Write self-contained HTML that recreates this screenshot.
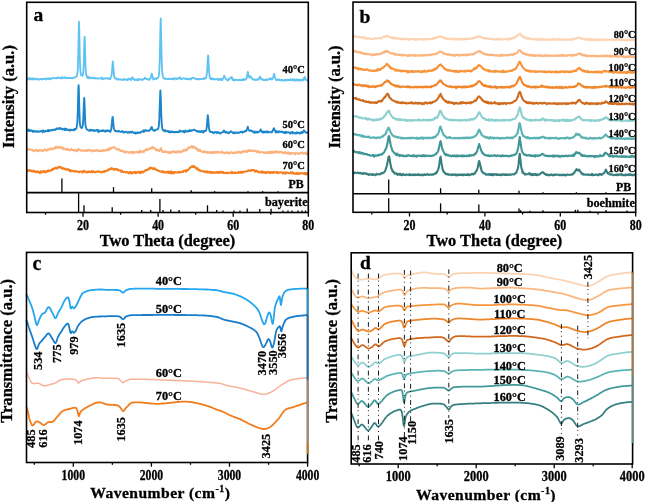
<!DOCTYPE html>
<html><head><meta charset="utf-8"><style>
html,body{margin:0;padding:0;background:#fff;}
svg{display:block;filter:blur(0.3px);}
text{font-family:"Liberation Serif",serif;font-weight:bold;fill:#000;stroke:#000;stroke-width:0.3px;}
</style></head><body>
<svg width="646" height="502" viewBox="0 0 646 502">
<rect width="646" height="502" fill="#fff"/>
<path d="M27.3 170.3 L27.8 170.6 L28.3 170 L28.8 170.9 L29.3 170.5 L29.8 170 L30.3 170.5 L30.8 171.1 L31.3 171.1 L31.8 170.5 L32.3 171.4 L32.8 171.1 L33.3 171.5 L33.8 171.5 L34.3 170.9 L34.8 171.7 L35.3 171.3 L35.8 172.3 L36.3 172.1 L36.8 171.8 L37.3 171.4 L37.8 172 L38.3 172.1 L38.8 171.5 L39.3 173 L39.8 172.2 L40.3 172.7 L40.8 171.4 L41.3 172.7 L41.8 171.3 L42.3 171.6 L42.8 172.1 L43.3 171.8 L43.8 170.7 L44.3 171.2 L44.8 172 L45.3 172.5 L45.8 171.9 L46.3 171.3 L46.8 171.7 L47.3 170.7 L47.8 171.4 L48.3 170.4 L48.8 170.9 L49.3 170.7 L49.8 171 L50.3 170.3 L50.8 170.8 L51.3 170 L51.8 170.2 L52.3 170 L52.8 168.6 L53.3 169.2 L53.8 169 L54.3 168.4 L54.8 168.6 L55.3 167.6 L55.8 168.3 L56.3 168.1 L56.8 167.8 L57.3 168.6 L57.8 167.5 L58.3 167.3 L58.8 166.9 L59.3 167.3 L59.8 166.8 L60.3 167.8 L60.8 167 L61.3 167.5 L61.8 168.5 L62.3 168.3 L62.8 168 L63.3 168.7 L63.8 168.3 L64.3 168.9 L64.8 168.8 L65.3 168.6 L65.8 169.4 L66.3 169.8 L66.8 169.4 L67.3 169.3 L67.8 169.7 L68.3 169 L68.8 170 L69.3 169.9 L69.8 171.4 L70.3 170.4 L70.8 170 L71.3 171.2 L71.8 170.8 L72.3 171 L72.8 171.1 L73.3 171.2 L73.8 171 L74.3 171.7 L74.8 171.5 L75.3 171.1 L75.8 171.3 L76.3 171 L76.8 171.6 L77.3 171.8 L77.8 171.8 L78.3 171.8 L78.8 171.5 L79.3 172.3 L79.8 171.5 L80.3 171.6 L80.8 171.4 L81.3 171.6 L81.8 171.5 L82.3 172.6 L82.8 171.8 L83.3 170.9 L83.8 171.5 L84.3 171.1 L84.8 172.1 L85.3 172.3 L85.8 171.5 L86.3 172 L86.8 171.7 L87.3 172 L87.8 172.6 L88.3 171.6 L88.8 171.2 L89.3 172.1 L89.8 172.1 L90.3 172.1 L90.8 172.3 L91.3 171.5 L91.8 171 L92.3 172.3 L92.8 171.7 L93.3 171.3 L93.8 171.4 L94.3 172.4 L94.8 172 L95.3 172 L95.8 172.3 L96.3 171.6 L96.8 171.4 L97.3 171.5 L97.8 171.4 L98.3 171.8 L98.8 171.5 L99.3 171.9 L99.8 171.7 L100.3 171.8 L100.8 172.1 L101.3 172.4 L101.8 172.4 L102.3 171.7 L102.8 171.7 L103.3 171.3 L103.8 171.9 L104.3 172 L104.8 171 L105.3 171.5 L105.8 170.8 L106.3 170.7 L106.8 170.7 L107.3 170.3 L107.8 170.7 L108.3 169.4 L108.8 169.6 L109.3 169.6 L109.8 169 L110.3 169.4 L110.8 168.4 L111.3 169 L111.8 168.1 L112.3 168.6 L112.8 168.9 L113.3 169.6 L113.8 169.1 L114.3 169.4 L114.8 168.8 L115.3 169.8 L115.8 168.9 L116.3 169.1 L116.8 168.9 L117.3 169.7 L117.8 170.3 L118.3 169.8 L118.8 170.1 L119.3 170.3 L119.8 170.6 L120.3 170.7 L120.8 170.5 L121.3 171.9 L121.8 170.6 L122.3 171.2 L122.8 171.9 L123.3 172.3 L123.8 171.9 L124.3 171.9 L124.8 172.1 L125.3 172.1 L125.8 172.6 L126.3 172.1 L126.8 171.9 L127.3 172.2 L127.8 172.5 L128.3 173 L128.8 173.2 L129.3 172.3 L129.8 171.9 L130.3 171.9 L130.8 173.5 L131.3 172.4 L131.8 172.8 L132.3 173.4 L132.8 172.3 L133.3 172.5 L133.8 172.3 L134.3 172.1 L134.8 173 L135.3 173.1 L135.8 171.7 L136.3 173 L136.8 172.4 L137.3 172.6 L137.8 172.6 L138.3 171.8 L138.8 172.2 L139.3 171.9 L139.8 173.1 L140.3 173.2 L140.8 172.1 L141.3 171.5 L141.8 172.4 L142.3 171.7 L142.8 172.4 L143.3 172.3 L143.8 172 L144.3 170.9 L144.8 170.4 L145.3 170.3 L145.8 170.4 L146.3 169.7 L146.8 170.4 L147.3 169.9 L147.8 169.4 L148.3 168.9 L148.8 169.2 L149.3 169.3 L149.8 167.6 L150.3 168.4 L150.8 168.1 L151.3 167.8 L151.8 168 L152.3 168.2 L152.8 169.1 L153.3 168.4 L153.8 168.3 L154.3 168.1 L154.8 169.3 L155.3 168.8 L155.8 169.3 L156.3 170 L156.8 169.9 L157.3 169.9 L157.8 170.3 L158.3 171 L158.8 170.8 L159.3 171.1 L159.8 171.4 L160.3 171.2 L160.8 171.6 L161.3 171.5 L161.8 172.2 L162.3 172 L162.8 171.1 L163.3 171.9 L163.8 172.5 L164.3 172 L164.8 171.9 L165.3 172.6 L165.8 171.7 L166.3 172.2 L166.8 172.4 L167.3 172.6 L167.8 171.7 L168.3 171.6 L168.8 172.9 L169.3 171.9 L169.8 172.2 L170.3 173.3 L170.8 172 L171.3 171.2 L171.8 173.4 L172.3 172.6 L172.8 172.3 L173.3 173.4 L173.8 172.1 L174.3 172.8 L174.8 172.1 L175.3 172 L175.8 172.4 L176.3 172.4 L176.8 172.6 L177.3 172.5 L177.8 171.8 L178.3 171.9 L178.8 172.8 L179.3 172.2 L179.8 171.9 L180.3 172.4 L180.8 172.4 L181.3 172.3 L181.8 171.4 L182.3 171.4 L182.8 171.8 L183.3 171.9 L183.8 170.7 L184.3 170.9 L184.8 170.9 L185.3 171.3 L185.8 170.1 L186.3 171.6 L186.8 170.2 L187.3 170.1 L187.8 170.5 L188.3 169.5 L188.8 169.2 L189.3 168.4 L189.8 168.3 L190.3 167.3 L190.8 167.4 L191.3 167.1 L191.8 166.4 L192.3 167.1 L192.8 166.8 L193.3 165.7 L193.8 167 L194.3 166.4 L194.8 167.4 L195.3 167.1 L195.8 167.6 L196.3 168.3 L196.8 169.3 L197.3 168.1 L197.8 169 L198.3 169.3 L198.8 170.3 L199.3 169.9 L199.8 170.5 L200.3 171.1 L200.8 171 L201.3 170.7 L201.8 170.9 L202.3 171.1 L202.8 171.4 L203.3 171.1 L203.8 171.5 L204.3 171.9 L204.8 171.5 L205.3 171.6 L205.8 172 L206.3 172.2 L206.8 171.3 L207.3 171.5 L207.8 172.6 L208.3 172.1 L208.8 171.6 L209.3 172.2 L209.8 172.9 L210.3 171.9 L210.8 171.8 L211.3 172.2 L211.8 173 L212.3 172.1 L212.8 172.6 L213.3 172.9 L213.8 172.7 L214.3 172.3 L214.8 172.8 L215.3 172.6 L215.8 172.9 L216.3 172.7 L216.8 172.7 L217.3 171.8 L217.8 172.9 L218.3 172.6 L218.8 171.8 L219.3 172.7 L219.8 172.9 L220.3 172.7 L220.8 171.6 L221.3 172.4 L221.8 172.3 L222.3 172.6 L222.8 171.7 L223.3 172.9 L223.8 173 L224.3 173 L224.8 172.7 L225.3 172.7 L225.8 173.2 L226.3 172.9 L226.8 172.5 L227.3 172.9 L227.8 173 L228.3 173.3 L228.8 172.9 L229.3 172.4 L229.8 172.5 L230.3 172.8 L230.8 172.8 L231.3 173.2 L231.8 171.9 L232.3 172.4 L232.8 172.2 L233.3 173.2 L233.8 173 L234.3 172.8 L234.8 173 L235.3 172.4 L235.8 172.9 L236.3 172.7 L236.8 172.7 L237.3 172.5 L237.8 173 L238.3 173 L238.8 171.9 L239.3 172.3 L239.8 172.5 L240.3 172.7 L240.8 171.7 L241.3 171.9 L241.8 172.1 L242.3 173 L242.8 171.7 L243.3 171.8 L243.8 171.9 L244.3 171.8 L244.8 171.8 L245.3 171.6 L245.8 171.4 L246.3 171.4 L246.8 171.3 L247.3 171.2 L247.8 171.1 L248.3 170.2 L248.8 170.7 L249.3 170.6 L249.8 170.7 L250.3 170.6 L250.8 170.9 L251.3 169.8 L251.8 170.1 L252.3 170.3 L252.8 169.9 L253.3 170.1 L253.8 170.2 L254.3 170.2 L254.8 171.6 L255.3 170.7 L255.8 171.5 L256.3 170.6 L256.8 171.2 L257.3 171 L257.8 171.5 L258.3 172.2 L258.8 172.5 L259.3 172.1 L259.8 172 L260.3 171.9 L260.8 172.2 L261.3 172.7 L261.8 171.4 L262.3 172.1 L262.8 171.8 L263.3 172.8 L263.8 171.8 L264.3 172.7 L264.8 171.9 L265.3 171.9 L265.8 173.1 L266.3 172.9 L266.8 172.1 L267.3 171.7 L267.8 172 L268.3 172.7 L268.8 172.5 L269.3 172.1 L269.8 172.7 L270.3 173.1 L270.8 172 L271.3 172.4 L271.8 172.1 L272.3 173 L272.8 172.5 L273.3 172.2 L273.8 171.7 L274.3 172.8 L274.8 172.4 L275.3 172.5 L275.8 172.4 L276.3 172.7 L276.8 171.7 L277.3 172.1 L277.8 172.6 L278.3 173.3 L278.8 172.6 L279.3 172.4 L279.8 172.2 L280.3 172.2 L280.8 172.4 L281.3 172.2 L281.8 172.6 L282.3 172.6 L282.8 173.5 L283.3 172.6 L283.8 173.1 L284.3 172.5 L284.8 173.1 L285.3 173.8 L285.8 172.5 L286.3 172.2 L286.8 173.2 L287.3 172.8 L287.8 172.7 L288.3 173 L288.8 173 L289.3 173.4 L289.8 173.1 L290.3 172.7 L290.8 172.5 L291.3 172.2 L291.8 172.5 L292.3 173.5 L292.8 172.4 L293.3 173.1 L293.8 173.6 L294.3 173.4 L294.8 173.8 L295.3 173.5 L295.8 173.9 L296.3 172.9 L296.8 172.8 L297.3 174.1 L297.8 173.4 L298.3 173.3 L298.8 173 L299.3 174 L299.8 173.6 L300.3 173.6 L300.8 173.1 L301.3 173.4 L301.8 173.2 L302.3 173.4 L302.8 173.6 L303.3 173.3 L303.8 173.1 L304.3 173.9 L304.8 173.1 L305.3 174.2 L305.8 174.3 L306.3 173 L306.8 174.4 L307.3 173.3" fill="none" stroke="#f47f21" stroke-width="2.0" stroke-linejoin="round" stroke-linecap="round"/>
<path d="M27.3 150.1 L27.8 149.5 L28.3 149.5 L28.8 148.7 L29.3 149.5 L29.8 149.5 L30.3 149.8 L30.8 149.6 L31.3 150 L31.8 149.9 L32.3 149.6 L32.8 150.6 L33.3 150.7 L33.8 151.2 L34.3 150.4 L34.8 150.3 L35.3 150.2 L35.8 149.8 L36.3 150.9 L36.8 150 L37.3 150 L37.8 150.4 L38.3 151.2 L38.8 150.6 L39.3 150.1 L39.8 150.2 L40.3 150.8 L40.8 150.5 L41.3 150.2 L41.8 150.5 L42.3 150.9 L42.8 151.4 L43.3 150 L43.8 150.2 L44.3 150.1 L44.8 149.4 L45.3 150 L45.8 149.9 L46.3 150.8 L46.8 150.2 L47.3 149.4 L47.8 150.3 L48.3 149.8 L48.8 149 L49.3 149.4 L49.8 149.3 L50.3 149 L50.8 149.3 L51.3 148.1 L51.8 148.8 L52.3 149.2 L52.8 149 L53.3 148.9 L53.8 148.7 L54.3 148.7 L54.8 147.4 L55.3 148.1 L55.8 146.8 L56.3 147.2 L56.8 146.5 L57.3 147.8 L57.8 147.8 L58.3 147.1 L58.8 148 L59.3 146.9 L59.8 147.3 L60.3 147.4 L60.8 147 L61.3 147.8 L61.8 148.6 L62.3 147.4 L62.8 148.4 L63.3 148.1 L63.8 149.2 L64.3 148.8 L64.8 149 L65.3 149.2 L65.8 149.1 L66.3 148.6 L66.8 150 L67.3 148.8 L67.8 149.7 L68.3 150 L68.8 149.4 L69.3 150 L69.8 150.5 L70.3 150.1 L70.8 149.7 L71.3 148.9 L71.8 149.8 L72.3 150 L72.8 150.1 L73.3 149.9 L73.8 150.6 L74.3 150.1 L74.8 150.4 L75.3 150.7 L75.8 150.1 L76.3 150.3 L76.8 151.4 L77.3 150.7 L77.8 149.4 L78.3 149.2 L78.6 149 L78.8 149.7 L79.3 150 L79.8 150.1 L80.3 150.1 L80.8 150.8 L81.3 150.6 L81.8 150.3 L82.3 150.4 L82.8 150.3 L83.3 150.8 L83.8 150.2 L84.3 150.7 L84.8 150.9 L85.3 150.7 L85.8 150.1 L86.3 151.1 L86.8 150.2 L87.3 150.7 L87.8 150.2 L88.3 149.7 L88.8 150.6 L89.3 150.6 L89.8 150.4 L90.3 150.6 L90.8 150.2 L91.3 150.2 L91.8 150.5 L92.3 151.4 L92.8 150.9 L93.3 150.3 L93.8 150.8 L94.3 150.4 L94.8 150.4 L95.3 151 L95.8 150.4 L96.3 149.9 L96.8 150.3 L97.3 150.7 L97.8 150.8 L98.3 151.3 L98.8 150.4 L99.3 151.1 L99.8 150.9 L100.3 150.7 L100.8 151.1 L101.3 150.9 L101.8 150.3 L102.3 151.2 L102.8 150.1 L103.3 150.7 L103.8 150.6 L104.3 150.7 L104.8 150.1 L105.3 150.3 L105.8 150.2 L106.3 150.6 L106.8 149.6 L107.3 149.8 L107.8 149.5 L108.3 148.8 L108.8 150.4 L109.3 148.9 L109.8 148 L110.3 149.1 L110.8 147.7 L111.3 148.2 L111.8 148.2 L112.3 147.4 L112.8 147.5 L113.3 147.4 L113.8 147.6 L114.3 147 L114.8 147.3 L115.3 148 L115.8 148.8 L116.3 148.9 L116.8 149.6 L117.3 149.4 L117.8 149.2 L118.3 149.6 L118.8 149 L119.3 149.8 L119.8 150 L120.3 150.8 L120.8 151.1 L121.3 150.8 L121.8 150.9 L122.3 150.6 L122.8 151.4 L123.3 151.6 L123.8 151.8 L124.3 151.3 L124.8 152.6 L125.3 152.3 L125.8 151.8 L126.3 151.7 L126.8 151.8 L127.3 152.1 L127.8 152 L128.3 152.3 L128.8 152.4 L129.3 152.7 L129.8 152.7 L130.3 152.1 L130.8 152.3 L131.3 152 L131.8 151.9 L132.3 153 L132.8 152 L133.3 153.1 L133.8 152 L134.3 152.3 L134.8 152.6 L135.3 152.1 L135.8 152.3 L136.3 152 L136.8 151.9 L137.3 152 L137.8 151.7 L138.3 152.7 L138.8 151.9 L139.3 152.7 L139.8 150.6 L140.3 151.8 L140.8 151.9 L141.3 151.4 L141.8 152 L142.3 151.6 L142.8 151.1 L143.3 151.2 L143.8 152.1 L144.3 150.8 L144.8 150.6 L145.3 150 L145.8 150 L146.3 149.1 L146.8 149.4 L147.3 150.3 L147.8 149.4 L148.3 149 L148.8 149 L149.3 149.1 L149.8 148.3 L150.3 148.8 L150.8 148.3 L151.3 147.8 L151.8 148.5 L152.3 146.7 L152.8 147.6 L153.3 148.1 L153.8 147.7 L154.3 148.2 L154.8 148.2 L155.3 148.5 L155.8 150.2 L156.3 149.6 L156.8 149.5 L157.3 150.4 L157.8 149.9 L158.3 150.6 L158.8 150.5 L159.3 151.2 L159.8 149.8 L160.3 150 L160.8 148.5 L161 148.3 L161.3 149.3 L161.8 150 L162.3 151.9 L162.8 151.7 L163.3 151.9 L163.8 151.8 L164.3 152.2 L164.8 151 L165.3 151.9 L165.8 151.7 L166.3 152.1 L166.8 152 L167.3 152.3 L167.8 151.7 L168.3 152.9 L168.8 153.1 L169.3 152 L169.8 152.1 L170.3 152.2 L170.8 152.6 L171.3 152.9 L171.8 151.5 L172.3 151.8 L172.8 151.6 L173.3 151.6 L173.8 151.3 L174.3 152.2 L174.8 151.5 L175.3 152.7 L175.8 152.4 L176.3 151.6 L176.8 151.5 L177.3 151.7 L177.8 152.6 L178.3 151.5 L178.8 151.2 L179.3 151.8 L179.8 152 L180.3 151.4 L180.8 152.4 L181.3 151.7 L181.8 151.7 L182.3 151 L182.8 151.2 L183.3 151 L183.8 149.9 L184.3 150.8 L184.8 149.7 L185.3 150.2 L185.8 149.3 L186.3 150.6 L186.8 149.5 L187.3 149.4 L187.8 149.1 L188.3 147.8 L188.8 147 L189.3 147.5 L189.8 147.8 L190.3 147.2 L190.8 147.3 L191.3 147.2 L191.8 146 L192.3 146.8 L192.8 147.7 L193.3 146.7 L193.8 146.3 L194.3 147.4 L194.8 147.6 L195.3 148.3 L195.8 148.1 L196.3 148.9 L196.8 148.2 L197.3 149.9 L197.8 150.5 L198.3 150.7 L198.8 149.7 L199.3 150.8 L199.8 149.5 L200.3 151.2 L200.8 151.2 L201.3 151 L201.8 151.7 L202.3 151.7 L202.8 152.2 L203.3 151.9 L203.8 152.1 L204.3 151.1 L204.8 151.5 L205.3 151.9 L205.8 152.3 L206.3 152.2 L206.8 152.9 L207.3 151.9 L207.8 152.2 L208.3 152.4 L208.8 152.2 L209.3 152.6 L209.8 152.1 L210.3 153 L210.8 152.3 L211.3 152.9 L211.8 152.4 L212.3 153.1 L212.8 151.8 L213.3 152.7 L213.8 152.3 L214.3 152.6 L214.8 153 L215.3 152 L215.8 151.9 L216.3 152.1 L216.8 152.6 L217.3 151.7 L217.8 152.6 L218.3 152 L218.8 152 L219.3 152.4 L219.8 152.7 L220.3 152.3 L220.8 152.4 L221.3 152.6 L221.8 152.5 L222.3 151.4 L222.8 152.4 L223.3 152.6 L223.8 153.1 L224.3 153.5 L224.8 152.9 L225.3 152.7 L225.8 152.2 L226.3 152.7 L226.8 153 L227.3 153.2 L227.8 152.2 L228.3 152.8 L228.8 153 L229.3 153.5 L229.8 152.8 L230.3 152.4 L230.8 152.3 L231.3 152.5 L231.8 152.4 L232.3 153 L232.8 153.1 L233.3 153 L233.8 153.2 L234.3 152.4 L234.8 152.8 L235.3 152.4 L235.8 152.6 L236.3 153.1 L236.8 152.5 L237.3 151.7 L237.8 152.4 L238.3 152.1 L238.8 151.7 L239.3 152 L239.8 152.8 L240.3 153 L240.8 152 L241.3 152.6 L241.8 152.6 L242.3 151.4 L242.8 151.9 L243.3 151.8 L243.8 151.7 L244.3 150.8 L244.8 151.3 L245.3 151.8 L245.8 151.8 L246.3 151.9 L246.8 150.8 L247.3 151.7 L247.8 151.1 L248.3 150.1 L248.8 151 L249.3 150.4 L249.8 150.7 L250.3 150.4 L250.8 151 L251.3 150.6 L251.8 150.4 L252.3 151 L252.8 150.7 L253.3 150.5 L253.8 151.3 L254.3 150.7 L254.8 150.7 L255.3 150.9 L255.8 150.6 L256.3 151.1 L256.8 152.3 L257.3 151.2 L257.8 151.7 L258.3 151.3 L258.8 151.7 L259.3 152.7 L259.8 152.6 L260.3 152 L260.8 152.3 L261.3 152 L261.8 152.1 L262.3 152.1 L262.8 152.2 L263.3 152.8 L263.8 152.9 L264.3 152.9 L264.8 152.6 L265.3 152.1 L265.8 152.7 L266.3 152.3 L266.8 153.1 L267.3 153 L267.8 153 L268.3 152.5 L268.8 151.8 L269.3 153 L269.8 153.1 L270.3 151.8 L270.8 152.5 L271.3 152.9 L271.8 151.8 L272.3 153 L272.8 152 L273.3 151.6 L273.8 152.7 L274.3 152.1 L274.8 151.7 L275.3 152.3 L275.8 151.1 L276.3 152.7 L276.8 151.6 L277.3 152.1 L277.8 151.8 L278.3 152.2 L278.8 152.5 L279.3 151.7 L279.8 152.5 L280.3 152.1 L280.8 152 L281.3 152.3 L281.8 152 L282.3 152.2 L282.8 153.1 L283.3 152.6 L283.8 153.3 L284.3 153 L284.8 152.4 L285.3 152.1 L285.8 152.7 L286.3 153.2 L286.8 153.1 L287.3 152.7 L287.8 153.6 L288.3 152.4 L288.8 152.6 L289.3 153.3 L289.8 154.2 L290.3 153.4 L290.8 152.8 L291.3 153.5 L291.8 153.6 L292.3 153.7 L292.8 153.1 L293.3 152.9 L293.8 153.4 L294.3 153.5 L294.8 154 L295.3 154.3 L295.8 153 L296.3 153.1 L296.8 153.3 L297.3 153.2 L297.8 153.6 L298.3 153.6 L298.8 153.5 L299.3 154 L299.8 153.3 L300.3 152.9 L300.8 152.7 L301.3 152.9 L301.8 152.9 L302.3 152.6 L302.8 153.7 L303.3 153.5 L303.8 153.3 L304.3 153.1 L304.8 152.8 L305.3 153.1 L305.8 154.3 L306.3 152.5 L306.8 153.6 L307.3 153.9" fill="none" stroke="#fbb27c" stroke-width="2.0" stroke-linejoin="round" stroke-linecap="round"/>
<path d="M27.3 130.1 L27.8 130.3 L28.3 129.6 L28.8 131.1 L29.3 129.8 L29.8 130.3 L30.3 130.9 L30.8 130.3 L31.3 130.4 L31.8 130.5 L32.3 131.2 L32.8 131.9 L33.3 131.1 L33.8 130.7 L34.3 131.4 L34.8 131.1 L35.3 131.4 L35.8 131.9 L36.3 131.2 L36.8 131.6 L37.3 131.3 L37.8 131.6 L38.3 131.9 L38.8 131.3 L39.3 131.6 L39.8 131.5 L40.3 131.3 L40.8 131.1 L41.3 130.9 L41.8 131.4 L42.3 131.3 L42.8 132.2 L43.3 130.3 L43.8 131.3 L44.3 131.3 L44.8 131.7 L45.3 131.3 L45.8 130.7 L46.3 130.9 L46.8 131.1 L47.3 130.7 L47.8 131.1 L48.3 129.9 L48.8 131.3 L49.3 131.1 L49.8 130.3 L50.3 130.6 L50.8 130.3 L51.3 129.9 L51.8 130.2 L52.3 130.5 L52.8 129.8 L53.3 129.7 L53.8 129.8 L54.3 129.8 L54.8 130.1 L55.3 129.2 L55.8 129.5 L56.3 129.3 L56.8 128.3 L57.3 128.8 L57.8 128.9 L58.3 128.8 L58.8 128.9 L59.3 127.9 L59.8 128.8 L60.3 128.5 L60.8 128.2 L61.3 129.1 L61.8 129.2 L62.3 128.7 L62.8 129.4 L63.3 129 L63.8 129.3 L64.3 128.9 L64.8 130.1 L65.3 128.5 L65.8 129.6 L66.3 130 L66.8 129 L67.3 129.8 L67.8 129.8 L68.3 130.2 L68.8 130.4 L69.3 129.8 L69.8 129.4 L70.3 130.5 L70.8 130.4 L71.3 129.8 L71.8 130.1 L72.3 130.1 L72.8 130.1 L73.3 129.9 L73.8 130.3 L74.3 128.9 L74.8 129.9 L75.3 129.4 L75.8 128.8 L76.3 128.8 L76.8 126.1 L77.3 123.6 L77.8 111.5 L78.3 91 L78.6 85.2 L78.8 88 L79.3 108.7 L79.8 122.1 L80.3 126.5 L80.8 127.4 L81.3 127.9 L81.8 128 L82.3 127.4 L82.8 125.3 L83.3 118.6 L83.8 105.1 L84.2 98 L84.3 98.3 L84.8 111 L85.3 123.8 L85.8 126.7 L86.3 128.3 L86.8 129.5 L87.3 129.5 L87.8 130 L88.3 130.3 L88.8 130.6 L89.3 130.5 L89.8 129.9 L90.3 130.8 L90.8 129.7 L91.3 130.3 L91.8 130.2 L92.3 130 L92.8 130.7 L93.3 130.4 L93.8 130.9 L94.3 130 L94.8 130.9 L95.3 130.8 L95.8 130.7 L96.3 130.1 L96.8 130.5 L97.3 130 L97.8 129.8 L98.3 132 L98.8 131.1 L99.3 131.4 L99.8 130.5 L100.3 131 L100.8 131 L101.3 131 L101.8 130.8 L102.3 130.7 L102.8 130 L103.3 131.1 L103.8 131 L104.3 131.3 L104.8 130.7 L105.3 131.6 L105.8 130.7 L106.3 130.4 L106.8 131.2 L107.3 130.7 L107.8 130.3 L108.3 130.9 L108.8 131.1 L109.3 130.8 L109.8 130.8 L110.3 132 L110.8 130.3 L111.3 129.1 L111.8 123.8 L112.3 118.7 L112.6 116.9 L112.8 117.5 L113.3 123.1 L113.8 128.2 L114.3 129.7 L114.8 130.3 L115.3 131.2 L115.8 131.4 L116.3 131.1 L116.8 130.9 L117.3 131.4 L117.8 131.5 L118.3 131.5 L118.8 130.7 L119.3 131.2 L119.8 131.6 L120.3 131.7 L120.8 131.9 L121.3 131.9 L121.8 131.2 L122.3 131.4 L122.8 131.3 L123.3 132.5 L123.8 131.9 L124.3 132.1 L124.8 132.4 L125.3 131.9 L125.8 131.6 L126.3 131.9 L126.8 132.1 L127.3 132.8 L127.8 132.6 L128.3 131.9 L128.8 132.6 L129.3 132.7 L129.8 132 L130.3 132.4 L130.8 131.8 L131.3 132.6 L131.8 132.2 L132.3 131.6 L132.4 132.1 L132.8 132.4 L133.3 132.4 L133.8 132.8 L134.3 133 L134.8 132.5 L135.3 132.7 L135.8 133.7 L136.3 132.9 L136.8 132.6 L137.3 133 L137.8 132.3 L138.3 133.1 L138.8 132.7 L139.3 132.9 L139.8 132.7 L140.3 132.3 L140.8 132.5 L141.3 132 L141.8 131.6 L142.3 131.3 L142.8 131.4 L143.3 130.4 L143.8 132 L144.3 130.5 L144.8 131 L145.3 130.4 L145.8 130 L146.3 130.7 L146.8 130.6 L147.3 130.7 L147.8 130.9 L148.3 130.4 L148.8 130.7 L149.3 130.7 L149.8 130.2 L150.3 129.7 L150.8 128.8 L151.3 127.4 L151.4 127.4 L151.8 127 L152.3 129.3 L152.8 130.1 L153.3 130.1 L153.8 130.4 L154.3 131 L154.8 130.2 L155.3 130.4 L155.8 129.7 L156.3 129.6 L156.8 129.6 L157.3 129.2 L157.8 129.2 L158.3 128.1 L158.8 126.3 L159.3 119.4 L159.8 105 L160.3 90.9 L160.4 90.5 L160.8 98.4 L161.3 115.1 L161.8 124.7 L162.3 128.6 L162.8 130 L163.3 130.3 L163.8 130.2 L164.3 131.3 L164.8 130.2 L165.3 130.2 L165.8 131.2 L166.3 131.2 L166.8 131.3 L167.3 131.4 L167.8 130.8 L168.3 131.1 L168.8 132.1 L169.3 132.1 L169.8 131.4 L170.3 132.5 L170.8 131.4 L171.3 131.6 L171.8 132 L172.3 131.5 L172.8 131.8 L173.3 132 L173.8 132 L174.3 132.5 L174.8 132.4 L175.3 131.8 L175.8 131.9 L176.3 132.2 L176.8 132 L177.3 131.7 L177.8 132.1 L178.3 132.2 L178.8 131.5 L179.3 131.8 L179.8 130.6 L179.9 131.2 L180.3 131.5 L180.8 131.2 L181.3 131.2 L181.8 131.5 L182.3 131.3 L182.8 131.6 L183.3 130.9 L183.8 131.3 L184.3 132.6 L184.8 131.4 L185.3 130.5 L185.8 131.5 L186.3 131.4 L186.8 131.7 L187.3 131.1 L187.8 130.8 L188.3 131.5 L188.8 131.2 L189.3 130.1 L189.8 131.1 L190.3 130.6 L190.8 131 L191.3 130.3 L191.8 130.7 L192.3 130.4 L192.8 130.4 L193.3 129.9 L193.8 129.6 L194.3 129.8 L194.8 130.1 L195.3 130.2 L195.8 130.9 L196.3 130.7 L196.8 131 L197.3 131.8 L197.8 131.2 L198.3 131.5 L198.8 131.1 L199.3 131.5 L199.8 132.1 L200.3 131.6 L200.8 132.1 L201.3 131.1 L201.8 131 L202.3 131.7 L202.8 131 L203.3 132.6 L203.8 132 L204.3 131 L204.8 131.3 L205.3 131 L205.8 131 L206.3 129.7 L206.8 126.9 L207.3 120.6 L207.8 115.2 L208.3 119.6 L208.8 126.8 L209.3 129.9 L209.8 131.5 L210.3 131.4 L210.8 132.1 L211.3 132 L211.8 131.9 L212.3 131.9 L212.8 132.4 L213.3 133.2 L213.8 132.5 L214.3 132.2 L214.8 132.6 L215.3 132.3 L215.8 131.8 L216.3 132.5 L216.8 133 L217.3 132.3 L217.8 131.9 L218.3 132.6 L218.8 133.2 L219.3 132.8 L219.8 132.9 L220.3 133.4 L220.8 133.1 L221.3 132.8 L221.8 132.4 L222.3 132.4 L222.8 132.1 L223.3 131.9 L223.8 130.5 L224 130.8 L224.3 131 L224.8 131.6 L225.3 132.6 L225.8 131.7 L226.3 132.3 L226.8 132.4 L227.3 133 L227.8 132.5 L228.3 133.2 L228.8 132.5 L229.3 132.8 L229.8 132 L230.3 132.1 L230.8 131.2 L231.3 131.9 L231.8 132.1 L232.3 132.2 L232.8 132.7 L233.3 133.3 L233.8 132.5 L234.3 132.3 L234.8 132.8 L235.3 133.3 L235.8 132.5 L236.3 132.6 L236.8 132.9 L237.3 132.6 L237.8 132.8 L238.3 133 L238.8 132.5 L239.3 132.4 L239.8 132.6 L240.3 132.2 L240.8 131.8 L241.3 131.7 L241.8 131.6 L242.3 132.7 L242.8 131.8 L243.3 132 L243.8 132 L244.3 131.2 L244.8 131.7 L245.3 131.2 L245.8 130.5 L246.3 131 L246.8 129.8 L247.3 128.2 L247.8 126.8 L248.3 129.2 L248.8 130 L249.3 130.7 L249.8 130.8 L250.3 130.5 L250.5 130.4 L250.8 130.2 L251.3 130.7 L251.8 131.4 L252.3 131.3 L252.8 131.6 L253.3 131.5 L253.8 132.5 L254.3 131.5 L254.8 132.9 L255.3 131.9 L255.8 131.8 L256.3 131.7 L256.8 132.5 L257.3 132.6 L257.8 131.8 L258.3 132.2 L258.8 131.9 L259.3 131.4 L259.8 130.8 L260.3 130.3 L260.4 129.9 L260.8 129.5 L261.3 131.3 L261.8 131.8 L262.3 132.3 L262.8 131.4 L263.3 131.7 L263.8 132.7 L264.3 131.6 L264.8 132.3 L265.3 131.8 L265.8 132 L266.3 131.6 L266.8 132.6 L267.3 131.3 L267.8 131.6 L268.3 131.7 L268.8 132.5 L269.3 132.2 L269.8 132.3 L270.3 132 L270.8 132.1 L271.3 132.1 L271.8 132.4 L272.3 131.6 L272.8 130.1 L273.3 129.7 L273.8 128.2 L274.3 128.8 L274.8 130.6 L275.3 131 L275.8 132.6 L276.3 131.7 L276.8 131.1 L277.3 132 L277.8 131.6 L278.3 132.5 L278.8 132.1 L279.3 131.3 L279.8 131.9 L280.3 131.7 L280.8 131.8 L281.3 131.9 L281.8 131.4 L282.3 132.3 L282.8 131.9 L283.3 132 L283.8 132.6 L284.3 133.1 L284.8 132.2 L285.3 133.2 L285.8 131.6 L286.3 132.7 L286.8 132.3 L287.3 132.5 L287.8 132.2 L288.3 132.4 L288.8 132.5 L289.3 132.5 L289.8 132.9 L290.3 133.7 L290.8 132.5 L291.3 132.7 L291.8 132.1 L292.3 131.9 L292.8 133.5 L293.3 132.4 L293.8 132.7 L294.3 133 L294.8 133.3 L295.3 133.1 L295.8 133.7 L296.3 132.9 L296.8 132.2 L297.3 133 L297.8 133 L298.3 132.6 L298.8 132.8 L299.3 132.7 L299.8 133.7 L300.3 132.7 L300.8 132.4 L301.3 133 L301.8 132.1 L302.3 133 L302.8 132.7 L303.3 131.5 L303.8 130.5 L304.1 130.4 L304.3 131.2 L304.8 131.8 L305.3 131.9 L305.8 132.3 L306.3 132.8 L306.8 132.9 L307.3 132.6" fill="none" stroke="#1b86cb" stroke-width="1.9" stroke-linejoin="round" stroke-linecap="round"/>
<path d="M27.3 79.5 L27.8 78.6 L28.3 78.6 L28.8 78.4 L29.3 79.2 L29.8 78 L30.3 79.6 L30.8 78.6 L31.3 79.1 L31.8 78.9 L32.3 79.6 L32.8 78.2 L33.3 78.9 L33.8 78.9 L34.3 79.5 L34.8 78.6 L35.3 79 L35.8 78.7 L36.3 79.1 L36.8 79.4 L37.3 78.7 L37.8 79.6 L38.3 79.5 L38.8 79.4 L39.3 79.6 L39.8 78.9 L40.3 79.2 L40.8 78.9 L41.3 79.2 L41.8 79.5 L42.3 79 L42.8 79 L43.3 78.9 L43.8 78.8 L44.3 78.8 L44.8 79 L45.3 78.5 L45.8 79 L46.3 79.5 L46.8 79.1 L47.3 78.7 L47.8 78.3 L48.3 78.3 L48.8 79.3 L49.3 78.6 L49.8 78.2 L50.3 78.5 L50.8 79.2 L51.3 78.4 L51.8 78.5 L52.3 78.4 L52.8 78 L53.3 77.7 L53.8 77.9 L54.3 78 L54.8 78.2 L55.3 78.3 L55.8 78.3 L56.3 77.9 L56.8 78.1 L57.3 77.4 L57.8 78.2 L58.3 77.9 L58.8 77.6 L59.3 77.9 L59.8 77.7 L60.3 78.2 L60.8 78.4 L61.3 78.6 L61.8 77.2 L62.3 77.2 L62.8 77.6 L63.3 77.9 L63.8 78.2 L64.3 78 L64.8 77.1 L65.3 77.8 L65.8 78.2 L66.3 78 L66.8 78.2 L67.3 77.9 L67.8 77.9 L68.3 78 L68.8 78.1 L69.3 78.1 L69.8 78 L70.3 77.7 L70.8 78.1 L71.3 78 L71.8 78.4 L72.3 78.4 L72.8 77.9 L73.3 77.6 L73.8 77.4 L74.3 77.8 L74.8 77.5 L75.3 77.1 L75.8 77 L76.3 76.3 L76.8 76.1 L77.3 74 L77.8 69.5 L78.3 52.6 L78.8 26.2 L79 21.7 L79.3 30.5 L79.8 57.1 L80.3 70 L80.8 74.2 L81.3 75.4 L81.8 75.2 L82.3 75.8 L82.8 75.3 L83.3 71.9 L83.8 62.5 L84.3 42.6 L84.6 36.7 L84.8 39.2 L85.3 59.7 L85.8 71.6 L86.3 75.2 L86.8 76.1 L87.3 77.5 L87.8 78.1 L88.3 76.8 L88.8 78.2 L89.3 78.4 L89.8 78 L90.3 77.4 L90.8 78.3 L91.3 77.9 L91.8 77.8 L92.3 77.6 L92.8 78.3 L93.3 78.4 L93.8 77.9 L94.3 78.4 L94.8 77.7 L95.3 78.5 L95.8 78.2 L96.3 78.1 L96.8 78.2 L97.3 78.6 L97.8 78.6 L98.3 78.5 L98.8 78.3 L99.3 78.3 L99.8 78.5 L100.3 78.4 L100.8 78.6 L101.3 78.2 L101.8 77.4 L102.3 78.8 L102.8 79.3 L103.3 78.6 L103.8 78.5 L104.3 78.5 L104.8 78.5 L105.3 78.6 L105.8 78.1 L106.3 78.4 L106.8 78.2 L107.3 78.7 L107.8 78.5 L108.3 78.8 L108.8 78.5 L109.3 78.9 L109.8 78.5 L110.3 79.1 L110.8 77 L111.3 76.4 L111.8 73.6 L112.3 67.4 L112.8 61.3 L113.3 66.4 L113.8 73.2 L114.3 77.3 L114.8 77.9 L115.3 78.7 L115.8 78.6 L116.3 78.3 L116.8 79.1 L117.3 79.3 L117.8 79.7 L118.3 79.1 L118.8 79 L119.3 79.5 L119.8 79.4 L120.3 79.4 L120.8 79.3 L121.3 79.8 L121.8 79.5 L122.3 80.1 L122.8 79.8 L123.3 79.6 L123.8 78.7 L124.3 79.6 L124.8 79.6 L125.3 79.7 L125.8 79.8 L126.3 79.3 L126.8 79.8 L127.3 79.2 L127.8 80.2 L128.3 78.9 L128.8 78.7 L129.3 78.8 L129.8 79.1 L130.3 79 L130.8 80.1 L131.3 79 L131.8 77.9 L132.3 77.9 L132.4 77.4 L132.8 77.5 L133.3 79.3 L133.8 79.6 L134.3 79.3 L134.8 80 L135.3 79.5 L135.8 80.1 L136.3 79.7 L136.8 80.1 L137.3 79.6 L137.8 79 L138.3 80.5 L138.8 79.3 L139.3 79.4 L139.8 79.2 L140.3 79.4 L140.8 79.6 L141.3 79.6 L141.8 79.7 L142.3 80.2 L142.8 79.4 L143.3 78.9 L143.8 78.9 L144.3 78.8 L144.8 77.8 L145.2 78.1 L145.3 77.9 L145.8 78.6 L146.3 79.2 L146.8 78.8 L147.3 79 L147.8 79.6 L148.3 79.5 L148.8 79.1 L149.3 79.9 L149.8 78.6 L150.3 78.7 L150.8 77.9 L151.3 74.6 L151.8 73.7 L152.3 75.8 L152.8 77.4 L153.3 79.5 L153.8 79.1 L154.3 79.1 L154.8 78.7 L155.3 78.9 L155.8 78.2 L156.3 79 L156.8 78.3 L157.3 78.2 L157.8 78.2 L158.3 77.1 L158.8 75.7 L159.3 71.5 L159.8 57.9 L160.3 32.3 L160.7 18.3 L160.8 19.6 L161.3 43.8 L161.8 64.7 L162.3 73.3 L162.8 75.7 L163.3 77.8 L163.8 77.8 L164.3 78.8 L164.8 78.2 L165.3 78.5 L165.8 78.9 L166.3 79.3 L166.8 79 L167.3 79.1 L167.8 79 L168.3 79.1 L168.8 78.6 L169.3 79.1 L169.8 78.9 L170.3 79 L170.8 79.2 L171.3 78.6 L171.8 78.7 L172.2 78.7 L172.3 78.9 L172.8 79.1 L173.3 78.5 L173.8 79.1 L174.3 79.6 L174.8 78.2 L175.3 78.4 L175.8 78.4 L176.3 78.6 L176.8 79.3 L177.3 78.6 L177.8 78.3 L178.3 78.7 L178.8 78 L179.3 78.3 L179.8 77.5 L179.9 77.4 L180.3 77.4 L180.8 79.4 L181.3 78.8 L181.8 78.8 L182.3 78.6 L182.8 78.4 L183.3 78.3 L183.8 78.6 L184.3 78.4 L184.8 78.9 L185.3 78.4 L185.8 79 L186.3 79.2 L186.8 78.5 L187.3 79.3 L187.8 78.8 L188.3 79.3 L188.8 79.1 L189.3 79.4 L189.8 78.5 L190.3 78.9 L190.8 79.5 L191.3 78.7 L191.8 78.1 L192.3 78.1 L192.8 77.8 L193.3 77.7 L193.8 78 L194.1 78.1 L194.3 78 L194.8 78.7 L195.3 78.8 L195.8 79 L196.3 78.9 L196.8 78.9 L197.3 79.2 L197.8 78.6 L198.3 79.4 L198.8 79.4 L199.3 79 L199.8 79.4 L200.3 78.8 L200.8 78.8 L201.3 79.1 L201.8 78.9 L202.3 78.8 L202.8 78.7 L203.3 78.7 L203.8 79.2 L204.3 78 L204.8 78.8 L205.3 78.4 L205.8 78.4 L206.3 77.5 L206.8 73.7 L207.3 68.5 L207.8 58.5 L208.1 55.5 L208.3 56.7 L208.8 66.8 L209.3 73.8 L209.8 77.8 L210.3 78.3 L210.8 79.3 L211.3 78.4 L211.8 78.2 L212.3 79.3 L212.8 79.4 L213.3 79.1 L213.8 78.6 L214.3 79 L214.8 79.5 L215.3 79.2 L215.8 79.3 L216.3 79.3 L216.8 79 L217.3 79.2 L217.8 78.8 L218.3 80.1 L218.8 79.2 L219.3 79.6 L219.8 79 L220.3 79.8 L220.8 78.7 L221.3 79.8 L221.8 79.4 L222.3 80.2 L222.8 78.6 L223.3 78.3 L223.8 76.9 L224.2 75.9 L224.3 75.8 L224.8 77.5 L225.3 77.9 L225.8 78.9 L226.3 79.6 L226.8 79.9 L227.3 79.4 L227.8 80.4 L228.3 80.3 L228.8 79.5 L229.3 78.5 L229.8 78.6 L230.3 78.4 L230.8 78.2 L231.3 77.1 L231.8 77 L232.3 78.7 L232.8 80 L233.3 79.5 L233.8 79.4 L234.3 80.6 L234.8 79.8 L235.3 79.6 L235.8 80 L236.3 79.8 L236.8 79.6 L237.3 80.3 L237.8 80.2 L238.3 80.1 L238.8 79.7 L239.3 80.2 L239.8 79.7 L240.3 79.9 L240.8 80.2 L241.3 80 L241.8 80.4 L242.3 79.9 L242.8 79 L243.3 79.2 L243.8 80.1 L244.3 79.4 L244.8 79.6 L245.3 79.1 L245.8 79.6 L246.3 78.6 L246.8 78 L247.3 74.2 L247.8 71.9 L248.3 74.4 L248.8 76.4 L249.3 77.6 L249.8 76.2 L250.3 76.1 L250.8 77 L251.3 77.6 L251.8 78.4 L252.3 79 L252.8 78.9 L253.3 79.8 L253.8 79.7 L254.3 79.4 L254.8 79.4 L255.3 79.6 L255.8 80.2 L256.3 79.8 L256.8 79.3 L257.3 79.8 L257.8 79.4 L258.3 79.2 L258.8 79.7 L259.3 77.9 L259.8 76.9 L260 77 L260.3 76.7 L260.8 78.5 L261.3 78.8 L261.8 79.6 L262.3 79.1 L262.8 79.2 L263.3 79.9 L263.8 80.2 L264.3 79.9 L264.8 80.1 L265.3 80.3 L265.8 80.1 L266.3 79.3 L266.8 79.6 L267.3 79.9 L267.8 79.5 L268.3 79.8 L268.8 78.8 L269.3 78.8 L269.8 78.8 L270.3 78.2 L270.8 78.9 L271.3 79.5 L271.8 78.8 L272.3 79.3 L272.8 78.4 L273.3 77 L273.8 74.5 L274.1 73.9 L274.3 74 L274.8 76.7 L275.3 78.3 L275.8 79.5 L276.3 80.2 L276.8 79.7 L277.3 79.8 L277.8 79.3 L278.3 80.1 L278.8 79.5 L279.3 79.5 L279.8 80.1 L280.3 79.9 L280.8 80.3 L281.3 80.5 L281.8 79.7 L282.3 80 L282.8 80.6 L283.3 80.3 L283.8 80.2 L284.3 80.5 L284.8 79.7 L285.3 80.2 L285.8 80.5 L286.3 80.6 L286.8 79.7 L287.3 79.9 L287.8 80.2 L288.3 79.9 L288.8 79.9 L289.3 80.3 L289.8 79.9 L290.3 79.3 L290.8 80.2 L291.3 79.9 L291.8 79.8 L292.3 79.4 L292.8 80.5 L293.3 79.2 L293.8 79.4 L294.3 80 L294.8 80.6 L295.3 80.6 L295.8 79.6 L296.3 80 L296.8 79.5 L297.3 80.5 L297.8 79.5 L298.3 80 L298.8 80.5 L299.3 80 L299.8 80.6 L300.3 79.7 L300.8 80.2 L301.3 80.4 L301.8 79.9 L302.3 80.5 L302.8 80 L303.3 78.8 L303.8 80.1 L304.3 77.6 L304.5 77.2 L304.8 77 L305.3 78.8 L305.8 79.4 L306.3 80.1 L306.8 80.1 L307.3 80.7" fill="none" stroke="#5ec2f3" stroke-width="1.8" stroke-linejoin="round" stroke-linecap="round"/>
<line x1="61.9" y1="178.5" x2="61.9" y2="192.6" stroke="#000" stroke-width="1.3"/><line x1="113.5" y1="187.2" x2="113.5" y2="192.6" stroke="#000" stroke-width="1.3"/><line x1="151.7" y1="188.3" x2="151.7" y2="192.6" stroke="#000" stroke-width="1.3"/><line x1="191.2" y1="190.3" x2="191.2" y2="192.6" stroke="#000" stroke-width="1.3"/><line x1="214.6" y1="191.2" x2="214.6" y2="192.6" stroke="#000" stroke-width="1.3"/><line x1="248" y1="191.2" x2="248" y2="192.6" stroke="#000" stroke-width="1.3"/><line x1="262.6" y1="191.2" x2="262.6" y2="192.6" stroke="#000" stroke-width="1.3"/><line x1="278.1" y1="191.2" x2="278.1" y2="192.6" stroke="#000" stroke-width="1.3"/>
<line x1="78.6" y1="193.4" x2="78.6" y2="212.5" stroke="#000" stroke-width="1.3"/><line x1="84" y1="205.3" x2="84" y2="212.5" stroke="#000" stroke-width="1.3"/><line x1="112.2" y1="207.3" x2="112.2" y2="212.5" stroke="#000" stroke-width="1.3"/><line x1="141.7" y1="209.9" x2="141.7" y2="212.5" stroke="#000" stroke-width="1.3"/><line x1="150.7" y1="209.9" x2="150.7" y2="212.5" stroke="#000" stroke-width="1.3"/><line x1="159.9" y1="199.1" x2="159.9" y2="212.5" stroke="#000" stroke-width="1.3"/><line x1="163" y1="209.9" x2="163" y2="212.5" stroke="#000" stroke-width="1.3"/><line x1="170.8" y1="209.5" x2="170.8" y2="212.5" stroke="#000" stroke-width="1.3"/><line x1="179.1" y1="209.9" x2="179.1" y2="212.5" stroke="#000" stroke-width="1.3"/><line x1="207.5" y1="205.3" x2="207.5" y2="212.5" stroke="#000" stroke-width="1.3"/><line x1="216.7" y1="209.9" x2="216.7" y2="212.5" stroke="#000" stroke-width="1.3"/><line x1="247.2" y1="208.4" x2="247.2" y2="212.5" stroke="#000" stroke-width="1.3"/><line x1="259.8" y1="209" x2="259.8" y2="212.5" stroke="#000" stroke-width="1.3"/><line x1="271.1" y1="208.8" x2="271.1" y2="212.5" stroke="#000" stroke-width="1.3"/><line x1="223" y1="210.5" x2="223" y2="212.5" stroke="#000" stroke-width="1.3"/><line x1="234" y1="210.5" x2="234" y2="212.5" stroke="#000" stroke-width="1.3"/><line x1="240" y1="210.6" x2="240" y2="212.5" stroke="#000" stroke-width="1.3"/><line x1="283" y1="210.5" x2="283" y2="212.5" stroke="#000" stroke-width="1.3"/><line x1="288" y1="210.6" x2="288" y2="212.5" stroke="#000" stroke-width="1.3"/><line x1="292" y1="210.5" x2="292" y2="212.5" stroke="#000" stroke-width="1.3"/><line x1="298" y1="210.6" x2="298" y2="212.5" stroke="#000" stroke-width="1.3"/><line x1="302" y1="210.5" x2="302" y2="212.5" stroke="#000" stroke-width="1.3"/><line x1="305.5" y1="210.5" x2="305.5" y2="212.5" stroke="#000" stroke-width="1.3"/>
<rect x="26.7" y="2.3" width="281.6" height="210.2" fill="none" stroke="#000" stroke-width="1.6"/>
<line x1="26.7" y1="192.6" x2="308.3" y2="192.6" stroke="#000" stroke-width="1.6"/>
<line x1="45.5" y1="212.5" x2="45.5" y2="214.8" stroke="#000" stroke-width="1.3"/>
<line x1="83" y1="212.5" x2="83" y2="216.7" stroke="#000" stroke-width="1.3"/>
<line x1="120.6" y1="212.5" x2="120.6" y2="214.8" stroke="#000" stroke-width="1.3"/>
<line x1="158.1" y1="212.5" x2="158.1" y2="216.7" stroke="#000" stroke-width="1.3"/>
<line x1="195.7" y1="212.5" x2="195.7" y2="214.8" stroke="#000" stroke-width="1.3"/>
<line x1="233.2" y1="212.5" x2="233.2" y2="216.7" stroke="#000" stroke-width="1.3"/>
<line x1="270.8" y1="212.5" x2="270.8" y2="214.8" stroke="#000" stroke-width="1.3"/>
<line x1="308.3" y1="212.5" x2="308.3" y2="216.7" stroke="#000" stroke-width="1.3"/>
<text transform="translate(83,229.6) scale(0.88,1.0)" font-size="13.6" text-anchor="middle">20</text>
<text transform="translate(158.1,229.6) scale(0.88,1.0)" font-size="13.6" text-anchor="middle">40</text>
<text transform="translate(233.2,229.6) scale(0.88,1.0)" font-size="13.6" text-anchor="middle">60</text>
<text transform="translate(308.3,229.6) scale(0.88,1.0)" font-size="13.6" text-anchor="middle">80</text>
<text x="167.5" y="245.9" font-size="16.4" text-anchor="middle">Two Theta (degree)</text>
<text transform="translate(13.9,96.7) rotate(-90)" font-size="16.5" text-anchor="middle">Intensity (a.u.)</text>
<text x="33.4" y="21.1" font-size="19.5" text-anchor="start">a</text>
<text x="304.8" y="73.2" font-size="10.5" text-anchor="end">40°C</text>
<text x="304.8" y="127.9" font-size="10.5" text-anchor="end">50°C</text>
<text x="304.8" y="147.8" font-size="10.5" text-anchor="end">60°C</text>
<text x="304.8" y="169.4" font-size="10.5" text-anchor="end">70°C</text>
<text x="303.6" y="188.3" font-size="11.8" text-anchor="end">PB</text>
<text x="307.6" y="206.2" font-size="12.2" text-anchor="end">bayerite</text>
<path d="M353.6 36.8 L354.1 36.7 L354.6 36.1 L355.1 36.6 L355.6 36.8 L356.1 36.5 L356.6 36.9 L357.1 36.9 L357.6 36.9 L358.1 36.9 L358.6 37.2 L359.1 37.4 L359.6 36.9 L360.1 37.5 L360.6 37.3 L361.1 37.4 L361.6 37.1 L362.1 37.5 L362.6 37.9 L363.1 37.3 L363.6 37.1 L364.1 37.3 L364.6 37.9 L365.1 38.6 L365.6 38.3 L366.1 38.5 L366.6 38.2 L367.1 38.6 L367.6 38.2 L368.1 38.5 L368.6 38.3 L369.1 38.3 L369.6 38.6 L370.1 38.5 L370.6 39 L371.1 38.8 L371.6 38.9 L372.1 38.7 L372.6 39.2 L373.1 38.6 L373.6 38.9 L374.1 38.6 L374.6 38.4 L375.1 38.5 L375.6 38.4 L376.1 38.5 L376.6 38.4 L377.1 38.5 L377.6 38.5 L378.1 38.2 L378.6 38.2 L379.1 38.2 L379.6 37.9 L380.1 38.1 L380.6 38.1 L381.1 37.8 L381.6 38.2 L382.1 37.7 L382.6 37.3 L383.1 37 L383.6 36.9 L384.1 36.6 L384.6 36.9 L385.1 36.2 L385.6 36.2 L386.1 36 L386.6 36.3 L387.1 35.6 L387.6 36.1 L388.1 36.3 L388.6 36.6 L389.1 36.8 L389.6 36.8 L390.1 37.3 L390.6 37.3 L391.1 38 L391.6 37.1 L392.1 37.8 L392.6 37.5 L393.1 37.7 L393.6 38.6 L394.1 38.6 L394.6 37.7 L395.1 38.2 L395.6 38.3 L396.1 37.8 L396.6 38.5 L397.1 38.7 L397.6 38.7 L398.1 38.1 L398.6 39 L399.1 38.8 L399.6 38.8 L400.1 38.6 L400.6 39.1 L401.1 39.2 L401.6 38.8 L402.1 39 L402.6 39.2 L403.1 38.5 L403.6 39.1 L404.1 38.5 L404.6 38.8 L405.1 39.2 L405.6 39.1 L406.1 39 L406.6 39 L407.1 39.4 L407.6 39.4 L408.1 38.9 L408.6 39.3 L409.1 39.1 L409.6 39.9 L410.1 39 L410.6 39.1 L411.1 39.1 L411.6 39.1 L412.1 39.3 L412.6 39.3 L413.1 38.8 L413.6 39.1 L414.1 38.9 L414.6 39.6 L415.1 40 L415.6 39.7 L416.1 39.4 L416.6 39.6 L417.1 39.3 L417.6 39.7 L418.1 39.5 L418.6 39.2 L419.1 39 L419.6 39.1 L420.1 39.3 L420.6 38.9 L421.1 39.2 L421.6 39.6 L422.1 39.2 L422.6 39.8 L423.1 39.6 L423.6 39.1 L424.1 38.8 L424.6 39.2 L425.1 39 L425.6 39.3 L426.1 39.6 L426.6 38.8 L427.1 39 L427.6 39.2 L428.1 39.4 L428.6 39.2 L429.1 39.1 L429.6 39.3 L430.1 39.1 L430.6 38.8 L431.1 38.8 L431.6 38.6 L432.1 38.9 L432.6 38.9 L433.1 37.7 L433.6 38.8 L434.1 38.4 L434.6 38.4 L435.1 38.4 L435.6 37.4 L436.1 37.6 L436.6 37.6 L437.1 37.3 L437.6 37.4 L438.1 37 L438.6 36.5 L439.1 37 L439.6 36.9 L440.1 36.6 L440.6 36.4 L441.1 36.6 L441.6 37 L442.1 37.3 L442.6 37.6 L443.1 37.4 L443.6 37.3 L444.1 37.6 L444.6 38.1 L445.1 38.3 L445.6 38.9 L446.1 38.4 L446.6 38.5 L447.1 38.5 L447.6 38.5 L448.1 38.9 L448.6 38.8 L449.1 38.7 L449.6 38.5 L450.1 38.8 L450.6 38.8 L451.1 39.3 L451.6 39.3 L452.1 38.7 L452.6 39.4 L453.1 38.9 L453.6 39.1 L454.1 39.4 L454.6 38.8 L455.1 39.2 L455.6 38.8 L456.1 38.6 L456.6 39.4 L457.1 39.2 L457.6 39 L458.1 38.7 L458.6 39.1 L459.1 39.6 L459.6 39.3 L460.1 39.1 L460.6 39 L461.1 39.2 L461.6 38.7 L462.1 39.5 L462.6 39.3 L463.1 39.5 L463.6 39 L464.1 39.4 L464.6 39.3 L465.1 38.7 L465.6 39.1 L466.1 39.1 L466.6 38.9 L467.1 38.9 L467.6 39.1 L468.1 38.9 L468.6 38.6 L469.1 39 L469.6 38.9 L470.1 38.8 L470.6 38.7 L471.1 38.8 L471.6 38.5 L472.1 38.2 L472.6 38.2 L473.1 38.6 L473.6 37.6 L474.1 38.2 L474.6 37.6 L475.1 37.4 L475.6 37.4 L476.1 37.4 L476.6 37.5 L477.1 36.6 L477.6 37.4 L478.1 37.1 L478.6 36.6 L479.1 36.4 L479.6 36.3 L480.1 36.9 L480.6 36.9 L481.1 37.4 L481.6 37 L482.1 37.6 L482.6 37.6 L483.1 37.5 L483.6 38.4 L484.1 38.1 L484.6 38.3 L485.1 38 L485.6 38.2 L486.1 38.5 L486.6 38.4 L487.1 38.8 L487.6 38.8 L488.1 38.5 L488.6 38.9 L489.1 38.9 L489.6 38.9 L490.1 38.6 L490.6 38.7 L491.1 39.1 L491.6 39.3 L492.1 38.8 L492.6 39.4 L493.1 39.2 L493.6 38.8 L494.1 39.2 L494.6 39.4 L495.1 39.3 L495.6 39.8 L496.1 39.3 L496.6 39.5 L497.1 39.2 L497.6 39.5 L498.1 38.6 L498.6 39 L499.1 39.1 L499.6 39.4 L500.1 39.3 L500.6 39.5 L501.1 39.3 L501.6 39.3 L502.1 39.2 L502.6 39.3 L503.1 39.4 L503.6 39.4 L504.1 39.4 L504.6 39.1 L505.1 38.9 L505.6 39 L506.1 39.2 L506.6 39.5 L507.1 39.1 L507.6 39.1 L508.1 38.5 L508.6 39.6 L509.1 38.5 L509.6 39.3 L510.1 38.6 L510.6 38.9 L511.1 38.8 L511.6 38.5 L512.1 38.3 L512.6 37.9 L513.1 38.1 L513.6 38.2 L514.1 37.8 L514.6 37.3 L515.1 37.6 L515.6 36.6 L516.1 36.7 L516.6 36 L517.1 35.7 L517.6 35.7 L518.1 34.8 L518.6 34.1 L519.1 33.9 L519.6 33.9 L520.1 33.7 L520.6 34.7 L521.1 35.1 L521.6 35.3 L522.1 36 L522.6 36.7 L523.1 36 L523.6 37.2 L524.1 37.3 L524.6 37.3 L525.1 37.8 L525.6 38 L526.1 37.9 L526.6 38.6 L527.1 38.4 L527.6 38.8 L528.1 38.5 L528.6 38.2 L529.1 38.8 L529.6 38.7 L530.1 38.5 L530.6 38.5 L531.1 39.2 L531.6 39.4 L532.1 39.5 L532.6 39.3 L533.1 39.2 L533.6 39.2 L534.1 39.2 L534.6 39.5 L535.1 39.1 L535.6 38.9 L536.1 39.3 L536.6 39.4 L537.1 39.3 L537.6 39.4 L538.1 40 L538.6 39.6 L539.1 39 L539.6 39.6 L540.1 38.8 L540.6 39.6 L541.1 39.6 L541.6 39.5 L542.1 39.2 L542.6 39.2 L543.1 39.6 L543.6 39.3 L544.1 39.7 L544.6 39.3 L545.1 39.4 L545.6 39.7 L546.1 39.5 L546.6 39.5 L547.1 39.6 L547.6 39.6 L548.1 39.5 L548.6 39.6 L549.1 39.5 L549.6 39.6 L550.1 39.6 L550.6 39.7 L551.1 39.7 L551.6 39.2 L552.1 39.1 L552.6 39.5 L553.1 39.5 L553.6 39.7 L554.1 39.2 L554.6 39.6 L555.1 39.7 L555.6 39.1 L556.1 39.7 L556.6 39.9 L557.1 39.6 L557.6 39.3 L558.1 39.4 L558.6 39.5 L559.1 39.4 L559.6 38.6 L560.1 39.9 L560.6 39.4 L561.1 39.5 L561.6 39.8 L562.1 39.6 L562.6 39.4 L563.1 39.5 L563.6 39.7 L564.1 39.7 L564.6 39.5 L565.1 39.7 L565.6 39.7 L566.1 39.4 L566.6 39.2 L567.1 39.6 L567.6 39.6 L568.1 39.3 L568.6 39.3 L569.1 39.6 L569.6 39.5 L570.1 39.8 L570.6 39.5 L571.1 40 L571.6 39.5 L572.1 39 L572.6 39.2 L573.1 39.2 L573.6 38.7 L574.1 39.2 L574.6 39 L575.1 38.9 L575.6 38.6 L576.1 38.3 L576.6 38.4 L577.1 38 L577.6 38.1 L578.1 37.6 L578.6 37.3 L579.1 37.6 L579.6 37.8 L580.1 38 L580.6 38.1 L581.1 38.7 L581.6 38.3 L582.1 39 L582.6 38.5 L583.1 38.7 L583.6 38.9 L584.1 39.1 L584.6 39.6 L585.1 39.1 L585.6 39 L586.1 39.6 L586.6 39.4 L587.1 39 L587.6 39.6 L588.1 39.8 L588.6 39.4 L589.1 40 L589.6 40 L590.1 39.4 L590.6 39.9 L591.1 39.1 L591.6 39.7 L592.1 39.5 L592.6 40 L593.1 39.4 L593.6 40 L594.1 39.5 L594.6 39.6 L595.1 39.5 L595.6 39.8 L596.1 39.3 L596.6 39.9 L597.1 39.5 L597.6 40.4 L598.1 39.7 L598.6 39.5 L599.1 39.9 L599.6 39.5 L600.1 39.9 L600.6 39.6 L601.1 39.8 L601.6 39.7 L602.1 39.8 L602.6 39.5 L603.1 39.5 L603.6 40 L604.1 40 L604.6 39.8 L605.1 39.4 L605.6 39.9 L606.1 39.5 L606.6 39.5 L607.1 39.9 L607.6 39.6 L608.1 39.7 L608.6 39.6 L609.1 39.5 L609.6 39.5 L610.1 39.7 L610.6 39.8 L611.1 39.7 L611.6 39.5 L612.1 39.8 L612.6 39.8 L613.1 39.9 L613.6 40 L614.1 40 L614.6 39.7 L615.1 39.7 L615.6 39.8 L616.1 39.7 L616.6 39.5 L617.1 39.8 L617.6 39.5 L618.1 39.6 L618.6 39.6 L619.1 39.7 L619.6 39.6 L620.1 39.7 L620.6 39.9 L621.1 40.2 L621.6 39.6 L622.1 40.3 L622.6 40.1 L623.1 40.1 L623.6 39.9 L624.1 40.1 L624.6 40.2 L625.1 40.2 L625.6 39.9 L626.1 40.2 L626.6 40.4 L627.1 40.3 L627.6 40.2 L628.1 39.9 L628.6 40 L629.1 40.1 L629.6 39.9 L630.1 40.1 L630.6 40.1 L631.1 40 L631.6 40 L632.1 40.1 L632.6 40.1 L633.1 40 L633.6 40 L634.1 40.1 L634.6 39.8 L635.1 39.6" fill="none" stroke="#fdd3b1" stroke-width="2.1" stroke-linejoin="round" stroke-linecap="round"/>
<path d="M353.6 51.7 L354.1 51.2 L354.6 51.3 L355.1 50.7 L355.6 51.6 L356.1 51.7 L356.6 51.7 L357.1 52.1 L357.6 52.2 L358.1 51.9 L358.6 52 L359.1 52.3 L359.6 52.7 L360.1 52.8 L360.6 52.3 L361.1 52.5 L361.6 53.1 L362.1 53.5 L362.6 53.1 L363.1 53 L363.6 53.7 L364.1 53.3 L364.6 53.7 L365.1 54.1 L365.6 53.9 L366.1 53.8 L366.6 54.1 L367.1 53.8 L367.6 54.1 L368.1 54 L368.6 54.2 L369.1 54.2 L369.6 54.4 L370.1 54.4 L370.6 54.7 L371.1 54.8 L371.6 54.9 L372.1 55.3 L372.6 54.4 L373.1 55.2 L373.6 54.7 L374.1 54.3 L374.6 54.6 L375.1 54.6 L375.6 54.9 L376.1 54.2 L376.6 54.5 L377.1 54.4 L377.6 53.8 L378.1 53.8 L378.6 54.3 L379.1 54.2 L379.6 54.2 L380.1 53.9 L380.6 53.7 L381.1 53.4 L381.6 53.6 L382.1 52.8 L382.6 52.8 L383.1 52.7 L383.6 51.9 L384.1 52.5 L384.6 51.6 L385.1 51.6 L385.6 52 L386.1 50.9 L386.6 50.9 L387.1 51.7 L387.6 51.1 L388.1 51.6 L388.6 52.1 L389.1 52.3 L389.6 52.6 L390.1 52.8 L390.6 53.3 L391.1 53.4 L391.6 53.5 L392.1 53.3 L392.6 53.4 L393.1 53.2 L393.6 54.1 L394.1 53.5 L394.6 54.4 L395.1 54.8 L395.6 54 L396.1 54.2 L396.6 54.4 L397.1 54.8 L397.6 54.4 L398.1 54.7 L398.6 54.6 L399.1 54.7 L399.6 55.2 L400.1 54.6 L400.6 54.9 L401.1 55 L401.6 55.3 L402.1 54.6 L402.6 55.4 L403.1 55.2 L403.6 55.4 L404.1 55.2 L404.6 54.7 L405.1 55 L405.6 55.4 L406.1 55.2 L406.6 55.2 L407.1 55.8 L407.6 55.9 L408.1 55.3 L408.6 55.9 L409.1 54.7 L409.6 54.7 L410.1 55.6 L410.6 55.2 L411.1 55.5 L411.6 55.5 L412.1 55.3 L412.6 55.5 L413.1 55.4 L413.6 54.9 L414.1 55.4 L414.6 55.4 L415.1 55.9 L415.6 55 L416.1 55.4 L416.6 55.2 L417.1 55.3 L417.6 55.9 L418.1 55.5 L418.6 55.2 L419.1 55.4 L419.6 55.6 L420.1 55.1 L420.6 55.3 L421.1 55.8 L421.6 55.6 L422.1 55.3 L422.6 55.2 L423.1 55.3 L423.6 54.8 L424.1 55.6 L424.6 55.4 L425.1 55.3 L425.6 54.8 L426.1 55 L426.6 55.3 L427.1 55.2 L427.6 55 L428.1 55.3 L428.6 55.4 L429.1 54.8 L429.6 54.8 L430.1 54.7 L430.6 54.5 L431.1 55.1 L431.6 54.9 L432.1 54.8 L432.6 54.2 L433.1 54.2 L433.6 54.4 L434.1 54.2 L434.6 54.2 L435.1 53.8 L435.6 54 L436.1 54.2 L436.6 53.9 L437.1 53.6 L437.6 52.9 L438.1 52.9 L438.6 52.2 L439.1 52.3 L439.6 51.7 L440.1 51.4 L440.6 51.5 L441.1 52.1 L441.6 52.3 L442.1 52.5 L442.6 52.4 L443.1 53.1 L443.6 52.9 L444.1 54 L444.6 53.7 L445.1 54 L445.6 54 L446.1 53.7 L446.6 53.9 L447.1 54.4 L447.6 55 L448.1 54.3 L448.6 54.5 L449.1 54.8 L449.6 54.3 L450.1 54.4 L450.6 54.8 L451.1 55 L451.6 54.9 L452.1 55.5 L452.6 55 L453.1 55.2 L453.6 55.6 L454.1 55.7 L454.6 54.7 L455.1 55.1 L455.6 55.6 L456.1 54.8 L456.6 55 L457.1 54.9 L457.6 54.8 L458.1 54.9 L458.6 55.3 L459.1 55.6 L459.6 55.7 L460.1 55.3 L460.6 54.7 L461.1 55.2 L461.6 55.1 L462.1 55.3 L462.6 55.2 L463.1 54.6 L463.6 55.3 L464.1 54.5 L464.6 54.9 L465.1 55.2 L465.6 55.2 L466.1 55.5 L466.6 54.3 L467.1 55.1 L467.6 55.1 L468.1 54.8 L468.6 55 L469.1 54.4 L469.6 54.9 L470.1 54.8 L470.6 54.3 L471.1 54.3 L471.6 54.3 L472.1 54.1 L472.6 54.5 L473.1 54.1 L473.6 54.2 L474.1 54 L474.6 53.5 L475.1 53.2 L475.6 52.7 L476.1 52.5 L476.6 52.2 L477.1 52.3 L477.6 51.6 L478.1 51.6 L478.6 51.4 L479.1 50.9 L479.6 51.2 L480.1 51.9 L480.6 52.2 L481.1 51.8 L481.6 52.3 L482.1 52.5 L482.6 52.8 L483.1 53.6 L483.6 53.6 L484.1 54 L484.6 54.3 L485.1 53.8 L485.6 54.1 L486.1 54.3 L486.6 54.7 L487.1 54.4 L487.6 54.8 L488.1 55 L488.6 55.1 L489.1 54.9 L489.6 54.6 L490.1 54.4 L490.6 55.3 L491.1 55.1 L491.6 54.8 L492.1 54.9 L492.6 55 L493.1 54.6 L493.6 55.3 L494.1 55 L494.6 55.1 L495.1 55.5 L495.6 55.2 L496.1 55.4 L496.6 55.4 L497.1 55.3 L497.6 55.3 L498.1 55.9 L498.6 55.3 L499.1 55.8 L499.6 55.1 L500.1 55.6 L500.6 55.4 L501.1 55.1 L501.6 54.6 L502.1 55.8 L502.6 55 L503.1 55.1 L503.6 55.4 L504.1 55.3 L504.6 55.4 L505.1 55.2 L505.6 54.8 L506.1 55.5 L506.6 55 L507.1 55.3 L507.6 55.4 L508.1 55.5 L508.6 55.1 L509.1 55 L509.6 55 L510.1 54.4 L510.6 54.7 L511.1 54.5 L511.6 54.4 L512.1 54.7 L512.6 54.5 L513.1 54.9 L513.6 54.7 L514.1 53.6 L514.6 54 L515.1 53.4 L515.6 53.6 L516.1 53.2 L516.6 53.1 L517.1 52.6 L517.6 52.3 L518.1 51.5 L518.6 50.3 L519.1 50.3 L519.6 50.1 L520.1 50.4 L520.6 50.6 L521.1 51.9 L521.6 51.8 L522.1 52.7 L522.6 52.6 L523.1 53.6 L523.6 53 L524.1 53.8 L524.6 53.5 L525.1 54.2 L525.6 54.7 L526.1 53.9 L526.6 54.3 L527.1 54.7 L527.6 54.7 L528.1 54.4 L528.6 55.3 L529.1 55 L529.6 55.5 L530.1 55.2 L530.6 54.8 L531.1 55.1 L531.6 55.7 L532.1 54.9 L532.6 55.2 L533.1 55.5 L533.6 55.7 L534.1 55.6 L534.6 55 L535.1 56.1 L535.6 55.4 L536.1 55.5 L536.6 55.5 L537.1 55.4 L537.6 55.2 L538.1 55.4 L538.6 55.9 L539.1 55.1 L539.6 54.8 L540.1 55.7 L540.6 55.7 L541.1 55.8 L541.6 56.1 L542.1 55.4 L542.6 55.6 L543.1 55.7 L543.6 56 L544.1 55.9 L544.6 55.4 L545.1 55.2 L545.6 55.5 L546.1 55.1 L546.6 55.9 L547.1 55.5 L547.6 55.5 L548.1 55.4 L548.6 56.1 L549.1 55.7 L549.6 55.5 L550.1 55.8 L550.6 55.6 L551.1 55.8 L551.6 56 L552.1 55.6 L552.6 55.8 L553.1 55.8 L553.6 56 L554.1 55.8 L554.6 55.7 L555.1 55.4 L555.6 55.7 L556.1 55.3 L556.6 55.8 L557.1 55.7 L557.6 55.8 L558.1 55.5 L558.6 55.4 L559.1 55.4 L559.6 56 L560.1 55.6 L560.6 55.6 L561.1 55.1 L561.6 55.6 L562.1 54.6 L562.6 56.1 L563.1 55.6 L563.6 55.7 L564.1 55.2 L564.6 55.3 L565.1 55.8 L565.6 55.6 L566.1 55.8 L566.6 56 L567.1 55.9 L567.6 55.1 L568.1 55.3 L568.6 55.3 L569.1 55.3 L569.6 55 L570.1 55 L570.6 55.3 L571.1 55.4 L571.6 55.7 L572.1 55.4 L572.6 55.9 L573.1 54.8 L573.6 54.9 L574.1 55.3 L574.6 55.1 L575.1 54.7 L575.6 55.1 L576.1 55.1 L576.6 55 L577.1 54.2 L577.6 54.1 L578.1 53.9 L578.6 53.6 L579.1 53.8 L579.6 53.5 L580.1 54 L580.6 53.5 L581.1 54.6 L581.6 55.1 L582.1 54.8 L582.6 55.3 L583.1 54.6 L583.6 55.2 L584.1 54.9 L584.6 55.6 L585.1 55.7 L585.6 55.2 L586.1 55.4 L586.6 55.5 L587.1 56.5 L587.6 55.8 L588.1 55.9 L588.6 56 L589.1 56 L589.6 55.8 L590.1 55.5 L590.6 55.7 L591.1 56.4 L591.6 56.1 L592.1 55.9 L592.6 55.6 L593.1 56 L593.6 56 L594.1 55.8 L594.6 56.3 L595.1 55.9 L595.6 56 L596.1 56.3 L596.6 56.1 L597.1 56.4 L597.6 56 L598.1 55.9 L598.6 56.2 L599.1 56.1 L599.6 56.4 L600.1 56.2 L600.6 56 L601.1 56.2 L601.6 56.2 L602.1 55.7 L602.6 56 L603.1 55.9 L603.6 56.3 L604.1 55.8 L604.6 56.2 L605.1 55.5 L605.6 55.8 L606.1 56.2 L606.6 55.8 L607.1 56.3 L607.6 55.4 L608.1 56 L608.6 56.1 L609.1 56.1 L609.6 55.7 L610.1 56.4 L610.6 55.5 L611.1 56.5 L611.6 56.3 L612.1 56.6 L612.6 56.2 L613.1 56 L613.6 56.2 L614.1 56.2 L614.6 56.5 L615.1 56.3 L615.6 56.5 L616.1 56.5 L616.6 56.8 L617.1 55.8 L617.6 56.3 L618.1 56.6 L618.6 56.6 L619.1 56.3 L619.6 56.4 L620.1 56.4 L620.6 56.5 L621.1 56.3 L621.6 56.3 L622.1 56.2 L622.6 56.4 L623.1 56.9 L623.6 56.2 L624.1 56.8 L624.6 57.1 L625.1 56.6 L625.6 57.3 L626.1 56.5 L626.6 57.1 L627.1 56.6 L627.6 56.2 L628.1 56.7 L628.6 57.2 L629.1 56.4 L629.6 56.8 L630.1 56.3 L630.6 56.4 L631.1 56.8 L631.6 56.6 L632.1 56.8 L632.6 57 L633.1 56.3 L633.6 56.5 L634.1 56.7 L634.6 57.4 L635.1 56.6" fill="none" stroke="#fcb57f" stroke-width="2.1" stroke-linejoin="round" stroke-linecap="round"/>
<path d="M353.6 67.8 L354.1 67.5 L354.6 67.9 L355.1 67.3 L355.6 68.3 L356.1 67.6 L356.6 68.2 L357.1 68.3 L357.6 68.1 L358.1 69.5 L358.6 68.4 L359.1 68.9 L359.6 69.2 L360.1 68.5 L360.6 69.5 L361.1 69 L361.6 69.5 L362.1 69 L362.6 69 L363.1 69.9 L363.6 69.7 L364.1 69.7 L364.6 70 L365.1 70 L365.6 69.5 L366.1 69.3 L366.6 69.5 L367.1 69.6 L367.6 69.5 L368.1 70.2 L368.6 70.3 L369.1 70.5 L369.6 70.7 L370.1 70.6 L370.6 70.7 L371.1 70.9 L371.6 70.6 L372.1 70.7 L372.6 70.9 L373.1 70.6 L373.6 70.6 L374.1 70.7 L374.6 71.2 L375.1 70.7 L375.6 70.4 L376.1 70.2 L376.6 70.3 L377.1 71 L377.6 69 L378.1 70.2 L378.6 69.9 L379.1 70 L379.6 69.1 L380.1 70 L380.6 69.4 L381.1 68.8 L381.6 68.6 L382.1 68 L382.6 67.9 L383.1 67.4 L383.6 67.4 L384.1 66.7 L384.6 66.1 L385.1 65.9 L385.6 65.4 L386.1 64.8 L386.6 63.8 L387.1 64.8 L387.6 64.4 L388.1 64.9 L388.6 65.7 L389.1 66.4 L389.6 67.2 L390.1 66.6 L390.6 68.1 L391.1 68.6 L391.6 68.2 L392.1 68.6 L392.6 68.7 L393.1 69 L393.6 68.9 L394.1 69 L394.6 69.7 L395.1 70 L395.6 70.7 L396.1 69.9 L396.6 69.6 L397.1 70.5 L397.6 70.4 L398.1 70.7 L398.6 70.6 L399.1 70.3 L399.6 70.6 L400.1 71.2 L400.6 71 L401.1 70.7 L401.6 71.4 L402.1 70.6 L402.6 70.9 L403.1 71.2 L403.6 70.7 L404.1 70.8 L404.6 71.3 L405.1 71.3 L405.6 71.2 L406.1 71.1 L406.6 71 L407.1 71.1 L407.6 72.5 L408.1 71.2 L408.6 72 L409.1 71.2 L409.6 71.9 L410.1 71.9 L410.6 71.6 L411.1 71.3 L411.6 71 L412.1 71.8 L412.6 71.1 L413.1 71.1 L413.6 72 L414.1 72 L414.6 71.5 L415.1 71.4 L415.6 71.3 L416.1 71.7 L416.6 71.4 L417.1 71 L417.6 71.3 L418.1 71.6 L418.6 71 L419.1 71.2 L419.6 71.6 L420.1 72.1 L420.6 71.6 L421.1 71.5 L421.6 72.2 L422.1 71.1 L422.6 71.2 L423.1 71.7 L423.6 71.8 L424.1 71.6 L424.6 70.5 L425.1 71.6 L425.6 71.6 L426.1 71.3 L426.6 71.5 L427.1 71.7 L427.6 71.2 L428.1 70.8 L428.6 70.4 L429.1 71.1 L429.6 70.7 L430.1 70.7 L430.6 70.4 L431.1 70.8 L431.6 70.9 L432.1 70.6 L432.6 70 L433.1 70.5 L433.6 70.1 L434.1 68.9 L434.6 69.8 L435.1 68.6 L435.6 68.6 L436.1 69 L436.6 68.5 L437.1 67.6 L437.6 67 L438.1 66.8 L438.6 65.5 L439.1 65.6 L439.6 64.8 L440.1 64.7 L440.6 64.5 L441.1 64.6 L441.6 65.7 L442.1 66.1 L442.6 66.3 L443.1 67 L443.6 67.5 L444.1 68.4 L444.6 69 L445.1 69.1 L445.6 68.9 L446.1 69.5 L446.6 70 L447.1 70.4 L447.6 69.9 L448.1 70.5 L448.6 70.4 L449.1 69.9 L449.6 70.3 L450.1 70.6 L450.6 70.7 L451.1 70.8 L451.6 70.8 L452.1 71.2 L452.6 70.8 L453.1 70.6 L453.6 71.4 L454.1 71 L454.6 71.5 L455.1 71 L455.6 71.8 L456.1 70.9 L456.6 70.9 L457.1 71.6 L457.6 72 L458.1 71.1 L458.6 71.9 L459.1 71.9 L459.6 71.7 L460.1 71.3 L460.6 70.6 L461.1 70.8 L461.6 71.1 L462.1 71.5 L462.6 71.3 L463.1 71.1 L463.6 71.4 L464.1 70.7 L464.6 71.4 L465.1 70.9 L465.6 71.7 L466.1 71.2 L466.6 70.9 L467.1 70.9 L467.6 70.5 L468.1 71 L468.6 70.6 L469.1 70.8 L469.6 71.2 L470.1 70.8 L470.6 70.7 L471.1 71.4 L471.6 70.6 L472.1 70.6 L472.6 69.9 L473.1 69.4 L473.6 69.7 L474.1 68.9 L474.6 68 L475.1 69 L475.6 68.5 L476.1 67.6 L476.6 68 L477.1 67 L477.6 66.3 L478.1 65.6 L478.6 65.9 L479.1 65 L479.6 65.2 L480.1 65.6 L480.6 66 L481.1 66.2 L481.6 67.1 L482.1 67.5 L482.6 68.5 L483.1 68.2 L483.6 69.2 L484.1 69.1 L484.6 69.2 L485.1 69.7 L485.6 70 L486.1 70.2 L486.6 70.5 L487.1 70.5 L487.6 70 L488.1 70.4 L488.6 71.3 L489.1 70.8 L489.6 70.1 L490.1 71.1 L490.6 71.7 L491.1 71.5 L491.6 71.2 L492.1 71.3 L492.6 71.5 L493.1 71.2 L493.6 71.2 L494.1 71.9 L494.6 71.2 L495.1 71.8 L495.6 70.9 L496.1 71.2 L496.6 71.1 L497.1 71.6 L497.6 71.3 L498.1 71.3 L498.6 71.2 L499.1 71.6 L499.6 71.9 L500.1 71.3 L500.6 71.7 L501.1 71.5 L501.6 71.3 L502.1 71.6 L502.6 72 L503.1 70.6 L503.6 71.7 L504.1 72.1 L504.6 71.4 L505.1 71.7 L505.6 71.7 L506.1 71.5 L506.6 71.4 L507.1 71.8 L507.6 71.6 L508.1 71.3 L508.6 71.4 L509.1 70.8 L509.6 70.9 L510.1 71 L510.6 70.8 L511.1 70.5 L511.6 71 L512.1 70.5 L512.6 70.5 L513.1 69.6 L513.6 69.6 L514.1 69.3 L514.6 69.1 L515.1 69.4 L515.6 69.2 L516.1 67.8 L516.6 67.3 L517.1 66.3 L517.6 65.3 L518.1 64.8 L518.6 63.3 L519.1 62 L519.6 61.8 L520.1 62 L520.6 63.1 L521.1 64.2 L521.6 65.4 L522.1 66.2 L522.6 67.2 L523.1 67.5 L523.6 68.1 L524.1 68.8 L524.6 69.2 L525.1 69.6 L525.6 69.9 L526.1 70.7 L526.6 70.1 L527.1 70.6 L527.6 70.6 L528.1 71.2 L528.6 70.6 L529.1 70.5 L529.6 71.5 L530.1 71.4 L530.6 71.3 L531.1 71 L531.6 71.8 L532.1 71.5 L532.6 71.2 L533.1 71.3 L533.6 71.3 L534.1 72 L534.6 71.5 L535.1 71.2 L535.6 71.4 L536.1 72 L536.6 71.9 L537.1 71.4 L537.6 71.3 L538.1 71.5 L538.6 71.8 L539.1 71.6 L539.6 71.5 L540.1 71.7 L540.6 71.5 L541.1 71.4 L541.6 71.3 L542.1 71.4 L542.6 71.5 L543.1 71.9 L543.6 71.8 L544.1 71.5 L544.6 72.2 L545.1 71.4 L545.6 72.1 L546.1 71.4 L546.6 71.7 L547.1 72.1 L547.6 72.1 L548.1 71.5 L548.6 71.8 L549.1 71.4 L549.6 71.7 L550.1 72 L550.6 71.6 L551.1 72.3 L551.6 72 L552.1 72.1 L552.6 71.6 L553.1 71.8 L553.6 71.9 L554.1 72.1 L554.6 72.1 L555.1 71.7 L555.6 71.5 L556.1 71.4 L556.6 72.6 L557.1 72.2 L557.6 72.3 L558.1 71.8 L558.6 72.5 L559.1 72 L559.6 71.9 L560.1 71.6 L560.6 71.3 L561.1 72.1 L561.6 71.9 L562.1 71.8 L562.6 71.4 L563.1 71.1 L563.6 71.4 L564.1 72.1 L564.6 72.5 L565.1 71.6 L565.6 71.7 L566.1 71.3 L566.6 71.4 L567.1 71.9 L567.6 71.5 L568.1 71.8 L568.6 72.2 L569.1 71.7 L569.6 71.3 L570.1 72.3 L570.6 71.9 L571.1 71.7 L571.6 71.7 L572.1 71.4 L572.6 71.7 L573.1 70.9 L573.6 71.2 L574.1 70.7 L574.6 71 L575.1 71 L575.6 70.6 L576.1 71 L576.6 70 L577.1 69.4 L577.6 69.3 L578.1 68.8 L578.6 68.3 L579.1 67.9 L579.6 68.2 L580.1 69 L580.6 68.6 L581.1 69.9 L581.6 69.9 L582.1 70.4 L582.6 70.4 L583.1 71.3 L583.6 70.3 L584.1 70.8 L584.6 71.2 L585.1 71.7 L585.6 71.1 L586.1 71.8 L586.6 72 L587.1 71.4 L587.6 70.9 L588.1 72.1 L588.6 71.8 L589.1 71.8 L589.6 72.3 L590.1 72.2 L590.6 71.7 L591.1 72 L591.6 71.7 L592.1 72.1 L592.6 72 L593.1 72.2 L593.6 71.8 L594.1 72.1 L594.6 72.1 L595.1 72.2 L595.6 72 L596.1 71.3 L596.6 72.2 L597.1 71.6 L597.6 72.3 L598.1 71.9 L598.6 71.9 L599.1 71.7 L599.6 72.5 L600.1 71.6 L600.6 72.3 L601.1 72.4 L601.6 72.8 L602.1 72.2 L602.6 71.6 L603.1 71.2 L603.6 71.2 L604.1 70.8 L604.6 71.7 L605.1 71.3 L605.6 70.7 L606.1 71.4 L606.6 71.2 L607.1 71.7 L607.6 71.5 L608.1 71.1 L608.6 71.7 L609.1 72 L609.6 71.8 L610.1 71.9 L610.6 71.5 L611.1 71.7 L611.6 72 L612.1 72.3 L612.6 71.9 L613.1 72 L613.6 72.9 L614.1 71.8 L614.6 72.1 L615.1 71.9 L615.6 72.2 L616.1 72.5 L616.6 72.5 L617.1 72.4 L617.6 72.7 L618.1 72.3 L618.6 72.5 L619.1 72 L619.6 72.7 L620.1 72.1 L620.6 72.8 L621.1 72 L621.6 72.5 L622.1 72.5 L622.6 72.5 L623.1 72.3 L623.6 72.9 L624.1 72.5 L624.6 72 L625.1 72.2 L625.6 72.8 L626.1 72.1 L626.6 73 L627.1 72.3 L627.6 71.8 L628.1 72.7 L628.6 72.1 L629.1 71.1 L629.6 72.4 L630.1 72 L630.6 72.5 L631.1 72.7 L631.6 72.7 L632.1 72.4 L632.6 71.9 L633.1 72.9 L633.6 72.5 L634.1 72.5 L634.6 71.9 L635.1 72.2" fill="none" stroke="#f8953a" stroke-width="2.1" stroke-linejoin="round" stroke-linecap="round"/>
<path d="M353.6 84 L354.1 84.6 L354.6 84.4 L355.1 84.6 L355.6 85 L356.1 84.8 L356.6 85.1 L357.1 85 L357.6 85.3 L358.1 84.5 L358.6 84.6 L359.1 84.5 L359.6 85.2 L360.1 85 L360.6 85.5 L361.1 85.3 L361.6 85.3 L362.1 86.1 L362.6 85.6 L363.1 85.5 L363.6 85.2 L364.1 86.1 L364.6 86.1 L365.1 85.4 L365.6 85.8 L366.1 86.1 L366.6 85.5 L367.1 86 L367.6 86.7 L368.1 85.7 L368.6 86.5 L369.1 87.1 L369.6 86.3 L370.1 86.4 L370.6 86.7 L371.1 86.8 L371.6 86.9 L372.1 86.2 L372.6 86.5 L373.1 86.7 L373.6 86.5 L374.1 87 L374.6 86.4 L375.1 86.4 L375.6 87.1 L376.1 86.4 L376.6 86 L377.1 86.2 L377.6 86.1 L378.1 86.3 L378.6 86.1 L379.1 85.7 L379.6 85.5 L380.1 85.3 L380.6 85.8 L381.1 85.8 L381.6 84.9 L382.1 84.8 L382.6 84.5 L383.1 83.8 L383.6 83.5 L384.1 83.1 L384.6 82.1 L385.1 82 L385.6 81.9 L386.1 81.6 L386.6 80.7 L387.1 80.3 L387.6 80.7 L388.1 81.6 L388.6 81 L389.1 81.6 L389.6 82.2 L390.1 83.1 L390.6 83 L391.1 83.9 L391.6 83.9 L392.1 84.6 L392.6 84.6 L393.1 84.8 L393.6 85.5 L394.1 85 L394.6 85.3 L395.1 86 L395.6 86.1 L396.1 86.1 L396.6 85.4 L397.1 86.5 L397.6 86.4 L398.1 86.3 L398.6 85.8 L399.1 86.8 L399.6 87.2 L400.1 86.8 L400.6 87.2 L401.1 86.5 L401.6 86.8 L402.1 86.6 L402.6 86.5 L403.1 86.8 L403.6 86.6 L404.1 86.7 L404.6 86.7 L405.1 86.8 L405.6 86.9 L406.1 87.1 L406.6 86.6 L407.1 87.2 L407.6 86.4 L408.1 87.1 L408.6 87.1 L409.1 86.3 L409.6 87 L410.1 87.5 L410.6 87.3 L411.1 87 L411.6 87 L412.1 87.3 L412.6 87.2 L413.1 87.5 L413.6 87.2 L414.1 87.5 L414.6 87.3 L415.1 86.9 L415.6 86.8 L416.1 87 L416.6 87.3 L417.1 86.9 L417.6 87.5 L418.1 86.7 L418.6 87.1 L419.1 86.9 L419.6 87.3 L420.1 87.2 L420.6 87.1 L421.1 86.7 L421.6 86.9 L422.1 86.9 L422.6 87.5 L423.1 86.9 L423.6 87.3 L424.1 87.4 L424.6 86.8 L425.1 86.9 L425.6 86.3 L426.1 86.9 L426.6 87.3 L427.1 86.7 L427.6 87.1 L428.1 87.2 L428.6 87 L429.1 86.7 L429.6 86.9 L430.1 86.5 L430.6 86.5 L431.1 87.4 L431.6 86.3 L432.1 86.1 L432.6 86.3 L433.1 86.2 L433.6 86.2 L434.1 85.5 L434.6 85.2 L435.1 85 L435.6 85.3 L436.1 85.1 L436.6 84.1 L437.1 83.8 L437.6 83.4 L438.1 82.5 L438.6 82.1 L439.1 81.9 L439.6 80.5 L440.1 80.6 L440.6 80.9 L441.1 80.7 L441.6 82.1 L442.1 82.4 L442.6 82.8 L443.1 83.9 L443.6 84.1 L444.1 84.4 L444.6 84.6 L445.1 84.8 L445.6 85.2 L446.1 85.5 L446.6 86.1 L447.1 85.9 L447.6 86.2 L448.1 86.1 L448.6 86.5 L449.1 86.5 L449.6 87 L450.1 86.7 L450.6 86.1 L451.1 86.7 L451.6 86.7 L452.1 87.2 L452.6 86.9 L453.1 87.2 L453.6 87.2 L454.1 86.8 L454.6 86.9 L455.1 87.1 L455.6 86.7 L456.1 88.3 L456.6 87.3 L457.1 86.6 L457.6 86.6 L458.1 87.2 L458.6 87 L459.1 86.6 L459.6 86.5 L460.1 87.1 L460.6 87 L461.1 87.3 L461.6 87.1 L462.1 87.5 L462.6 86.4 L463.1 87.3 L463.6 86.8 L464.1 86.7 L464.6 87.4 L465.1 86.3 L465.6 86.9 L466.1 86.8 L466.6 87.3 L467.1 86.4 L467.6 87 L468.1 87 L468.6 86.7 L469.1 86.7 L469.6 86.6 L470.1 86 L470.6 86.3 L471.1 85.7 L471.6 86.6 L472.1 86.4 L472.6 85.5 L473.1 86.2 L473.6 85.5 L474.1 84.9 L474.6 84.9 L475.1 85 L475.6 84.4 L476.1 83.7 L476.6 83.9 L477.1 83 L477.6 82.4 L478.1 81.6 L478.6 81.7 L479.1 81.4 L479.6 81 L480.1 81.7 L480.6 82.3 L481.1 83 L481.6 83.1 L482.1 84.6 L482.6 84.4 L483.1 85 L483.6 84.9 L484.1 86 L484.6 85.7 L485.1 85.1 L485.6 86.3 L486.1 86.1 L486.6 85.8 L487.1 86.3 L487.6 86.1 L488.1 86.8 L488.6 86.8 L489.1 86.2 L489.6 87 L490.1 87.2 L490.6 86 L491.1 87.4 L491.6 87.2 L492.1 87.3 L492.6 87.5 L493.1 87 L493.6 86.8 L494.1 87.2 L494.6 87 L495.1 87.3 L495.6 86.3 L496.1 87 L496.6 88.1 L497.1 87.3 L497.6 87.5 L498.1 87.3 L498.6 87.1 L499.1 87.5 L499.6 87.5 L500.1 87.1 L500.6 87.1 L501.1 87.4 L501.6 86.9 L502.1 86.9 L502.6 87.6 L503.1 87.6 L503.6 87.1 L504.1 87.7 L504.6 87.4 L505.1 87.3 L505.6 86.9 L506.1 87.4 L506.6 86.9 L507.1 87 L507.6 86.8 L508.1 87.4 L508.6 86.9 L509.1 86.8 L509.6 87 L510.1 87.6 L510.6 87 L511.1 86 L511.6 86.4 L512.1 86.3 L512.6 85.9 L513.1 85.6 L513.6 86.3 L514.1 85.7 L514.6 85.4 L515.1 84.9 L515.6 84.6 L516.1 83.9 L516.6 83.2 L517.1 82.2 L517.6 81 L518.1 80 L518.6 79 L519.1 77.6 L519.6 77 L520.1 77.1 L520.6 78.8 L521.1 79.3 L521.6 81 L522.1 82.4 L522.6 83.1 L523.1 83.3 L523.6 84.6 L524.1 84.6 L524.6 85.1 L525.1 85.3 L525.6 85 L526.1 86 L526.6 86.2 L527.1 86.5 L527.6 86 L528.1 86.8 L528.6 86.4 L529.1 86.3 L529.6 86.4 L530.1 86.9 L530.6 86.7 L531.1 87.5 L531.6 87.3 L532.1 87.4 L532.6 87 L533.1 86.7 L533.6 86.5 L534.1 87 L534.6 87.6 L535.1 87.6 L535.6 86.5 L536.1 87.2 L536.6 87.4 L537.1 86.7 L537.6 87.1 L538.1 86.8 L538.6 87.1 L539.1 87 L539.6 86.8 L540.1 86.8 L540.6 86.5 L541.1 86.7 L541.6 85.4 L542.1 86.6 L542.6 86.7 L543.1 86 L543.6 86.5 L544.1 86.9 L544.6 86.6 L545.1 86.7 L545.6 87 L546.1 87.3 L546.6 86.6 L547.1 87.2 L547.6 87.4 L548.1 86.7 L548.6 87.3 L549.1 87.8 L549.6 87.3 L550.1 87.3 L550.6 87.8 L551.1 87.1 L551.6 87.3 L552.1 87.8 L552.6 88 L553.1 87 L553.6 87.3 L554.1 87.6 L554.6 87.8 L555.1 87.6 L555.6 87.2 L556.1 87.7 L556.6 86.6 L557.1 87.5 L557.6 87.7 L558.1 87.8 L558.6 87.6 L559.1 86.9 L559.6 87.8 L560.1 87.2 L560.6 87.3 L561.1 87.8 L561.6 86.7 L562.1 88.2 L562.6 87.7 L563.1 87.7 L563.6 87.4 L564.1 87.7 L564.6 87.6 L565.1 87.5 L565.6 86.9 L566.1 87.5 L566.6 87.5 L567.1 87.7 L567.6 87.5 L568.1 87.4 L568.6 87.4 L569.1 86.8 L569.6 86.6 L570.1 87.2 L570.6 87 L571.1 87.4 L571.6 86.7 L572.1 86.9 L572.6 87.3 L573.1 87 L573.6 86.6 L574.1 87 L574.6 86.8 L575.1 86.1 L575.6 86.1 L576.1 86.1 L576.6 85.7 L577.1 85.3 L577.6 84.7 L578.1 83.4 L578.6 84 L579.1 83.6 L579.6 83.8 L580.1 83.8 L580.6 84.8 L581.1 85.4 L581.6 85.7 L582.1 86 L582.6 85.5 L583.1 86.7 L583.6 86.8 L584.1 87 L584.6 87.3 L585.1 87 L585.6 87.5 L586.1 86.7 L586.6 87.4 L587.1 87.1 L587.6 87.7 L588.1 87.1 L588.6 87.1 L589.1 87.1 L589.6 87.5 L590.1 87 L590.6 87.6 L591.1 87.6 L591.6 87.3 L592.1 87.4 L592.6 87.1 L593.1 88 L593.6 87.6 L594.1 86.9 L594.6 87.7 L595.1 86.9 L595.6 87.4 L596.1 87.5 L596.6 87.2 L597.1 87.1 L597.6 87.4 L598.1 87.4 L598.6 87.3 L599.1 87.3 L599.6 86.7 L600.1 87.1 L600.6 86.7 L601.1 87 L601.6 86.6 L602.1 86.6 L602.6 86.5 L603.1 86.5 L603.6 86.5 L604.1 86.4 L604.6 86.5 L605.1 85.8 L605.6 86.6 L606.1 85.9 L606.6 85.9 L607.1 86.4 L607.6 86.3 L608.1 86.4 L608.6 86.7 L609.1 86.3 L609.6 87.2 L610.1 86.5 L610.6 86.8 L611.1 87.4 L611.6 87.5 L612.1 87.3 L612.6 86.7 L613.1 87.1 L613.6 87 L614.1 87 L614.6 87.1 L615.1 87.4 L615.6 87.6 L616.1 87.4 L616.6 87 L617.1 87.3 L617.6 87.4 L618.1 87.7 L618.6 87.1 L619.1 87.2 L619.6 87.1 L620.1 87 L620.6 87.5 L621.1 87.2 L621.6 87.7 L622.1 87.7 L622.6 87.4 L623.1 87.5 L623.6 87.3 L624.1 87.5 L624.6 87.5 L625.1 87.8 L625.6 87.3 L626.1 87.8 L626.6 87.7 L627.1 87.6 L627.6 87 L628.1 87.1 L628.6 87.4 L629.1 87.5 L629.6 87 L630.1 88 L630.6 87.5 L631.1 87.4 L631.6 87.6 L632.1 87.2 L632.6 86.7 L633.1 87.4 L633.6 87.2 L634.1 87.5 L634.6 87.5 L635.1 86.9" fill="none" stroke="#f1862b" stroke-width="2.1" stroke-linejoin="round" stroke-linecap="round"/>
<path d="M353.6 98.5 L354.1 98.1 L354.6 98.3 L355.1 98.4 L355.6 97.8 L356.1 98.7 L356.6 98.3 L357.1 99.1 L357.6 99 L358.1 99.7 L358.6 99.4 L359.1 99.6 L359.6 99.4 L360.1 100.1 L360.6 100 L361.1 100.4 L361.6 100.6 L362.1 100.8 L362.6 100.5 L363.1 100.1 L363.6 100.5 L364.1 101.3 L364.6 101.5 L365.1 101.7 L365.6 101.2 L366.1 101.2 L366.6 102 L367.1 102.1 L367.6 101.9 L368.1 102 L368.6 101.6 L369.1 102.2 L369.6 102.8 L370.1 102.1 L370.6 102.4 L371.1 102.6 L371.6 102.7 L372.1 102.2 L372.6 102.6 L373.1 102.6 L373.6 102.6 L374.1 102.6 L374.6 102.6 L375.1 102.2 L375.6 103.1 L376.1 102.3 L376.6 102.9 L377.1 102.8 L377.6 102.2 L378.1 101.6 L378.6 101.1 L379.1 101.2 L379.6 101.5 L380.1 101.4 L380.6 100.9 L381.1 100.7 L381.6 101.5 L382.1 100.4 L382.6 99.5 L383.1 99.6 L383.6 98.6 L384.1 97.5 L384.6 97.7 L385.1 96.6 L385.6 96.1 L386.1 96 L386.6 94.6 L387.1 93.6 L387.6 94.6 L388.1 94 L388.6 95.1 L389.1 96.8 L389.6 97.6 L390.1 97.7 L390.6 98.2 L391.1 99.1 L391.6 99.6 L392.1 100 L392.6 100.2 L393.1 100.2 L393.6 100.7 L394.1 101.1 L394.6 101.3 L395.1 101.4 L395.6 101.7 L396.1 101.3 L396.6 102.4 L397.1 102.7 L397.6 102.1 L398.1 101.9 L398.6 102.6 L399.1 102.7 L399.6 102.6 L400.1 103 L400.6 102.6 L401.1 102.4 L401.6 103.4 L402.1 102.7 L402.6 102.8 L403.1 102.2 L403.6 102.9 L404.1 102.8 L404.6 103.1 L405.1 103.3 L405.6 103.2 L406.1 102.7 L406.6 103.5 L407.1 103.3 L407.6 103.4 L408.1 103.2 L408.6 103.2 L409.1 102.7 L409.6 102.7 L410.1 103 L410.6 103 L411.1 103.3 L411.6 102.1 L412.1 103 L412.6 103 L413.1 103.6 L413.6 103.1 L414.1 103.1 L414.6 103.3 L415.1 103.4 L415.6 102.6 L416.1 102.8 L416.6 103.5 L417.1 103.4 L417.6 103.3 L418.1 103.8 L418.6 102.7 L419.1 103.3 L419.6 103.1 L420.1 103.3 L420.6 103 L421.1 103.3 L421.6 104.2 L422.1 103.5 L422.6 103.3 L423.1 103.8 L423.6 103.5 L424.1 104 L424.6 102.9 L425.1 102.8 L425.6 102.5 L426.1 102.8 L426.6 102.5 L427.1 103.6 L427.6 103.1 L428.1 103.2 L428.6 103.1 L429.1 102.9 L429.6 102.8 L430.1 102.3 L430.6 103.3 L431.1 102.5 L431.6 103.2 L432.1 102.7 L432.6 101.9 L433.1 102.1 L433.6 101.9 L434.1 101.6 L434.6 101.4 L435.1 101.3 L435.6 100.8 L436.1 100.3 L436.6 100.2 L437.1 99.6 L437.6 98.8 L438.1 98.4 L438.6 97.2 L439.1 96.5 L439.6 95.4 L440.1 95 L440.6 93.8 L441.1 95.9 L441.6 96 L442.1 97.6 L442.6 97.8 L443.1 98.8 L443.6 99.6 L444.1 99.9 L444.6 100.3 L445.1 100.8 L445.6 101.7 L446.1 100.9 L446.6 101.7 L447.1 102.4 L447.6 102 L448.1 102.8 L448.6 101.6 L449.1 102 L449.6 102.4 L450.1 102.4 L450.6 102.5 L451.1 103 L451.6 102.4 L452.1 103 L452.6 103 L453.1 102.9 L453.6 103.8 L454.1 102.9 L454.6 103.8 L455.1 102.9 L455.6 103.3 L456.1 103.2 L456.6 102.9 L457.1 103.4 L457.6 103.6 L458.1 103.4 L458.6 103.2 L459.1 103.7 L459.6 103.5 L460.1 103.3 L460.6 102.1 L461.1 103.1 L461.6 103.5 L462.1 102.7 L462.6 102.1 L463.1 102.8 L463.6 103 L464.1 102.5 L464.6 102.9 L465.1 103.2 L465.6 102.7 L466.1 102.8 L466.6 103.5 L467.1 102.9 L467.6 102.5 L468.1 103 L468.6 103 L469.1 102.8 L469.6 102.7 L470.1 102.4 L470.6 103.5 L471.1 102.1 L471.6 102.4 L472.1 102.4 L472.6 102.5 L473.1 101.8 L473.6 101.8 L474.1 101.3 L474.6 101.3 L475.1 100.2 L475.6 100.9 L476.1 100.1 L476.6 99.7 L477.1 98.8 L477.6 97.4 L478.1 97.1 L478.6 96.6 L479.1 96.7 L479.6 96.5 L480.1 97.5 L480.6 97.9 L481.1 98.3 L481.6 99.1 L482.1 100 L482.6 100.6 L483.1 100.4 L483.6 101.1 L484.1 101.4 L484.6 101.9 L485.1 102.3 L485.6 101.6 L486.1 101.9 L486.6 101.7 L487.1 103.1 L487.6 102.6 L488.1 102.1 L488.6 103.5 L489.1 102.8 L489.6 102.9 L490.1 103 L490.6 103.3 L491.1 102.3 L491.6 103 L492.1 103.4 L492.6 103.3 L493.1 103.1 L493.6 103 L494.1 102.7 L494.6 102.1 L495.1 102.6 L495.6 103.4 L496.1 103.3 L496.6 103.1 L497.1 103.3 L497.6 104 L498.1 103.3 L498.6 103.2 L499.1 104.4 L499.6 103.4 L500.1 103.1 L500.6 103.9 L501.1 103.1 L501.6 103.4 L502.1 103.5 L502.6 103.9 L503.1 103.1 L503.6 103.6 L504.1 102.8 L504.6 103.3 L505.1 103.4 L505.6 103.4 L506.1 104.1 L506.6 103.2 L507.1 103.2 L507.6 103.1 L508.1 103.1 L508.6 103.3 L509.1 103.2 L509.6 103.4 L510.1 102.8 L510.6 103.1 L511.1 103 L511.6 102.7 L512.1 102.7 L512.6 102.5 L513.1 102.1 L513.6 101.9 L514.1 101.2 L514.6 101 L515.1 100.9 L515.6 100.7 L516.1 100.1 L516.6 99.1 L517.1 98 L517.6 97.3 L518.1 95.8 L518.6 94 L519.1 93.1 L519.6 91.9 L520.1 92.2 L520.6 93.2 L521.1 95.3 L521.6 96.7 L522.1 97.4 L522.6 99.1 L523.1 99.7 L523.6 100.6 L524.1 100.6 L524.6 101.2 L525.1 101.6 L525.6 102.2 L526.1 101.7 L526.6 102.3 L527.1 103.1 L527.6 102.5 L528.1 102.3 L528.6 103.2 L529.1 103.2 L529.6 102.4 L530.1 103 L530.6 102.5 L531.1 103.1 L531.6 103.5 L532.1 103.4 L532.6 102.8 L533.1 102.9 L533.6 103.8 L534.1 103.4 L534.6 103.2 L535.1 103.4 L535.6 102.9 L536.1 102.7 L536.6 102.8 L537.1 103.4 L537.6 103 L538.1 103.5 L538.6 103.6 L539.1 103.4 L539.6 103 L540.1 103 L540.6 102.9 L541.1 103.2 L541.6 103.5 L542.1 103.1 L542.6 103.7 L543.1 103.2 L543.6 103 L544.1 102.7 L544.6 102.9 L545.1 102.8 L545.6 103.5 L546.1 103.3 L546.6 104.1 L547.1 103.7 L547.6 103.7 L548.1 103.1 L548.6 103.2 L549.1 103.7 L549.6 103.5 L550.1 103.2 L550.6 103.3 L551.1 103.6 L551.6 103.8 L552.1 103.7 L552.6 103.4 L553.1 103.4 L553.6 103.8 L554.1 103.6 L554.6 103 L555.1 103.3 L555.6 103.8 L556.1 104.1 L556.6 103.9 L557.1 103.3 L557.6 103.2 L558.1 104.3 L558.6 103.7 L559.1 103.4 L559.6 103.6 L560.1 103.7 L560.6 103.5 L561.1 103.6 L561.6 104.1 L562.1 103.4 L562.6 103.4 L563.1 103.7 L563.6 103.6 L564.1 103.5 L564.6 103.6 L565.1 103.3 L565.6 103.6 L566.1 103.4 L566.6 104.1 L567.1 103.3 L567.6 103.5 L568.1 103.9 L568.6 103.3 L569.1 103.6 L569.6 103.2 L570.1 103.2 L570.6 103.2 L571.1 103.2 L571.6 103.4 L572.1 102.5 L572.6 103.4 L573.1 103.3 L573.6 103 L574.1 102.8 L574.6 103 L575.1 102.8 L575.6 103.6 L576.1 103 L576.6 102.3 L577.1 101.8 L577.6 101.7 L578.1 100.5 L578.6 100.1 L579.1 100.3 L579.6 99.8 L580.1 100.9 L580.6 101.2 L581.1 102 L581.6 102.4 L582.1 102.5 L582.6 103.1 L583.1 102.9 L583.6 103.5 L584.1 103.3 L584.6 103.9 L585.1 104 L585.6 103.4 L586.1 102.5 L586.6 103.2 L587.1 103.4 L587.6 103 L588.1 103.3 L588.6 104 L589.1 103.3 L589.6 103.5 L590.1 104.1 L590.6 103.2 L591.1 103.2 L591.6 103.7 L592.1 103.2 L592.6 103.7 L593.1 103.9 L593.6 103.8 L594.1 103.5 L594.6 103.4 L595.1 103.7 L595.6 103.6 L596.1 103.7 L596.6 104.2 L597.1 103 L597.6 103.9 L598.1 103.3 L598.6 103.8 L599.1 103.5 L599.6 103.4 L600.1 103.4 L600.6 103.8 L601.1 103.5 L601.6 103.7 L602.1 102.7 L602.6 102.9 L603.1 102.7 L603.6 102.7 L604.1 103 L604.6 102.8 L605.1 102.1 L605.6 101.4 L606.1 102 L606.6 101.8 L607.1 102.2 L607.6 102.8 L608.1 103 L608.6 103.7 L609.1 102.8 L609.6 102.7 L610.1 102.6 L610.6 103.9 L611.1 103 L611.6 103.5 L612.1 104 L612.6 103.2 L613.1 103.8 L613.6 103.2 L614.1 104 L614.6 103.1 L615.1 103.5 L615.6 103.5 L616.1 103.6 L616.6 104.1 L617.1 104.2 L617.6 104.2 L618.1 104.3 L618.6 103.2 L619.1 103.8 L619.6 104.4 L620.1 104.4 L620.6 104.2 L621.1 103.8 L621.6 104.2 L622.1 103.8 L622.6 103.6 L623.1 104.2 L623.6 103.9 L624.1 103.9 L624.6 104.1 L625.1 104.2 L625.6 103.7 L626.1 103.5 L626.6 103.8 L627.1 103.7 L627.6 103.9 L628.1 104.1 L628.6 103.9 L629.1 103.8 L629.6 103.5 L630.1 104.1 L630.6 103.9 L631.1 104.2 L631.6 104.4 L632.1 104.2 L632.6 103.9 L633.1 104.2 L633.6 104.6 L634.1 103.5 L634.6 104.2 L635.1 104.2" fill="none" stroke="#d06b1e" stroke-width="2.1" stroke-linejoin="round" stroke-linecap="round"/>
<path d="M353.6 116.2 L354.1 116.5 L354.6 116.4 L355.1 116.4 L355.6 116.7 L356.1 116.2 L356.6 116.5 L357.1 116.6 L357.6 117 L358.1 117 L358.6 117.2 L359.1 117.5 L359.6 117.7 L360.1 117.7 L360.6 117.5 L361.1 118 L361.6 117.8 L362.1 118.5 L362.6 118.3 L363.1 118.2 L363.6 118.3 L364.1 118.1 L364.6 118.6 L365.1 118.2 L365.6 118.8 L366.1 118.2 L366.6 118.5 L367.1 119.5 L367.6 119.6 L368.1 119.6 L368.6 118.7 L369.1 118.9 L369.6 119 L370.1 119 L370.6 119.8 L371.1 119.6 L371.6 119.9 L372.1 119.8 L372.6 119.7 L373.1 120.6 L373.6 120.1 L374.1 119.5 L374.6 120.2 L375.1 119.6 L375.6 119.7 L376.1 120.2 L376.6 119.4 L377.1 119.5 L377.6 119.4 L378.1 120 L378.6 120 L379.1 119.3 L379.6 119.8 L380.1 118.6 L380.6 118.8 L381.1 119.1 L381.6 118.4 L382.1 118.4 L382.6 118.1 L383.1 117.9 L383.6 117.4 L384.1 116.3 L384.6 116.2 L385.1 115.4 L385.6 115.1 L386.1 113.5 L386.6 112.8 L387.1 112.5 L387.6 111.3 L388.1 111.2 L388.6 110.8 L389.1 110.8 L389.6 113 L390.1 113.8 L390.6 114.5 L391.1 115 L391.6 116 L392.1 116.8 L392.6 117.2 L393.1 117.6 L393.6 118.1 L394.1 118.2 L394.6 118.1 L395.1 118.7 L395.6 119 L396.1 119.6 L396.6 119.2 L397.1 118.9 L397.6 119.8 L398.1 119.7 L398.6 119.4 L399.1 119.2 L399.6 120.2 L400.1 119.2 L400.6 119.6 L401.1 119.9 L401.6 119.5 L402.1 119.9 L402.6 120.1 L403.1 119.9 L403.6 119.6 L404.1 119.8 L404.6 120 L405.1 120.5 L405.6 119.8 L406.1 120.6 L406.6 119.8 L407.1 120.6 L407.6 120.9 L408.1 120.6 L408.6 120.1 L409.1 120.7 L409.6 120.6 L410.1 120.4 L410.6 120.1 L411.1 120.1 L411.6 120.2 L412.1 121 L412.6 120.4 L413.1 120.4 L413.6 120.1 L414.1 120.3 L414.6 120.1 L415.1 120 L415.6 120.3 L416.1 120.1 L416.6 120.3 L417.1 120.2 L417.6 120 L418.1 120.4 L418.6 120.4 L419.1 119.3 L419.6 120.2 L420.1 120.2 L420.6 120.2 L421.1 120.7 L421.6 120.3 L422.1 120.1 L422.6 120 L423.1 120.4 L423.6 119.7 L424.1 120.1 L424.6 120 L425.1 120.1 L425.6 120.1 L426.1 119.8 L426.6 119.8 L427.1 120.1 L427.6 119.8 L428.1 120.6 L428.6 120.2 L429.1 119.7 L429.6 120.2 L430.1 119.9 L430.6 120 L431.1 120.3 L431.6 120.1 L432.1 119.4 L432.6 119.7 L433.1 119.3 L433.6 119.7 L434.1 119.2 L434.6 118.4 L435.1 117.6 L435.6 118.2 L436.1 117.8 L436.6 117.4 L437.1 117.9 L437.6 116.6 L438.1 116.1 L438.6 114.5 L439.1 113.9 L439.6 112.3 L440.1 110.8 L440.6 110.7 L441.1 111.8 L441.6 112.6 L442.1 114.7 L442.6 115.3 L443.1 115.6 L443.6 116 L444.1 117.7 L444.6 118.1 L445.1 118.5 L445.6 118.3 L446.1 118.5 L446.6 119.2 L447.1 119.1 L447.6 119.4 L448.1 119.7 L448.6 120 L449.1 119.5 L449.6 119.7 L450.1 119.9 L450.6 119.7 L451.1 120.3 L451.6 119.7 L452.1 120.2 L452.6 119.9 L453.1 120.5 L453.6 120.2 L454.1 119.9 L454.6 120.1 L455.1 119.8 L455.6 120.4 L456.1 120.2 L456.6 120.1 L457.1 120.4 L457.6 120.4 L458.1 120.1 L458.6 119.9 L459.1 120.6 L459.6 120.4 L460.1 120.3 L460.6 120.5 L461.1 120.2 L461.6 120.8 L462.1 120.2 L462.6 120.1 L463.1 120.3 L463.6 120.1 L464.1 120.2 L464.6 120.2 L465.1 119.9 L465.6 120.3 L466.1 120.2 L466.6 120.8 L467.1 120 L467.6 119.8 L468.1 119.7 L468.6 120.1 L469.1 120 L469.6 119.6 L470.1 120.1 L470.6 119.2 L471.1 119.4 L471.6 119.4 L472.1 119.4 L472.6 119 L473.1 119.6 L473.6 119.3 L474.1 118.8 L474.6 118.5 L475.1 118.1 L475.6 117.7 L476.1 117.5 L476.6 116.9 L477.1 116.1 L477.6 114.9 L478.1 113.6 L478.6 112.6 L479.1 112.5 L479.6 112.3 L480.1 113.5 L480.6 115 L481.1 115.7 L481.6 116.4 L482.1 117 L482.6 117.8 L483.1 118.2 L483.6 118 L484.1 118.3 L484.6 118.6 L485.1 119.1 L485.6 120 L486.1 119.5 L486.6 119.6 L487.1 120 L487.6 120 L488.1 119.6 L488.6 119.2 L489.1 120.8 L489.6 119.9 L490.1 119.8 L490.6 120.5 L491.1 119.8 L491.6 120 L492.1 119.7 L492.6 120.5 L493.1 119.9 L493.6 120.2 L494.1 120.5 L494.6 120.2 L495.1 121 L495.6 120.2 L496.1 119.7 L496.6 120.5 L497.1 120.5 L497.6 120.6 L498.1 120 L498.6 120.1 L499.1 120.2 L499.6 120.6 L500.1 120.2 L500.6 120.7 L501.1 120.5 L501.6 120.5 L502.1 120 L502.6 119.6 L503.1 120.3 L503.6 120.7 L504.1 120.5 L504.6 119.9 L505.1 120.5 L505.6 120.2 L506.1 120.4 L506.6 119.8 L507.1 119.8 L507.6 120.1 L508.1 120.5 L508.6 120 L509.1 120.1 L509.6 120.5 L510.1 119.8 L510.6 119.8 L511.1 119.6 L511.6 120.2 L512.1 119.5 L512.6 119.1 L513.1 119.2 L513.6 119.3 L514.1 119 L514.6 118.9 L515.1 118.7 L515.6 118 L516.1 117.2 L516.6 116 L517.1 115.8 L517.6 114.8 L518.1 113.2 L518.6 111.4 L519.1 108.9 L519.6 107.6 L520.1 107.8 L520.6 109.9 L521.1 111.7 L521.6 114.3 L522.1 115.6 L522.6 116.6 L523.1 117.7 L523.6 117.3 L524.1 118.3 L524.6 118.5 L525.1 118.7 L525.6 119.4 L526.1 119.2 L526.6 119.2 L527.1 119.9 L527.6 119.6 L528.1 119.8 L528.6 120.2 L529.1 119.9 L529.6 119.9 L530.1 120.2 L530.6 120.7 L531.1 119.6 L531.6 120.7 L532.1 120.5 L532.6 120.4 L533.1 120.4 L533.6 119.8 L534.1 120.4 L534.6 120.6 L535.1 120.3 L535.6 119.7 L536.1 120.1 L536.6 119.8 L537.1 119.8 L537.6 119.8 L538.1 120.4 L538.6 120.6 L539.1 120 L539.6 120.3 L540.1 119.7 L540.6 119.6 L541.1 120 L541.6 120.1 L542.1 119.6 L542.6 118.2 L543.1 119.1 L543.6 119.5 L544.1 119.7 L544.6 119.5 L545.1 120.8 L545.6 119.4 L546.1 120.1 L546.6 119.8 L547.1 120.1 L547.6 120.2 L548.1 120 L548.6 120.3 L549.1 119.8 L549.6 120 L550.1 120.4 L550.6 119.9 L551.1 120.5 L551.6 120.2 L552.1 120 L552.6 120.4 L553.1 120.1 L553.6 121 L554.1 120.4 L554.6 121 L555.1 120.1 L555.6 120.8 L556.1 120.4 L556.6 120.7 L557.1 120.3 L557.6 120.8 L558.1 121.1 L558.6 120.2 L559.1 120.1 L559.6 121.1 L560.1 120.1 L560.6 120.4 L561.1 120.2 L561.6 119.9 L562.1 120.3 L562.6 120.4 L563.1 119.7 L563.6 120.8 L564.1 120.5 L564.6 119.5 L565.1 120.4 L565.6 121.1 L566.1 120.1 L566.6 120.4 L567.1 121 L567.6 119.6 L568.1 120.8 L568.6 121 L569.1 120.9 L569.6 119.9 L570.1 120.6 L570.6 120.2 L571.1 120.8 L571.6 120.6 L572.1 120 L572.6 120.1 L573.1 119.7 L573.6 119.7 L574.1 119.6 L574.6 119.5 L575.1 119.1 L575.6 118.5 L576.1 118.3 L576.6 117.6 L577.1 117.4 L577.6 117 L578.1 117.3 L578.6 116.8 L579.1 116.7 L579.6 116.6 L580.1 117.8 L580.6 118.3 L581.1 118.9 L581.6 119.4 L582.1 119.8 L582.6 119.5 L583.1 120.3 L583.6 120.4 L584.1 120.5 L584.6 120 L585.1 120.3 L585.6 120.3 L586.1 120.1 L586.6 120.1 L587.1 120.4 L587.6 120.1 L588.1 120 L588.6 120.3 L589.1 120.4 L589.6 120.7 L590.1 121 L590.6 120 L591.1 120.6 L591.6 120.7 L592.1 120.1 L592.6 120.3 L593.1 120.5 L593.6 120.4 L594.1 120.7 L594.6 121 L595.1 121.1 L595.6 120.4 L596.1 120.3 L596.6 120.7 L597.1 120.3 L597.6 120.3 L598.1 120.6 L598.6 120 L599.1 120.7 L599.6 120.1 L600.1 120.2 L600.6 119.8 L601.1 120 L601.6 119.5 L602.1 119 L602.6 119.2 L603.1 119.3 L603.6 118.4 L604.1 118.7 L604.6 118.6 L605.1 117.5 L605.6 117.4 L606.1 117.2 L606.6 118 L607.1 118.1 L607.6 117.9 L608.1 118.8 L608.6 119.7 L609.1 119.5 L609.6 119.4 L610.1 119.9 L610.6 119.5 L611.1 120.6 L611.6 119.8 L612.1 120.4 L612.6 120.4 L613.1 120.2 L613.6 119.9 L614.1 120.4 L614.6 120.4 L615.1 120.4 L615.6 119.9 L616.1 120.5 L616.6 120.5 L617.1 120.5 L617.6 120.5 L618.1 120.3 L618.6 120.1 L619.1 120.7 L619.6 120.2 L620.1 120.3 L620.6 120.6 L621.1 121.2 L621.6 120.8 L622.1 121 L622.6 120.5 L623.1 120.5 L623.6 120.8 L624.1 120.7 L624.6 120.7 L625.1 120.8 L625.6 120.5 L626.1 120.6 L626.6 120.6 L627.1 121.2 L627.6 120.6 L628.1 120.7 L628.6 120.9 L629.1 120.9 L629.6 120.9 L630.1 120.1 L630.6 120.6 L631.1 120.6 L631.6 120.6 L632.1 120.8 L632.6 120.9 L633.1 120.8 L633.6 120.5 L634.1 120.6 L634.6 120.1 L635.1 120.4" fill="none" stroke="#8dd0d0" stroke-width="2.1" stroke-linejoin="round" stroke-linecap="round"/>
<path d="M353.6 134.3 L354.1 133.9 L354.6 134.3 L355.1 134.6 L355.6 134.2 L356.1 134.5 L356.6 134.6 L357.1 135.1 L357.6 134.8 L358.1 135.2 L358.6 135 L359.1 135.5 L359.6 135.1 L360.1 135.2 L360.6 135.5 L361.1 136.3 L361.6 135.7 L362.1 135.4 L362.6 135.6 L363.1 136.9 L363.6 136.1 L364.1 136.3 L364.6 136.5 L365.1 137 L365.6 136.8 L366.1 136.9 L366.6 136.9 L367.1 136.7 L367.6 137 L368.1 137 L368.6 136.7 L369.1 136.5 L369.6 137.8 L370.1 137.8 L370.6 137.8 L371.1 137.9 L371.6 137.8 L372.1 137.5 L372.6 137.4 L373.1 137.6 L373.6 137.6 L374.1 137.5 L374.6 137.3 L375.1 137.9 L375.6 137.9 L376.1 138.2 L376.6 138.2 L377.1 137.4 L377.6 137.7 L378.1 137.5 L378.6 137.5 L379.1 138 L379.6 137.8 L380.1 137.3 L380.6 137.4 L381.1 137.1 L381.6 136.7 L382.1 136.5 L382.6 136.1 L383.1 136.6 L383.6 135.5 L384.1 135.2 L384.6 134.8 L385.1 134.1 L385.6 134.2 L386.1 133 L386.6 131 L387.1 130.2 L387.6 129.6 L388.1 127.9 L388.6 127.6 L389.1 128.6 L389.6 129.8 L390.1 130.8 L390.6 132.2 L391.1 133.2 L391.6 133.7 L392.1 134.7 L392.6 135.2 L393.1 135.7 L393.6 136.2 L394.1 136.2 L394.6 136.1 L395.1 137 L395.6 137 L396.1 136.7 L396.6 136.8 L397.1 137.4 L397.6 137.6 L398.1 136.9 L398.6 137.4 L399.1 137.4 L399.6 137.6 L400.1 137.9 L400.6 138.3 L401.1 137.5 L401.6 138.3 L402.1 138.2 L402.6 138.6 L403.1 137.9 L403.6 138 L404.1 138.3 L404.6 138.1 L405.1 138.5 L405.6 138.1 L406.1 138.3 L406.6 138.2 L407.1 137.8 L407.6 138.3 L408.1 137.9 L408.6 138.1 L409.1 138 L409.6 138.2 L410.1 137.6 L410.6 138.5 L411.1 138.3 L411.6 138.1 L412.1 137.8 L412.6 137.7 L413.1 138 L413.6 137.8 L414.1 138.1 L414.6 138.2 L415.1 138.3 L415.6 138.1 L416.1 137.7 L416.6 138.6 L417.1 138.7 L417.6 137.8 L418.1 138 L418.6 138.8 L419.1 138.6 L419.6 138.1 L420.1 138.3 L420.6 137.6 L421.1 138.1 L421.6 138.5 L422.1 137.4 L422.6 138.3 L423.1 137.7 L423.6 138.7 L424.1 137.7 L424.6 137.7 L425.1 137.8 L425.6 137.8 L426.1 138.1 L426.6 138.4 L427.1 137.6 L427.6 137.8 L428.1 138.1 L428.6 137.6 L429.1 138.1 L429.6 138 L430.1 138 L430.6 137.8 L431.1 138 L431.6 138.1 L432.1 137.6 L432.6 137.9 L433.1 137.5 L433.6 136.8 L434.1 137.6 L434.6 137.1 L435.1 137.2 L435.6 136.3 L436.1 136.1 L436.6 135.5 L437.1 134.7 L437.6 134.5 L438.1 134 L438.6 132.4 L439.1 130.7 L439.6 128.9 L440.1 126.9 L440.6 126.6 L441.1 128.2 L441.6 129.7 L442.1 131.3 L442.6 132.6 L443.1 133.5 L443.6 135.1 L444.1 135.6 L444.6 135.9 L445.1 135.9 L445.6 136.4 L446.1 137.2 L446.6 137.4 L447.1 138.1 L447.6 137.6 L448.1 137.5 L448.6 137.6 L449.1 137.1 L449.6 138 L450.1 137.2 L450.6 137.8 L451.1 137.8 L451.6 138.1 L452.1 138.2 L452.6 138.2 L453.1 138.2 L453.6 138 L454.1 138.3 L454.6 138.2 L455.1 137.8 L455.6 138.3 L456.1 138 L456.6 138.2 L457.1 138.3 L457.6 138 L458.1 137.8 L458.6 138.4 L459.1 138 L459.6 138.1 L460.1 138.4 L460.6 137.9 L461.1 138.1 L461.6 138.2 L462.1 137.7 L462.6 137.8 L463.1 138 L463.6 138.4 L464.1 137.5 L464.6 138.2 L465.1 138.3 L465.6 137.8 L466.1 137.9 L466.6 137.4 L467.1 138.2 L467.6 137.7 L468.1 138 L468.6 137.5 L469.1 138.2 L469.6 137.6 L470.1 137.7 L470.6 138 L471.1 137.7 L471.6 137.3 L472.1 137.5 L472.6 137.5 L473.1 137.2 L473.6 137 L474.1 136.7 L474.6 136.5 L475.1 136.2 L475.6 135.6 L476.1 135.5 L476.6 134.9 L477.1 133.8 L477.6 132.8 L478.1 131.7 L478.6 130.4 L479.1 129.7 L479.6 130.4 L480.1 131.5 L480.6 132.8 L481.1 133.3 L481.6 134.8 L482.1 135.1 L482.6 135.7 L483.1 136 L483.6 136.2 L484.1 136.6 L484.6 136.7 L485.1 136.9 L485.6 136.8 L486.1 137.8 L486.6 138 L487.1 137.7 L487.6 137.2 L488.1 137.8 L488.6 138.3 L489.1 137.5 L489.6 138.4 L490.1 138.1 L490.6 137.2 L491.1 138.2 L491.6 138.1 L492.1 137.9 L492.6 137.5 L493.1 137.9 L493.6 138.6 L494.1 137.9 L494.6 137.6 L495.1 138.2 L495.6 138.1 L496.1 137.9 L496.6 138.3 L497.1 137.9 L497.6 138 L498.1 137.8 L498.6 138.5 L499.1 138.1 L499.6 137.8 L500.1 138.6 L500.6 138.3 L501.1 138.1 L501.6 138.4 L502.1 137.8 L502.6 138 L503.1 138 L503.6 138.4 L504.1 138 L504.6 138.3 L505.1 138.2 L505.6 138.1 L506.1 137.9 L506.6 138.2 L507.1 137.4 L507.6 137.8 L508.1 137.5 L508.6 138.2 L509.1 138.2 L509.6 137.6 L510.1 138 L510.6 137.6 L511.1 138.1 L511.6 137.6 L512.1 138.3 L512.6 137.9 L513.1 137.8 L513.6 137.1 L514.1 136.5 L514.6 136.6 L515.1 136.4 L515.6 136 L516.1 135.3 L516.6 134.5 L517.1 133.5 L517.6 133.2 L518.1 130.5 L518.6 128.1 L519.1 124.5 L519.6 123.2 L520.1 124.3 L520.6 127 L521.1 129.6 L521.6 131.6 L522.1 133.7 L522.6 134.3 L523.1 135.8 L523.6 136.3 L524.1 136.3 L524.6 136.3 L525.1 137.3 L525.6 137.2 L526.1 137.3 L526.6 137.7 L527.1 138.2 L527.6 137 L528.1 137.4 L528.6 137.6 L529.1 138.4 L529.6 137.8 L530.1 138.4 L530.6 138.5 L531.1 137.9 L531.6 138 L532.1 138.1 L532.6 138.2 L533.1 138.1 L533.6 138.2 L534.1 137.5 L534.6 137.9 L535.1 137.7 L535.6 138.4 L536.1 137.9 L536.6 137.8 L537.1 138 L537.6 138.3 L538.1 138.5 L538.6 137.6 L539.1 137.8 L539.6 138.1 L540.1 137.5 L540.6 138 L541.1 137.2 L541.6 137.5 L542.1 137.1 L542.6 136.7 L543.1 136.7 L543.6 136.8 L544.1 137.4 L544.6 138.2 L545.1 137.3 L545.6 138 L546.1 137.9 L546.6 138.2 L547.1 138 L547.6 138.1 L548.1 138 L548.6 138.5 L549.1 137.9 L549.6 137.9 L550.1 138.7 L550.6 138.1 L551.1 138.3 L551.6 137.9 L552.1 138 L552.6 138.3 L553.1 137.9 L553.6 138.1 L554.1 137.9 L554.6 138.1 L555.1 137.9 L555.6 138.3 L556.1 137.6 L556.6 138.3 L557.1 138.3 L557.6 138.2 L558.1 138.9 L558.6 138.3 L559.1 138.7 L559.6 138.6 L560.1 138.2 L560.6 138 L561.1 138.1 L561.6 138.2 L562.1 138 L562.6 138.2 L563.1 138.3 L563.6 138 L564.1 138.3 L564.6 138 L565.1 138.7 L565.6 137.9 L566.1 138.3 L566.6 138.1 L567.1 137.3 L567.6 137.8 L568.1 138 L568.6 137.9 L569.1 138.6 L569.6 137.9 L570.1 138.2 L570.6 138 L571.1 137.9 L571.6 137.8 L572.1 137.9 L572.6 137.7 L573.1 137 L573.6 137.1 L574.1 136.6 L574.6 136.3 L575.1 135.5 L575.6 135 L576.1 133.6 L576.6 133.6 L577.1 134.7 L577.6 134.6 L578.1 134.9 L578.6 134.4 L579.1 133.9 L579.6 135 L580.1 135.5 L580.6 136.1 L581.1 137.1 L581.6 136.8 L582.1 137.7 L582.6 137.7 L583.1 137.3 L583.6 137.9 L584.1 137.6 L584.6 137.8 L585.1 138.1 L585.6 138.5 L586.1 137.6 L586.6 138.5 L587.1 138.4 L587.6 138.5 L588.1 138.5 L588.6 138.8 L589.1 138.7 L589.6 138.4 L590.1 137.7 L590.6 138.2 L591.1 138.4 L591.6 138.4 L592.1 138.1 L592.6 138.7 L593.1 138.3 L593.6 138 L594.1 138.5 L594.6 137.9 L595.1 138.4 L595.6 138.4 L596.1 138.3 L596.6 138.5 L597.1 138.1 L597.6 138.1 L598.1 138 L598.6 138.2 L599.1 137.6 L599.6 138 L600.1 138.5 L600.6 138.5 L601.1 137.9 L601.6 138.1 L602.1 137.6 L602.6 137.4 L603.1 137.3 L603.6 136.9 L604.1 136 L604.6 135.8 L605.1 135.1 L605.6 134.6 L606.1 134.7 L606.6 135.5 L607.1 135.9 L607.6 136.6 L608.1 136.8 L608.6 137.1 L609.1 137.3 L609.6 137.3 L610.1 137.6 L610.6 138.2 L611.1 138.3 L611.6 137.9 L612.1 138.6 L612.6 138.3 L613.1 138.3 L613.6 138 L614.1 138 L614.6 138.2 L615.1 138.6 L615.6 138.2 L616.1 138.6 L616.6 138.4 L617.1 138.7 L617.6 138.9 L618.1 138.5 L618.6 138.1 L619.1 138.5 L619.6 138.4 L620.1 138.7 L620.6 138.6 L621.1 138.2 L621.6 138.5 L622.1 138.7 L622.6 138.8 L623.1 138.6 L623.6 138.5 L624.1 138.5 L624.6 139.1 L625.1 138.3 L625.6 138.8 L626.1 138.5 L626.6 138.8 L627.1 138.6 L627.6 138.9 L628.1 138.2 L628.6 138.5 L629.1 139 L629.6 138.7 L630.1 138.3 L630.6 138.8 L631.1 138.6 L631.6 139.1 L632.1 138.4 L632.6 138.9 L633.1 138.7 L633.6 138.5 L634.1 138.3 L634.6 139 L635.1 139.1" fill="none" stroke="#5bb3b3" stroke-width="2.1" stroke-linejoin="round" stroke-linecap="round"/>
<path d="M353.6 151.4 L354.1 150.8 L354.6 151.7 L355.1 152 L355.6 152.1 L356.1 152.5 L356.6 152 L357.1 152 L357.6 152.3 L358.1 152.2 L358.6 153.2 L359.1 153 L359.6 152.1 L360.1 152.8 L360.6 153.2 L361.1 152.5 L361.6 153.7 L362.1 153.2 L362.6 153.1 L363.1 153.5 L363.6 153.4 L364.1 154.2 L364.6 154.1 L365.1 153.9 L365.6 153.9 L366.1 154.3 L366.6 154 L367.1 154.6 L367.6 154.4 L368.1 154.9 L368.6 155.2 L369.1 154.9 L369.6 155.1 L370.1 155.3 L370.6 155.6 L371.1 155.7 L371.6 155.7 L372.1 155.8 L372.6 155.2 L373.1 154.9 L373.6 155.2 L374.1 156.7 L374.6 155.6 L375.1 155.3 L375.6 155.7 L376.1 155.5 L376.6 155.6 L377.1 155.6 L377.6 155 L378.1 155 L378.6 155.5 L379.1 154.7 L379.6 155 L380.1 154.6 L380.6 154.8 L381.1 154.7 L381.6 154.1 L382.1 154.4 L382.6 153.5 L383.1 153.1 L383.6 152.8 L384.1 152.4 L384.6 151.4 L385.1 149.8 L385.6 149.5 L386.1 148.5 L386.6 146.9 L387.1 144.6 L387.6 142.9 L388.1 139.4 L388.6 136.3 L389.1 136.1 L389.6 138.8 L390.1 141.7 L390.6 144.4 L391.1 146.5 L391.6 148 L392.1 150 L392.6 151 L393.1 151.5 L393.6 152.1 L394.1 153.1 L394.6 153.3 L395.1 153.3 L395.6 154.3 L396.1 154.2 L396.6 155.2 L397.1 153.6 L397.6 155.2 L398.1 154.8 L398.6 154.8 L399.1 155.3 L399.6 156.2 L400.1 154.9 L400.6 155.7 L401.1 155.8 L401.6 155.7 L402.1 155.3 L402.6 155.5 L403.1 156.3 L403.6 155.6 L404.1 155.8 L404.6 155.9 L405.1 156 L405.6 156.3 L406.1 156.3 L406.6 155.7 L407.1 155.4 L407.6 155.9 L408.1 155.3 L408.6 155.4 L409.1 155.6 L409.6 155.4 L410.1 155.6 L410.6 156 L411.1 156 L411.6 156 L412.1 155.6 L412.6 156.3 L413.1 156.1 L413.6 155.1 L414.1 155.8 L414.6 156.2 L415.1 155.7 L415.6 156.2 L416.1 155.9 L416.6 156.7 L417.1 155.8 L417.6 155.6 L418.1 155.9 L418.6 155.6 L419.1 155.8 L419.6 155.7 L420.1 155.5 L420.6 156.2 L421.1 155.9 L421.6 155.9 L422.1 155.3 L422.6 156.3 L423.1 155.2 L423.6 155.8 L424.1 155.9 L424.6 155.3 L425.1 156.4 L425.6 155.6 L426.1 155.6 L426.6 155.9 L427.1 156.1 L427.6 156 L428.1 155.5 L428.6 155.8 L429.1 155.7 L429.6 156 L430.1 156.1 L430.6 155.7 L431.1 155.7 L431.6 155.9 L432.1 155.5 L432.6 155.5 L433.1 155.7 L433.6 155.2 L434.1 155.1 L434.6 154.6 L435.1 154.4 L435.6 154.3 L436.1 154.2 L436.6 152.9 L437.1 152.7 L437.6 152.1 L438.1 151.1 L438.6 149.4 L439.1 147.1 L439.6 145.1 L440.1 142.3 L440.6 141.1 L441.1 143 L441.6 146 L442.1 148.1 L442.6 149.8 L443.1 150.9 L443.6 151.9 L444.1 152.5 L444.6 154 L445.1 153.8 L445.6 155.1 L446.1 154.1 L446.6 154.8 L447.1 155.5 L447.6 154.8 L448.1 154.9 L448.6 155.5 L449.1 155.7 L449.6 155.6 L450.1 155.4 L450.6 155.6 L451.1 156.4 L451.6 156.1 L452.1 155.8 L452.6 155.5 L453.1 155.7 L453.6 156.3 L454.1 156.2 L454.6 155.3 L455.1 155.6 L455.6 156 L456.1 156.5 L456.6 155.4 L457.1 155.9 L457.6 156.3 L458.1 156.3 L458.6 155.4 L459.1 155.7 L459.6 156 L460.1 155.7 L460.6 156.1 L461.1 155.9 L461.6 156.3 L462.1 155.3 L462.6 155.8 L463.1 156.3 L463.6 155.5 L464.1 156.1 L464.6 155.6 L465.1 155.7 L465.6 156.3 L466.1 156.1 L466.6 156.1 L467.1 155.4 L467.6 155.9 L468.1 155.8 L468.6 156.1 L469.1 156.1 L469.6 154.9 L470.1 155.5 L470.6 155.6 L471.1 155.7 L471.6 155.2 L472.1 155.1 L472.6 155.2 L473.1 155.2 L473.6 155.5 L474.1 154.4 L474.6 154.4 L475.1 153.7 L475.6 154.1 L476.1 152.6 L476.6 152.2 L477.1 151.5 L477.6 149.3 L478.1 147.5 L478.6 146.2 L479.1 144.1 L479.6 145.8 L480.1 146.9 L480.6 148.7 L481.1 150.2 L481.6 151.7 L482.1 151.9 L482.6 153.3 L483.1 153.9 L483.6 153.6 L484.1 154.4 L484.6 154.6 L485.1 155.4 L485.6 155.2 L486.1 155.3 L486.6 155.2 L487.1 155.8 L487.6 155.8 L488.1 155.1 L488.6 155.9 L489.1 156 L489.6 155.8 L490.1 156.1 L490.6 156 L491.1 155.3 L491.6 155.6 L492.1 155.9 L492.6 155.8 L493.1 155.6 L493.6 155.5 L494.1 155.5 L494.6 155.2 L495.1 155.9 L495.6 155.8 L496.1 155.5 L496.6 156.1 L497.1 155.6 L497.6 155.4 L498.1 155.5 L498.6 155.6 L499.1 156 L499.6 155.7 L500.1 156 L500.6 155.9 L501.1 156.4 L501.6 155.9 L502.1 155.7 L502.6 155 L503.1 155.9 L503.6 156.2 L504.1 155.9 L504.6 155.9 L505.1 156 L505.6 155.9 L506.1 156.1 L506.6 155.6 L507.1 155.8 L507.6 155.7 L508.1 156.2 L508.6 156.4 L509.1 156.4 L509.6 155.7 L510.1 155.8 L510.6 155.9 L511.1 155.6 L511.6 155.3 L512.1 155.6 L512.6 155.4 L513.1 155 L513.6 155.3 L514.1 154.9 L514.6 154.3 L515.1 154.4 L515.6 154.4 L516.1 153.8 L516.6 152.9 L517.1 151.7 L517.6 150.3 L518.1 148 L518.6 145.1 L519.1 140.9 L519.6 137.8 L519.7 137 L520.1 140 L520.6 142.9 L521.1 146.8 L521.6 149.4 L522.1 151.4 L522.6 152.6 L523.1 153 L523.6 154.1 L524.1 154.5 L524.6 154.6 L525.1 155.1 L525.6 154.6 L526.1 155 L526.6 155.6 L527.1 155.3 L527.6 155.5 L528.1 155.1 L528.6 155.4 L529.1 155 L529.6 155 L530.1 155.2 L530.6 156 L531.1 155.6 L531.6 156 L532.1 155.3 L532.6 155.7 L533.1 156.1 L533.6 155.9 L534.1 155.9 L534.6 155.1 L535.1 156.8 L535.6 156 L536.1 155.3 L536.6 155.7 L537.1 155.5 L537.6 155.9 L538.1 155.4 L538.6 155.8 L539.1 155.7 L539.6 155.3 L540.1 155.5 L540.6 155.1 L541.1 154.6 L541.6 154.3 L542.1 153.9 L542.6 153.7 L543.1 154.1 L543.6 154.4 L544.1 155.3 L544.6 155.2 L545.1 155.7 L545.6 156 L546.1 155.7 L546.6 156 L547.1 155.8 L547.6 155.7 L548.1 156.3 L548.6 156.1 L549.1 156 L549.6 155.7 L550.1 156.1 L550.6 156.2 L551.1 155.9 L551.6 156 L552.1 156.1 L552.6 155.5 L553.1 156.6 L553.6 156.3 L554.1 155.4 L554.6 156.5 L555.1 156.3 L555.6 155.8 L556.1 155.7 L556.6 156 L557.1 155.8 L557.6 156.2 L558.1 156.5 L558.6 155.6 L559.1 156 L559.6 156.6 L560.1 156.7 L560.6 156.2 L561.1 155.9 L561.6 156.3 L562.1 155.8 L562.6 155.8 L563.1 156.5 L563.6 156.1 L564.1 156.2 L564.6 155.7 L565.1 155.9 L565.6 155.9 L566.1 155.7 L566.6 156.2 L567.1 156.1 L567.6 155.7 L568.1 156.3 L568.6 155.8 L569.1 155.5 L569.6 155.7 L570.1 155.9 L570.6 155.8 L571.1 155.7 L571.6 156 L572.1 155.7 L572.6 154.9 L573.1 154.9 L573.6 156.1 L574.1 155.3 L574.6 153.8 L575.1 154.5 L575.6 152.8 L576.1 152.1 L576.6 152.1 L577.1 152.7 L577.6 153.3 L578.1 153.3 L578.6 153.1 L579.1 152.6 L579.6 153.2 L580.1 153.7 L580.6 154 L581.1 155.5 L581.6 154.9 L582.1 154.8 L582.6 155.9 L583.1 155.4 L583.6 155.9 L584.1 156 L584.6 155.4 L585.1 156 L585.6 156.2 L586.1 155.7 L586.6 156.3 L587.1 156.1 L587.6 156.2 L588.1 156.5 L588.6 156.3 L589.1 155.9 L589.6 155.9 L590.1 156.5 L590.6 156.1 L591.1 156.2 L591.6 156.1 L592.1 156.4 L592.6 156.2 L593.1 156 L593.6 156.3 L594.1 156.4 L594.6 157.1 L595.1 155.9 L595.6 156.6 L596.1 156 L596.6 156.2 L597.1 156.5 L597.6 156.3 L598.1 156.7 L598.6 156.3 L599.1 156.1 L599.6 156.1 L600.1 155 L600.6 155.7 L601.1 156.1 L601.6 156.1 L602.1 155.9 L602.6 155.7 L603.1 155.2 L603.6 155.7 L604.1 153.8 L604.6 154.1 L605.1 152.8 L605.6 152.7 L606.1 153 L606.6 153.2 L607.1 153.7 L607.6 154.3 L608.1 155 L608.6 154.8 L609.1 156.2 L609.6 155.7 L610.1 156.4 L610.6 155.8 L611.1 156.3 L611.6 156.2 L612.1 156.3 L612.6 156.1 L613.1 156.9 L613.6 156.2 L614.1 156.5 L614.6 156.5 L615.1 156.3 L615.6 156.1 L616.1 155.8 L616.6 156.4 L617.1 156.1 L617.6 156.4 L618.1 156.7 L618.6 156.8 L619.1 156.5 L619.6 156.4 L620.1 156.7 L620.6 156.7 L621.1 156.9 L621.6 156.2 L622.1 156.8 L622.6 156.3 L623.1 156.9 L623.6 156.3 L624.1 156.1 L624.6 156.8 L625.1 156.9 L625.6 156.8 L626.1 156.3 L626.6 156.7 L627.1 157 L627.6 156.7 L628.1 156.6 L628.6 156.7 L629.1 156.8 L629.6 157 L630.1 156.9 L630.6 156.4 L631.1 155.9 L631.6 156.9 L632.1 156.1 L632.6 156.5 L633.1 156.1 L633.6 157 L634.1 156.2 L634.6 156.4 L635.1 156.8" fill="none" stroke="#409696" stroke-width="2.1" stroke-linejoin="round" stroke-linecap="round"/>
<path d="M353.6 172.5 L354.1 173.2 L354.6 172.5 L355.1 172.6 L355.6 172.8 L356.1 172.9 L356.6 173.1 L357.1 172.9 L357.6 172.7 L358.1 172.6 L358.6 173.2 L359.1 173.1 L359.6 173.2 L360.1 172.7 L360.6 172.7 L361.1 173.5 L361.6 173.3 L362.1 173.4 L362.6 173.9 L363.1 173.2 L363.6 173.6 L364.1 173.3 L364.6 173.2 L365.1 173.3 L365.6 174 L366.1 173.6 L366.6 173.4 L367.1 174 L367.6 174.3 L368.1 174.5 L368.6 174.9 L369.1 174.6 L369.6 174 L370.1 174.3 L370.6 174.7 L371.1 174.3 L371.6 174.7 L372.1 174.9 L372.6 174 L373.1 174.6 L373.6 174.9 L374.1 174.8 L374.6 174.6 L375.1 174.5 L375.6 175.2 L376.1 174.4 L376.6 173.9 L377.1 174.2 L377.6 174.4 L378.1 174.4 L378.6 174.2 L379.1 174.2 L379.6 174 L380.1 174.3 L380.6 173.5 L381.1 173.7 L381.6 173.1 L382.1 173 L382.6 173.3 L383.1 172.7 L383.6 172.8 L384.1 172 L384.6 171.6 L385.1 171.1 L385.6 169.6 L386.1 167.8 L386.6 166.6 L387.1 164.6 L387.6 162.3 L388.1 159.1 L388.6 156.7 L389.1 156.3 L389.6 158.7 L390.1 162.1 L390.6 164.7 L391.1 167.4 L391.6 169.1 L392.1 169.5 L392.6 171.6 L393.1 171 L393.6 171.9 L394.1 172.7 L394.6 173.2 L395.1 173.7 L395.6 173.7 L396.1 173.3 L396.6 173.2 L397.1 174 L397.6 174.9 L398.1 174 L398.6 174.3 L399.1 174 L399.6 174.7 L400.1 173.7 L400.6 175 L401.1 174.4 L401.6 174.9 L402.1 175.3 L402.6 174.1 L403.1 174.4 L403.6 174.2 L404.1 174.9 L404.6 175 L405.1 174.9 L405.6 175.1 L406.1 174.7 L406.6 174.4 L407.1 174.6 L407.6 174.8 L408.1 174.8 L408.6 174.7 L409.1 175.2 L409.6 174.1 L410.1 174.5 L410.6 174.9 L411.1 174.8 L411.6 175.1 L412.1 174.6 L412.6 174.9 L413.1 174.5 L413.6 174.5 L414.1 175.2 L414.6 175.1 L415.1 174.3 L415.6 174.8 L416.1 174.9 L416.6 175 L417.1 174.9 L417.6 174.8 L418.1 174.1 L418.6 175.1 L419.1 174.7 L419.6 174.9 L420.1 174.8 L420.6 175 L421.1 175.4 L421.6 174.6 L422.1 174.8 L422.6 174.8 L423.1 175.2 L423.6 175.1 L424.1 174.3 L424.6 174.4 L425.1 174.7 L425.6 175 L426.1 174.7 L426.6 174.7 L427.1 174.1 L427.6 174.5 L428.1 174.4 L428.6 174.9 L429.1 174.7 L429.6 174.6 L430.1 174.6 L430.6 174.8 L431.1 174.6 L431.6 174.6 L432.1 174.2 L432.6 174.4 L433.1 174.8 L433.6 174.3 L434.1 174.1 L434.6 174 L435.1 173.2 L435.6 173.1 L436.1 173.5 L436.6 172.4 L437.1 171.6 L437.6 170.9 L438.1 169.6 L438.6 167.9 L439.1 165.7 L439.6 162.2 L440.1 158.9 L440.5 156.9 L440.6 156.7 L441.1 160.4 L441.6 163.9 L442.1 166.1 L442.6 169.2 L443.1 170.3 L443.6 171.9 L444.1 171.8 L444.6 172.7 L445.1 173.1 L445.6 173.9 L446.1 174.3 L446.6 174 L447.1 173.9 L447.6 174.3 L448.1 174.7 L448.6 174.7 L449.1 174.2 L449.6 174.7 L450.1 174.8 L450.6 174.7 L451.1 174.7 L451.6 175.1 L452.1 174.3 L452.6 174.3 L453.1 175 L453.6 174.9 L454.1 174.6 L454.6 174.5 L455.1 174.4 L455.6 175.2 L456.1 175 L456.6 174.7 L457.1 175.4 L457.6 174.9 L458.1 174.6 L458.6 175 L459.1 174.6 L459.6 174.6 L460.1 175.1 L460.6 174.7 L461.1 175 L461.6 174.8 L462.1 174.3 L462.6 174.9 L463.1 175.3 L463.6 174.5 L464.1 174.8 L464.6 174.5 L465.1 175 L465.6 174.8 L466.1 174.9 L466.6 174.4 L467.1 174.4 L467.6 175 L468.1 174.7 L468.6 174.2 L469.1 175.2 L469.6 175 L470.1 174.9 L470.6 174.6 L471.1 174.5 L471.6 173.9 L472.1 174.2 L472.6 174 L473.1 174.5 L473.6 173.5 L474.1 174 L474.6 173.3 L475.1 173.3 L475.6 172 L476.1 171.1 L476.6 170.7 L477.1 169.4 L477.6 168 L478.1 165.8 L478.6 162.6 L479.1 161 L479.6 162.2 L480.1 164.5 L480.6 167.1 L481.1 168.7 L481.6 170.7 L482.1 171.8 L482.6 172.1 L483.1 173 L483.6 173.1 L484.1 173.3 L484.6 173.6 L485.1 173.5 L485.6 173.8 L486.1 174.8 L486.6 174.8 L487.1 174.5 L487.6 174.4 L488.1 174.6 L488.6 174.6 L489.1 174 L489.6 174 L490.1 175.1 L490.6 174.7 L491.1 174.2 L491.6 174.9 L492.1 174.1 L492.6 174.1 L493.1 175.3 L493.6 174.8 L494.1 174.1 L494.6 174.7 L495.1 174.5 L495.6 174.4 L496.1 174.5 L496.6 174.9 L497.1 174.2 L497.6 174.7 L498.1 175 L498.6 174.5 L499.1 174.9 L499.6 174.8 L500.1 175 L500.6 175.1 L501.1 174.4 L501.6 175.1 L502.1 174.8 L502.6 174.4 L503.1 174.3 L503.6 174.5 L504.1 175 L504.6 174.5 L505.1 174.8 L505.6 174.2 L506.1 175.1 L506.6 174.5 L507.1 174.5 L507.6 174.5 L508.1 175 L508.6 174.9 L509.1 174.3 L509.6 174.9 L510.1 174.7 L510.6 174.5 L511.1 174.5 L511.6 174.6 L512.1 174.4 L512.6 174.3 L513.1 174.2 L513.6 174.3 L514.1 174.5 L514.6 173.9 L515.1 173.5 L515.6 173.2 L516.1 173 L516.6 171.7 L517.1 170.4 L517.6 169 L518.1 167.3 L518.6 164.2 L519.1 158.5 L519.6 154.2 L519.7 153.7 L520.1 157.4 L520.6 161 L521.1 165.8 L521.6 168.8 L522.1 169.7 L522.6 172.8 L523.1 172 L523.6 173.3 L524.1 173.4 L524.6 173.9 L525.1 174.7 L525.6 173.9 L526.1 174.2 L526.6 174.3 L527.1 174.3 L527.6 174.2 L528.1 174.2 L528.6 173.6 L529.1 173.5 L529.6 173.2 L530.1 174.6 L530.6 174.4 L531.1 173.9 L531.6 175.1 L532.1 175.1 L532.6 174 L533.1 175 L533.6 174.5 L534.1 174.4 L534.6 174.1 L535.1 175 L535.6 174.2 L536.1 175.1 L536.6 174.6 L537.1 175.2 L537.6 174.3 L538.1 174.6 L538.6 174.6 L539.1 174.8 L539.6 174.4 L540.1 174 L540.6 173.5 L541.1 173 L541.6 172.6 L542.1 172.3 L542.6 172.2 L543.1 172.9 L543.6 172.6 L544.1 173.2 L544.6 173.9 L545.1 174 L545.6 174 L546.1 175 L546.6 174.5 L547.1 174.5 L547.6 174.7 L548.1 175.4 L548.6 175.1 L549.1 174.7 L549.6 174.7 L550.1 175.3 L550.6 174.6 L551.1 174.3 L551.6 174.7 L552.1 175 L552.6 175.2 L553.1 174.8 L553.6 175.4 L554.1 174.6 L554.6 174.7 L555.1 175 L555.6 174.6 L556.1 174.5 L556.6 174.8 L557.1 174.5 L557.6 174.8 L558.1 174.9 L558.6 174.7 L559.1 174.8 L559.6 175.2 L560.1 174.9 L560.6 174.8 L561.1 175.3 L561.6 174.8 L562.1 175.1 L562.6 174.9 L563.1 174.5 L563.6 175.2 L564.1 174.6 L564.6 174.8 L565.1 175.5 L565.6 175.5 L566.1 175.3 L566.6 174.6 L567.1 174.6 L567.6 174.6 L568.1 174.7 L568.6 174.7 L569.1 174.9 L569.6 174.9 L570.1 174.7 L570.6 174.8 L571.1 174.8 L571.6 174.6 L572.1 174.1 L572.6 174.5 L573.1 173.9 L573.6 173.2 L574.1 173.1 L574.6 172 L575.1 171.5 L575.6 170.5 L576.1 170 L576.6 169.1 L577.1 170 L577.6 170.5 L578.1 170.5 L578.6 170.2 L579.1 169.6 L579.6 170.4 L580.1 171.3 L580.6 172 L581.1 172.2 L581.6 173.7 L582.1 174 L582.6 173.7 L583.1 174.6 L583.6 174.1 L584.1 174.4 L584.6 174.6 L585.1 174.8 L585.6 174.4 L586.1 174.7 L586.6 174.8 L587.1 174.6 L587.6 174.6 L588.1 174.3 L588.6 175 L589.1 174.7 L589.6 174.8 L590.1 174.7 L590.6 175.1 L591.1 174.5 L591.6 175 L592.1 173.9 L592.6 175 L593.1 175.3 L593.6 175 L594.1 174.9 L594.6 175 L595.1 174.8 L595.6 174.7 L596.1 174.3 L596.6 174.6 L597.1 174.8 L597.6 175.1 L598.1 174.8 L598.6 175.1 L599.1 174 L599.6 174.2 L600.1 174.4 L600.6 174.1 L601.1 174.4 L601.6 174.9 L602.1 174.3 L602.6 174 L603.1 173.8 L603.6 173.3 L604.1 173 L604.6 172.2 L605.1 171.1 L605.6 170.1 L605.8 169.6 L606.1 169.9 L606.6 171.3 L607.1 172.1 L607.6 173.3 L608.1 172.9 L608.6 173.5 L609.1 173.5 L609.6 174.4 L610.1 174.7 L610.6 174.4 L611.1 174.4 L611.6 174.5 L612.1 174.6 L612.6 174.6 L613.1 175.2 L613.6 175.3 L614.1 175.2 L614.6 174.8 L615.1 174.8 L615.6 175 L616.1 174.9 L616.6 174.8 L617.1 175.1 L617.6 174.3 L618.1 175.2 L618.6 174.7 L619.1 174.8 L619.6 174.4 L620.1 174.5 L620.6 174.7 L621.1 174.7 L621.6 174.1 L622.1 175.3 L622.6 174.9 L623.1 175 L623.6 175.1 L624.1 175.2 L624.6 175.1 L625.1 175.3 L625.6 174.4 L626.1 175 L626.6 175.1 L627.1 175 L627.6 174.7 L628.1 174.4 L628.6 174.8 L629.1 175.2 L629.6 174.9 L630.1 174.1 L630.6 175 L631.1 174.6 L631.6 174.9 L632.1 175.3 L632.6 174.8 L633.1 175.2 L633.6 174.8 L634.1 175.1 L634.6 174.6 L635.1 174.3" fill="none" stroke="#377e7e" stroke-width="2.1" stroke-linejoin="round" stroke-linecap="round"/>
<line x1="388.7" y1="179.6" x2="388.7" y2="193.7" stroke="#000" stroke-width="1.3"/><line x1="440.6" y1="188.2" x2="440.6" y2="193.7" stroke="#000" stroke-width="1.3"/><line x1="478.8" y1="189.8" x2="478.8" y2="193.7" stroke="#000" stroke-width="1.3"/><line x1="519" y1="190.8" x2="519" y2="193.7" stroke="#000" stroke-width="1.3"/><line x1="543" y1="192.2" x2="543" y2="193.7" stroke="#000" stroke-width="1.3"/><line x1="576.4" y1="192.2" x2="576.4" y2="193.7" stroke="#000" stroke-width="1.3"/><line x1="606" y1="192.2" x2="606" y2="193.7" stroke="#000" stroke-width="1.3"/>
<line x1="388.7" y1="198.2" x2="388.7" y2="212.3" stroke="#000" stroke-width="1.3"/><line x1="440.6" y1="203.4" x2="440.6" y2="212.3" stroke="#000" stroke-width="1.3"/><line x1="478.8" y1="204.6" x2="478.8" y2="212.3" stroke="#000" stroke-width="1.3"/><line x1="519" y1="208.4" x2="519" y2="212.3" stroke="#000" stroke-width="1.3"/><line x1="520.6" y1="210.2" x2="520.6" y2="212.3" stroke="#000" stroke-width="1.3"/><line x1="543" y1="210.3" x2="543" y2="212.3" stroke="#000" stroke-width="1.3"/><line x1="575.4" y1="209.8" x2="575.4" y2="212.3" stroke="#000" stroke-width="1.3"/><line x1="577.8" y1="209.8" x2="577.8" y2="212.3" stroke="#000" stroke-width="1.3"/><line x1="606" y1="210.1" x2="606" y2="212.3" stroke="#000" stroke-width="1.3"/><line x1="627" y1="210.5" x2="627" y2="212.3" stroke="#000" stroke-width="1.3"/><line x1="530" y1="210.7" x2="530" y2="212.3" stroke="#000" stroke-width="1.3"/><line x1="590" y1="210.8" x2="590" y2="212.3" stroke="#000" stroke-width="1.3"/>
<rect x="353" y="2.1" width="282.7" height="210.2" fill="none" stroke="#000" stroke-width="1.6"/>
<line x1="353" y1="193.7" x2="635.7" y2="193.7" stroke="#000" stroke-width="1.6"/>
<line x1="371.8" y1="212.3" x2="371.8" y2="214.6" stroke="#000" stroke-width="1.3"/>
<line x1="409.5" y1="212.3" x2="409.5" y2="216.5" stroke="#000" stroke-width="1.3"/>
<line x1="447.2" y1="212.3" x2="447.2" y2="214.6" stroke="#000" stroke-width="1.3"/>
<line x1="484.9" y1="212.3" x2="484.9" y2="216.5" stroke="#000" stroke-width="1.3"/>
<line x1="522.6" y1="212.3" x2="522.6" y2="214.6" stroke="#000" stroke-width="1.3"/>
<line x1="560.3" y1="212.3" x2="560.3" y2="216.5" stroke="#000" stroke-width="1.3"/>
<line x1="598" y1="212.3" x2="598" y2="214.6" stroke="#000" stroke-width="1.3"/>
<line x1="635.7" y1="212.3" x2="635.7" y2="216.5" stroke="#000" stroke-width="1.3"/>
<text transform="translate(409.5,230.4) scale(0.88,1.0)" font-size="13.6" text-anchor="middle">20</text>
<text transform="translate(484.9,230.4) scale(0.88,1.0)" font-size="13.6" text-anchor="middle">40</text>
<text transform="translate(560.3,230.4) scale(0.88,1.0)" font-size="13.6" text-anchor="middle">60</text>
<text transform="translate(635.7,230.4) scale(0.88,1.0)" font-size="13.6" text-anchor="middle">80</text>
<text x="494.4" y="246" font-size="16.4" text-anchor="middle">Two Theta (degree)</text>
<text transform="translate(339.7,97) rotate(-90)" font-size="16.5" text-anchor="middle">Intensity (a.u.)</text>
<text x="359.6" y="23.4" font-size="19.6" text-anchor="start">b</text>
<text x="635.5" y="37.6" font-size="10.3" text-anchor="end">80°C</text>
<text x="635.5" y="54.9" font-size="10.3" text-anchor="end">90°C</text>
<text x="635.5" y="70.7" font-size="10.3" text-anchor="end">100°C</text>
<text x="635.5" y="86.1" font-size="10.3" text-anchor="end">110°C</text>
<text x="635.5" y="102.3" font-size="10.3" text-anchor="end">120°C</text>
<text x="635.5" y="120.3" font-size="10.3" text-anchor="end">130°C</text>
<text x="635.5" y="136.8" font-size="10.3" text-anchor="end">140°C</text>
<text x="635.5" y="154.3" font-size="10.3" text-anchor="end">150°C</text>
<text x="635.5" y="172.1" font-size="10.3" text-anchor="end">160°C</text>
<text x="631" y="190.9" font-size="11.8" text-anchor="end">PB</text>
<text x="634.8" y="206.9" font-size="12.2" text-anchor="end">boehmite</text>
<path d="M26.5 407.1 L27 408.3 L27.5 410 L28 412 L28.5 414.5 L29 417.2 L29.5 419.2 L30 420.7 L30.5 422.2 L31 423.4 L31.5 424.5 L32 425.2 L32.5 425.5 L33 425.4 L33.5 425 L34 424.4 L34.5 423.6 L35 422.8 L35.5 422.1 L36 421.6 L36.5 421.4 L37 421.3 L37.5 421.4 L38 421.6 L38.5 421.8 L39 422.1 L39.5 422.3 L40 422.6 L40.5 423 L41 423.4 L41.5 423.8 L42 424.2 L42.5 424.6 L43 424.9 L43.5 425.1 L44 425.1 L44.5 424.9 L45 424.6 L45.5 424.3 L46 423.8 L46.5 423.4 L47 422.9 L47.5 422.6 L48 422.3 L48.5 422.1 L49 422.1 L49.5 422 L50 422 L50.5 422 L51 422 L51.5 422 L52 421.9 L52.5 421.8 L53 421.6 L53.5 421.2 L54 420.8 L54.5 420.2 L55 419.6 L55.5 418.9 L56 418.2 L56.5 417.6 L57 417 L57.5 416.4 L58 415.9 L58.5 415.3 L59 414.7 L59.5 414.1 L60 413.5 L60.5 412.9 L61 412.4 L61.5 412 L62 411.6 L62.5 411.2 L63 410.9 L63.5 410.7 L64 410.5 L64.5 410.2 L65 410.1 L65.5 409.9 L66 409.7 L66.5 409.6 L67 409.5 L67.5 409.4 L68 409.3 L68.5 409.1 L69 409 L69.5 408.9 L70 408.8 L70.5 408.7 L71 408.5 L71.5 408.4 L72 408.2 L72.5 408.1 L73 407.9 L73.5 407.8 L74 407.8 L74.5 407.7 L75 407.7 L75.5 407.8 L76 407.9 L76.5 408.5 L77 409.6 L77.5 411 L78 413.2 L78.5 415.5 L79 416.1 L79.5 414.6 L80 413 L80.5 412.1 L81 411.3 L81.5 410.8 L82 410.4 L82.5 410 L83 409.6 L83.5 409.3 L84 409 L84.5 408.6 L85 408.3 L85.5 408 L86 407.7 L86.5 407.4 L87 407.1 L87.5 406.8 L88 406.6 L88.5 406.3 L89 406 L89.5 405.8 L90 405.5 L90.5 405.3 L91 405.1 L91.5 404.8 L92 404.6 L92.5 404.3 L93 404.1 L93.5 403.9 L94 403.6 L94.5 403.4 L95 403.2 L95.5 403 L96 402.9 L96.5 402.7 L97 402.6 L97.5 402.5 L98 402.4 L98.5 402.3 L99 402.3 L99.5 402.3 L100 402.4 L100.5 402.4 L101 402.5 L101.5 402.7 L102 402.8 L102.5 403 L103 403.2 L103.5 403.4 L104 403.5 L104.5 403.7 L105 403.9 L105.5 404.1 L106 404.2 L106.5 404.4 L107 404.5 L107.5 404.5 L108 404.6 L108.5 404.7 L109 404.7 L109.5 404.8 L110 404.8 L110.5 404.8 L111 404.8 L111.5 404.9 L112 404.9 L112.5 404.9 L113 404.9 L113.5 404.9 L114 405 L114.5 405 L115 405 L115.5 405.1 L116 405.2 L116.5 405.2 L117 405.3 L117.5 405.4 L118 405.6 L118.5 405.9 L119 406.3 L119.5 406.7 L120 407.2 L120.5 407.8 L121 408.5 L121.5 409.3 L122 410 L122.5 410.6 L123 411 L123.5 411.1 L124 410.7 L124.5 410 L125 409.2 L125.5 408.4 L126 407.8 L126.5 407.3 L127 406.8 L127.5 406.3 L128 405.8 L128.5 405.2 L129 404.7 L129.5 404.3 L130 403.8 L130.5 403.5 L131 403.1 L131.5 402.9 L132 402.7 L132.5 402.6 L133 402.5 L133.5 402.5 L134 402.4 L134.5 402.4 L135 402.4 L135.5 402.4 L136 402.3 L136.5 402.3 L137 402.3 L137.5 402.3 L138 402.3 L138.5 402.3 L139 402.4 L139.5 402.4 L140 402.4 L140.5 402.4 L141 402.5 L141.5 402.5 L142 402.6 L142.5 402.6 L143 402.6 L143.5 402.7 L144 402.7 L144.5 402.8 L145 402.8 L145.5 402.9 L146 403 L146.5 403 L147 403.1 L147.5 403.1 L148 403.2 L148.5 403.2 L149 403.3 L149.5 403.3 L150 403.4 L150.5 403.4 L151 403.5 L151.5 403.5 L152 403.6 L152.5 403.6 L153 403.6 L153.5 403.7 L154 403.7 L154.5 403.7 L155 403.8 L155.5 403.8 L156 403.8 L156.5 403.8 L157 403.8 L157.5 403.8 L158 403.8 L158.5 403.8 L159 403.8 L159.5 403.8 L160 403.7 L160.5 403.7 L161 403.7 L161.5 403.6 L162 403.6 L162.5 403.6 L163 403.5 L163.5 403.5 L164 403.4 L164.5 403.4 L165 403.4 L165.5 403.3 L166 403.3 L166.5 403.2 L167 403.2 L167.5 403.1 L168 403 L168.5 403 L169 402.9 L169.5 402.9 L170 402.8 L170.5 402.8 L171 402.7 L171.5 402.6 L172 402.6 L172.5 402.5 L173 402.5 L173.5 402.4 L174 402.4 L174.5 402.3 L175 402.3 L175.5 402.2 L176 402.2 L176.5 402.1 L177 402.1 L177.5 402 L178 402 L178.5 401.9 L179 401.9 L179.5 401.9 L180 401.8 L180.5 401.8 L181 401.8 L181.5 401.7 L182 401.7 L182.5 401.7 L183 401.7 L183.5 401.7 L184 401.7 L184.5 401.7 L185 401.7 L185.5 401.7 L186 401.7 L186.5 401.7 L187 401.7 L187.5 401.7 L188 401.8 L188.5 401.8 L189 401.9 L189.5 401.9 L190 402 L190.5 402 L191 402.1 L191.5 402.2 L192 402.2 L192.5 402.3 L193 402.4 L193.5 402.5 L194 402.6 L194.5 402.7 L195 402.8 L195.5 402.9 L196 403 L196.5 403.1 L197 403.2 L197.5 403.3 L198 403.4 L198.5 403.6 L199 403.7 L199.5 403.8 L200 403.9 L200.5 404.1 L201 404.2 L201.5 404.3 L202 404.4 L202.5 404.6 L203 404.7 L203.5 404.8 L204 405 L204.5 405.1 L205 405.2 L205.5 405.4 L206 405.5 L206.5 405.7 L207 405.8 L207.5 406 L208 406.1 L208.5 406.3 L209 406.5 L209.5 406.7 L210 406.9 L210.5 407 L211 407.2 L211.5 407.4 L212 407.6 L212.5 407.8 L213 408 L213.5 408.3 L214 408.5 L214.5 408.7 L215 408.9 L215.5 409.1 L216 409.3 L216.5 409.5 L217 409.7 L217.5 409.9 L218 410.1 L218.5 410.2 L219 410.4 L219.5 410.6 L220 410.7 L220.5 410.9 L221 411 L221.5 411.2 L222 411.4 L222.5 411.6 L223 411.8 L223.5 412 L224 412.2 L224.5 412.5 L225 412.7 L225.5 413 L226 413.2 L226.5 413.5 L227 413.8 L227.5 414 L228 414.3 L228.5 414.5 L229 414.8 L229.5 415 L230 415.3 L230.5 415.5 L231 415.7 L231.5 415.9 L232 416.1 L232.5 416.3 L233 416.5 L233.5 416.7 L234 416.9 L234.5 417.1 L235 417.3 L235.5 417.5 L236 417.6 L236.5 417.8 L237 418 L237.5 418.2 L238 418.4 L238.5 418.6 L239 418.8 L239.5 419 L240 419.2 L240.5 419.4 L241 419.6 L241.5 419.9 L242 420.1 L242.5 420.4 L243 420.6 L243.5 420.9 L244 421.1 L244.5 421.4 L245 421.7 L245.5 421.9 L246 422.2 L246.5 422.5 L247 422.7 L247.5 423 L248 423.3 L248.5 423.5 L249 423.8 L249.5 424 L250 424.3 L250.5 424.5 L251 424.7 L251.5 424.9 L252 425.2 L252.5 425.4 L253 425.6 L253.5 425.8 L254 426 L254.5 426.2 L255 426.5 L255.5 426.7 L256 426.9 L256.5 427.1 L257 427.3 L257.5 427.5 L258 427.7 L258.5 427.8 L259 428 L259.5 428.2 L260 428.3 L260.5 428.4 L261 428.6 L261.5 428.7 L262 428.8 L262.5 428.8 L263 428.9 L263.5 428.9 L264 429 L264.5 429 L265 428.9 L265.5 428.9 L266 428.8 L266.5 428.7 L267 428.5 L267.5 428.4 L268 428.2 L268.5 428 L269 427.7 L269.5 427.4 L270 427.1 L270.5 426.8 L271 426.4 L271.5 426 L272 425.6 L272.5 425.2 L273 424.7 L273.5 424.2 L274 423.7 L274.5 423.2 L275 422.7 L275.5 422.1 L276 421.6 L276.5 421 L277 420.4 L277.5 419.9 L278 419.3 L278.5 418.7 L279 418.1 L279.5 417.5 L280 416.8 L280.5 416 L281 415.3 L281.5 414.5 L282 413.7 L282.5 413 L283 412.3 L283.5 411.6 L284 411.1 L284.5 410.5 L285 410.1 L285.5 409.8 L286 409.4 L286.5 409.2 L287 408.9 L287.5 408.7 L288 408.5 L288.5 408.4 L289 408.2 L289.5 408.1 L290 408 L290.5 407.9 L291 407.7 L291.5 407.6 L292 407.5 L292.5 407.4 L293 407.2 L293.5 407 L294 406.9 L294.5 406.7 L295 406.5 L295.5 406.3 L296 406.2 L296.5 406 L297 405.8 L297.5 405.6 L298 405.5 L298.5 405.3 L299 405.1 L299.5 405 L300 404.8 L300.5 404.6 L301 404.5 L301.5 404.3 L302 404.1 L302.5 404 L303 403.8 L303.5 403.6 L304 403.5 L304.5 403.3 L305 403.2 L305.5 403 L306 402.8 L306.5 402.8 L307 402.7" fill="none" stroke="#f07d1e" stroke-width="1.8" stroke-linejoin="round" stroke-linecap="round"/>
<path d="M26.5 372 L27 372.9 L27.5 374.1 L28 375.5 L28.5 376.8 L29 378 L29.5 379 L30 380 L30.5 380.9 L31 381.8 L31.5 382.5 L32 383 L32.5 383.3 L33 383.4 L33.5 383.5 L34 383.6 L34.5 383.6 L35 383.5 L35.5 383.4 L36 383.3 L36.5 383.3 L37 383.2 L37.5 383.2 L38 383.2 L38.5 383.3 L39 383.5 L39.5 383.7 L40 383.9 L40.5 384.2 L41 384.5 L41.5 384.8 L42 385.1 L42.5 385.3 L43 385.6 L43.5 385.7 L44 385.8 L44.5 385.8 L45 385.8 L45.5 385.8 L46 385.7 L46.5 385.5 L47 385.4 L47.5 385.3 L48 385.1 L48.5 384.9 L49 384.8 L49.5 384.6 L50 384.5 L50.5 384.4 L51 384.3 L51.5 384.2 L52 384.1 L52.5 383.9 L53 383.8 L53.5 383.7 L54 383.5 L54.5 383.3 L55 383.1 L55.5 382.8 L56 382.6 L56.5 382.3 L57 382 L57.5 381.7 L58 381.4 L58.5 381.1 L59 380.8 L59.5 380.5 L60 380.2 L60.5 380 L61 379.8 L61.5 379.7 L62 379.6 L62.5 379.5 L63 379.4 L63.5 379.4 L64 379.3 L64.5 379.3 L65 379.2 L65.5 379.2 L66 379.1 L66.5 379.1 L67 379.1 L67.5 379.1 L68 379.1 L68.5 379.1 L69 379.1 L69.5 379.1 L70 379.1 L70.5 379.1 L71 379.2 L71.5 379.2 L72 379.2 L72.5 379.3 L73 379.3 L73.5 379.4 L74 379.4 L74.5 379.5 L75 379.5 L75.5 379.6 L76 379.9 L76.5 380.5 L77 381.1 L77.5 381.8 L78 382.6 L78.5 383.1 L79 382.9 L79.5 382.4 L80 381.8 L80.5 381.3 L81 381 L81.5 380.7 L82 380.5 L82.5 380.3 L83 380.2 L83.5 380.1 L84 380 L84.5 379.8 L85 379.7 L85.5 379.6 L86 379.5 L86.5 379.4 L87 379.2 L87.5 379.1 L88 379 L88.5 378.9 L89 378.8 L89.5 378.7 L90 378.6 L90.5 378.5 L91 378.4 L91.5 378.3 L92 378.2 L92.5 378.1 L93 378.1 L93.5 378 L94 377.9 L94.5 377.9 L95 377.8 L95.5 377.8 L96 377.8 L96.5 377.7 L97 377.7 L97.5 377.7 L98 377.8 L98.5 377.8 L99 377.8 L99.5 377.8 L100 377.9 L100.5 377.9 L101 378 L101.5 378 L102 378.1 L102.5 378.1 L103 378.2 L103.5 378.2 L104 378.2 L104.5 378.3 L105 378.3 L105.5 378.3 L106 378.3 L106.5 378.3 L107 378.3 L107.5 378.3 L108 378.3 L108.5 378.3 L109 378.3 L109.5 378.3 L110 378.3 L110.5 378.2 L111 378.2 L111.5 378.2 L112 378.2 L112.5 378.2 L113 378.2 L113.5 378.2 L114 378.2 L114.5 378.2 L115 378.2 L115.5 378.3 L116 378.3 L116.5 378.3 L117 378.4 L117.5 378.4 L118 378.5 L118.5 378.7 L119 379.1 L119.5 379.5 L120 380 L120.5 380.5 L121 381 L121.5 381.5 L122 382 L122.5 382.5 L123 382.7 L123.5 382.6 L124 382.3 L124.5 381.8 L125 381.3 L125.5 381 L126 380.8 L126.5 380.6 L127 380.4 L127.5 380.2 L128 380 L128.5 379.8 L129 379.7 L129.5 379.5 L130 379.4 L130.5 379.3 L131 379.3 L131.5 379.2 L132 379.2 L132.5 379.2 L133 379.2 L133.5 379.2 L134 379.2 L134.5 379.2 L135 379.2 L135.5 379.2 L136 379.2 L136.5 379.2 L137 379.2 L137.5 379.2 L138 379.2 L138.5 379.2 L139 379.2 L139.5 379.2 L140 379.2 L140.5 379.2 L141 379.2 L141.5 379.2 L142 379.2 L142.5 379.2 L143 379.3 L143.5 379.3 L144 379.3 L144.5 379.3 L145 379.3 L145.5 379.3 L146 379.3 L146.5 379.3 L147 379.4 L147.5 379.4 L148 379.4 L148.5 379.4 L149 379.4 L149.5 379.4 L150 379.5 L150.5 379.5 L151 379.5 L151.5 379.5 L152 379.5 L152.5 379.5 L153 379.6 L153.5 379.6 L154 379.6 L154.5 379.6 L155 379.6 L155.5 379.7 L156 379.7 L156.5 379.7 L157 379.7 L157.5 379.7 L158 379.8 L158.5 379.8 L159 379.8 L159.5 379.8 L160 379.8 L160.5 379.9 L161 379.9 L161.5 379.9 L162 379.9 L162.5 379.9 L163 380 L163.5 380 L164 380 L164.5 380 L165 380.1 L165.5 380.1 L166 380.1 L166.5 380.1 L167 380.1 L167.5 380.2 L168 380.2 L168.5 380.2 L169 380.2 L169.5 380.2 L170 380.3 L170.5 380.3 L171 380.3 L171.5 380.3 L172 380.3 L172.5 380.4 L173 380.4 L173.5 380.4 L174 380.4 L174.5 380.4 L175 380.4 L175.5 380.5 L176 380.5 L176.5 380.5 L177 380.5 L177.5 380.5 L178 380.6 L178.5 380.6 L179 380.6 L179.5 380.6 L180 380.6 L180.5 380.6 L181 380.7 L181.5 380.7 L182 380.7 L182.5 380.7 L183 380.7 L183.5 380.8 L184 380.8 L184.5 380.8 L185 380.8 L185.5 380.8 L186 380.9 L186.5 380.9 L187 380.9 L187.5 380.9 L188 381 L188.5 381 L189 381 L189.5 381 L190 381.1 L190.5 381.1 L191 381.1 L191.5 381.1 L192 381.2 L192.5 381.2 L193 381.2 L193.5 381.2 L194 381.3 L194.5 381.3 L195 381.3 L195.5 381.4 L196 381.4 L196.5 381.4 L197 381.5 L197.5 381.5 L198 381.5 L198.5 381.6 L199 381.6 L199.5 381.6 L200 381.6 L200.5 381.7 L201 381.7 L201.5 381.7 L202 381.8 L202.5 381.8 L203 381.8 L203.5 381.9 L204 381.9 L204.5 381.9 L205 382 L205.5 382 L206 382.1 L206.5 382.1 L207 382.1 L207.5 382.2 L208 382.2 L208.5 382.2 L209 382.3 L209.5 382.3 L210 382.4 L210.5 382.4 L211 382.4 L211.5 382.5 L212 382.5 L212.5 382.6 L213 382.6 L213.5 382.7 L214 382.7 L214.5 382.8 L215 382.8 L215.5 382.9 L216 382.9 L216.5 383 L217 383 L217.5 383.1 L218 383.2 L218.5 383.2 L219 383.3 L219.5 383.3 L220 383.4 L220.5 383.5 L221 383.6 L221.5 383.7 L222 383.9 L222.5 384 L223 384.2 L223.5 384.4 L224 384.6 L224.5 384.8 L225 384.9 L225.5 385.1 L226 385.2 L226.5 385.3 L227 385.4 L227.5 385.5 L228 385.6 L228.5 385.8 L229 385.9 L229.5 386 L230 386.1 L230.5 386.2 L231 386.3 L231.5 386.4 L232 386.5 L232.5 386.6 L233 386.7 L233.5 386.7 L234 386.8 L234.5 386.9 L235 387 L235.5 387.1 L236 387.2 L236.5 387.3 L237 387.4 L237.5 387.5 L238 387.6 L238.5 387.8 L239 387.9 L239.5 388 L240 388.1 L240.5 388.2 L241 388.3 L241.5 388.4 L242 388.6 L242.5 388.7 L243 388.8 L243.5 389 L244 389.1 L244.5 389.2 L245 389.4 L245.5 389.5 L246 389.7 L246.5 389.8 L247 390 L247.5 390.1 L248 390.3 L248.5 390.4 L249 390.5 L249.5 390.7 L250 390.8 L250.5 391 L251 391.1 L251.5 391.3 L252 391.4 L252.5 391.5 L253 391.7 L253.5 391.8 L254 391.9 L254.5 392.1 L255 392.2 L255.5 392.4 L256 392.5 L256.5 392.7 L257 392.9 L257.5 393 L258 393.2 L258.5 393.3 L259 393.5 L259.5 393.6 L260 393.8 L260.5 393.9 L261 394 L261.5 394.1 L262 394.2 L262.5 394.2 L263 394.3 L263.5 394.3 L264 394.3 L264.5 394.3 L265 394.2 L265.5 394.1 L266 394 L266.5 393.9 L267 393.8 L267.5 393.6 L268 393.4 L268.5 393.3 L269 393 L269.5 392.8 L270 392.6 L270.5 392.3 L271 392.1 L271.5 391.8 L272 391.6 L272.5 391.3 L273 391 L273.5 390.7 L274 390.4 L274.5 390 L275 389.7 L275.5 389.4 L276 389 L276.5 388.6 L277 388.3 L277.5 387.9 L278 387.5 L278.5 387.1 L279 386.7 L279.5 386.4 L280 386 L280.5 385.6 L281 385.3 L281.5 384.9 L282 384.6 L282.5 384.3 L283 384 L283.5 383.7 L284 383.4 L284.5 383.1 L285 382.8 L285.5 382.5 L286 382.2 L286.5 381.9 L287 381.6 L287.5 381.4 L288 381.1 L288.5 380.9 L289 380.7 L289.5 380.5 L290 380.3 L290.5 380.1 L291 380 L291.5 379.8 L292 379.7 L292.5 379.6 L293 379.5 L293.5 379.4 L294 379.3 L294.5 379.2 L295 379.1 L295.5 379 L296 378.9 L296.5 378.9 L297 378.8 L297.5 378.7 L298 378.7 L298.5 378.6 L299 378.6 L299.5 378.5 L300 378.5 L300.5 378.4 L301 378.4 L301.5 378.3 L302 378.2 L302.5 378.2 L303 378.1 L303.5 378.1 L304 378 L304.5 378 L305 377.9 L305.5 377.8 L306 377.8 L306.5 377.7 L307 377.6" fill="none" stroke="#f8b297" stroke-width="1.5" stroke-linejoin="round" stroke-linecap="round"/>
<path d="M26.5 320.6 L27 321.6 L27.5 323.1 L28 324.7 L28.5 326.4 L29 328 L29.5 329.4 L30 330.8 L30.5 332.1 L31 333.5 L31.5 334.9 L32 336.3 L32.5 337.7 L33 339.3 L33.5 340.9 L34 342.5 L34.5 344 L35 345.4 L35.5 346.9 L36 348.2 L36.5 349 L37 349 L37.5 348.1 L38 346.7 L38.5 345.2 L39 344 L39.5 343.2 L40 342.6 L40.5 342.1 L41 341.6 L41.5 341 L42 340.5 L42.5 339.9 L43 339.3 L43.5 338.7 L44 338.1 L44.5 337.5 L45 337 L45.5 336.4 L46 335.7 L46.5 335 L47 334.4 L47.5 333.9 L48 333.5 L48.5 333.4 L49 333.6 L49.5 334 L50 334.7 L50.5 335.5 L51 336.4 L51.5 337.2 L52 338 L52.5 338.8 L53 339.7 L53.5 340.7 L54 341.6 L54.5 342.4 L55 342.9 L55.5 343 L56 342.5 L56.5 341.3 L57 339.8 L57.5 338.3 L58 337 L58.5 336 L59 335.2 L59.5 334.3 L60 333.5 L60.5 332.7 L61 332 L61.5 331.2 L62 330.4 L62.5 329.6 L63 328.8 L63.5 328 L64 327.3 L64.5 326.6 L65 326 L65.5 325.4 L66 324.8 L66.5 324.3 L67 323.9 L67.5 323.7 L68 323.7 L68.5 324.3 L69 326.3 L69.5 328.5 L70 330.7 L70.5 332.7 L71 333.1 L71.5 332.2 L72 331.3 L72.5 331.3 L73 331.9 L73.5 332.6 L74 332.8 L74.5 332.5 L75 331.9 L75.5 331.2 L76 330.3 L76.5 329.2 L77 328 L77.5 326.9 L78 326 L78.5 325.2 L79 324.5 L79.5 323.9 L80 323.2 L80.5 322.7 L81 322.1 L81.5 321.7 L82 321.2 L82.5 320.9 L83 320.5 L83.5 320.2 L84 319.9 L84.5 319.6 L85 319.4 L85.5 319.1 L86 318.9 L86.5 318.7 L87 318.5 L87.5 318.3 L88 318.1 L88.5 318 L89 317.8 L89.5 317.7 L90 317.5 L90.5 317.4 L91 317.3 L91.5 317.2 L92 317.1 L92.5 317.1 L93 317 L93.5 316.9 L94 316.9 L94.5 316.8 L95 316.8 L95.5 316.7 L96 316.7 L96.5 316.7 L97 316.6 L97.5 316.6 L98 316.6 L98.5 316.6 L99 316.5 L99.5 316.5 L100 316.5 L100.5 316.5 L101 316.4 L101.5 316.4 L102 316.4 L102.5 316.4 L103 316.4 L103.5 316.4 L104 316.4 L104.5 316.3 L105 316.3 L105.5 316.3 L106 316.3 L106.5 316.3 L107 316.3 L107.5 316.2 L108 316.2 L108.5 316.2 L109 316.2 L109.5 316.2 L110 316.2 L110.5 316.2 L111 316.2 L111.5 316.2 L112 316.1 L112.5 316.1 L113 316.1 L113.5 316.1 L114 316.1 L114.5 316.1 L115 316.2 L115.5 316.2 L116 316.2 L116.5 316.2 L117 316.2 L117.5 316.2 L118 316.3 L118.5 316.3 L119 316.4 L119.5 316.6 L120 316.8 L120.5 317.1 L121 317.6 L121.5 318.2 L122 318.6 L122.5 319 L123 319.2 L123.5 319.1 L124 318.7 L124.5 318.1 L125 317.5 L125.5 317 L126 316.6 L126.5 316.4 L127 316.2 L127.5 316 L128 315.8 L128.5 315.7 L129 315.6 L129.5 315.4 L130 315.4 L130.5 315.3 L131 315.2 L131.5 315.2 L132 315.2 L132.5 315.2 L133 315.2 L133.5 315.2 L134 315.2 L134.5 315.2 L135 315.1 L135.5 315.1 L136 315.1 L136.5 315.1 L137 315.1 L137.5 315.1 L138 315.1 L138.5 315.1 L139 315.1 L139.5 315.1 L140 315.1 L140.5 315.1 L141 315.1 L141.5 315.1 L142 315 L142.5 315 L143 315 L143.5 315 L144 315 L144.5 315 L145 315 L145.5 315 L146 315 L146.5 315 L147 315 L147.5 315 L148 315 L148.5 315 L149 315 L149.5 315 L150 315 L150.5 315 L151 315 L151.5 315 L152 315 L152.5 315 L153 315 L153.5 314.9 L154 314.9 L154.5 314.9 L155 314.9 L155.5 314.9 L156 314.9 L156.5 314.9 L157 314.9 L157.5 314.9 L158 314.9 L158.5 314.9 L159 314.9 L159.5 314.9 L160 314.9 L160.5 314.9 L161 314.9 L161.5 314.9 L162 314.9 L162.5 314.9 L163 314.9 L163.5 314.9 L164 314.9 L164.5 314.9 L165 314.9 L165.5 314.9 L166 314.9 L166.5 314.9 L167 314.9 L167.5 314.9 L168 314.9 L168.5 314.9 L169 314.9 L169.5 314.9 L170 314.9 L170.5 314.9 L171 314.9 L171.5 314.9 L172 314.9 L172.5 314.9 L173 314.9 L173.5 314.9 L174 314.9 L174.5 315 L175 315 L175.5 315 L176 315 L176.5 315 L177 315 L177.5 315 L178 315 L178.5 315 L179 315 L179.5 315 L180 315 L180.5 315 L181 315 L181.5 315 L182 315 L182.5 315 L183 315 L183.5 315 L184 315 L184.5 315 L185 315 L185.5 315.1 L186 315.1 L186.5 315.1 L187 315.1 L187.5 315.1 L188 315.1 L188.5 315.1 L189 315.1 L189.5 315.1 L190 315.1 L190.5 315.1 L191 315.1 L191.5 315.1 L192 315.1 L192.5 315.2 L193 315.2 L193.5 315.2 L194 315.2 L194.5 315.2 L195 315.2 L195.5 315.2 L196 315.2 L196.5 315.2 L197 315.2 L197.5 315.2 L198 315.3 L198.5 315.3 L199 315.3 L199.5 315.3 L200 315.3 L200.5 315.3 L201 315.3 L201.5 315.3 L202 315.4 L202.5 315.4 L203 315.4 L203.5 315.4 L204 315.5 L204.5 315.5 L205 315.5 L205.5 315.6 L206 315.6 L206.5 315.6 L207 315.7 L207.5 315.7 L208 315.8 L208.5 315.8 L209 315.9 L209.5 315.9 L210 316 L210.5 316 L211 316.1 L211.5 316.2 L212 316.2 L212.5 316.3 L213 316.4 L213.5 316.4 L214 316.5 L214.5 316.6 L215 316.7 L215.5 316.7 L216 316.8 L216.5 316.9 L217 317 L217.5 317.1 L218 317.2 L218.5 317.4 L219 317.6 L219.5 317.8 L220 318 L220.5 318.2 L221 318.5 L221.5 318.7 L222 318.9 L222.5 319.1 L223 319.3 L223.5 319.5 L224 319.7 L224.5 319.8 L225 319.9 L225.5 320.1 L226 320.2 L226.5 320.3 L227 320.4 L227.5 320.5 L228 320.6 L228.5 320.7 L229 320.8 L229.5 320.9 L230 321 L230.5 321.1 L231 321.2 L231.5 321.3 L232 321.4 L232.5 321.5 L233 321.6 L233.5 321.7 L234 321.8 L234.5 321.9 L235 322 L235.5 322.1 L236 322.2 L236.5 322.3 L237 322.4 L237.5 322.5 L238 322.6 L238.5 322.8 L239 322.9 L239.5 323.1 L240 323.2 L240.5 323.4 L241 323.6 L241.5 323.7 L242 323.9 L242.5 324.1 L243 324.3 L243.5 324.5 L244 324.7 L244.5 324.9 L245 325.1 L245.5 325.4 L246 325.6 L246.5 325.8 L247 326 L247.5 326.3 L248 326.5 L248.5 326.8 L249 327 L249.5 327.3 L250 327.6 L250.5 327.8 L251 328.1 L251.5 328.3 L252 328.6 L252.5 328.9 L253 329.2 L253.5 329.5 L254 329.9 L254.5 330.2 L255 330.7 L255.5 331.1 L256 331.6 L256.5 332.1 L257 332.8 L257.5 333.7 L258 334.8 L258.5 335.9 L259 337 L259.5 338.2 L260 339.5 L260.5 340.9 L261 342.5 L261.5 344 L262 345.3 L262.5 346.4 L263 347.1 L263.5 347.2 L264 346.8 L264.5 346.3 L265 345.6 L265.5 344.6 L266 343.6 L266.5 342.6 L267 341.4 L267.5 340.2 L268 339.4 L268.5 339.1 L269 339.4 L269.5 340.1 L270 341 L270.5 342.5 L271 344.4 L271.5 346.2 L272 347.4 L272.5 347.5 L273 346.6 L273.5 345 L274 343 L274.5 340.5 L275 337.5 L275.5 334.4 L276 331.9 L276.5 330.2 L277 329 L277.5 328.3 L278 327.7 L278.5 327.2 L279 326.6 L279.5 326.2 L280 326.5 L280.5 328.4 L281 330.9 L281.5 331.3 L282 329.2 L282.5 327 L283 325.7 L283.5 324.4 L284 323.1 L284.5 322 L285 321 L285.5 320.2 L286 319.7 L286.5 319.3 L287 318.9 L287.5 318.6 L288 318.3 L288.5 318.1 L289 317.9 L289.5 317.7 L290 317.5 L290.5 317.4 L291 317.3 L291.5 317.2 L292 317.1 L292.5 317 L293 316.9 L293.5 316.7 L294 316.6 L294.5 316.5 L295 316.4 L295.5 316.3 L296 316.2 L296.5 316.2 L297 316.1 L297.5 316 L298 316 L298.5 315.9 L299 315.8 L299.5 315.8 L300 315.7 L300.5 315.7 L301 315.6 L301.5 315.6 L302 315.6 L302.5 315.5 L303 315.5 L303.5 315.4 L304 315.4 L304.5 315.3 L305 315.3 L305.5 315.2 L306 315.2 L306.5 315.1 L307 315" fill="none" stroke="#1a7dc9" stroke-width="1.8" stroke-linejoin="round" stroke-linecap="round"/>
<path d="M26.5 294.7 L27 295.4 L27.5 296.4 L28 297.5 L28.5 298.8 L29 300 L29.5 301.2 L30 302.4 L30.5 303.6 L31 304.8 L31.5 306.1 L32 307.5 L32.5 309 L33 310.7 L33.5 312.6 L34 314.6 L34.5 316.5 L35 318.6 L35.5 321 L36 323.2 L36.5 324.7 L37 325.2 L37.5 324.5 L38 323.1 L38.5 321.4 L39 320 L39.5 318.9 L40 317.8 L40.5 316.7 L41 315.7 L41.5 314.9 L42 314.2 L42.5 313.8 L43 313.5 L43.5 313.4 L44 313.2 L44.5 313 L45 312.5 L45.5 311.7 L46 310.8 L46.5 309.8 L47 308.9 L47.5 308 L48 307.4 L48.5 307.1 L49 307.2 L49.5 307.6 L50 308.3 L50.5 309.2 L51 310.2 L51.5 311.1 L52 312 L52.5 312.9 L53 314 L53.5 315.2 L54 316.3 L54.5 317.2 L55 317.9 L55.5 318.2 L56 317.9 L56.5 316.9 L57 315.5 L57.5 314.1 L58 313 L58.5 312.1 L59 311.3 L59.5 310.5 L60 309.8 L60.5 309 L61 308.1 L61.5 307.1 L62 306.1 L62.5 304.9 L63 303.8 L63.5 302.7 L64 301.7 L64.5 300.7 L65 299.9 L65.5 299.2 L66 298.6 L66.5 298 L67 297.6 L67.5 297.4 L68 297.4 L68.5 298 L69 299.8 L69.5 302 L70 304.9 L70.5 307.7 L71 308.5 L71.5 307.7 L72 306.7 L72.5 306.7 L73 307.4 L73.5 308.1 L74 308.3 L74.5 308 L75 307.4 L75.5 306.7 L76 305.8 L76.5 305 L77 304 L77.5 303 L78 302 L78.5 301 L79 299.9 L79.5 298.8 L80 297.7 L80.5 296.6 L81 295.6 L81.5 294.8 L82 294 L82.5 293.5 L83 293 L83.5 292.7 L84 292.5 L84.5 292.2 L85 292 L85.5 291.8 L86 291.5 L86.5 291.3 L87 291.1 L87.5 291 L88 290.8 L88.5 290.7 L89 290.5 L89.5 290.4 L90 290.4 L90.5 290.3 L91 290.2 L91.5 290.1 L92 290.1 L92.5 290 L93 290 L93.5 289.9 L94 289.9 L94.5 289.8 L95 289.8 L95.5 289.7 L96 289.7 L96.5 289.7 L97 289.6 L97.5 289.6 L98 289.6 L98.5 289.6 L99 289.5 L99.5 289.5 L100 289.5 L100.5 289.5 L101 289.5 L101.5 289.5 L102 289.5 L102.5 289.6 L103 289.6 L103.5 289.7 L104 289.7 L104.5 289.7 L105 289.8 L105.5 289.8 L106 289.8 L106.5 289.8 L107 289.8 L107.5 289.8 L108 289.8 L108.5 289.8 L109 289.9 L109.5 289.9 L110 289.9 L110.5 289.9 L111 289.9 L111.5 289.9 L112 289.9 L112.5 289.9 L113 289.9 L113.5 289.9 L114 289.9 L114.5 289.9 L115 289.9 L115.5 289.9 L116 290 L116.5 290 L117 290 L117.5 290 L118 290.1 L118.5 290.2 L119 290.3 L119.5 290.4 L120 290.6 L120.5 290.9 L121 291.3 L121.5 291.7 L122 292.2 L122.5 292.5 L123 292.6 L123.5 292.5 L124 292.1 L124.5 291.6 L125 291.1 L125.5 290.6 L126 290.3 L126.5 290.1 L127 289.9 L127.5 289.7 L128 289.5 L128.5 289.4 L129 289.2 L129.5 289.1 L130 289 L130.5 288.9 L131 288.9 L131.5 288.8 L132 288.8 L132.5 288.8 L133 288.8 L133.5 288.7 L134 288.7 L134.5 288.7 L135 288.7 L135.5 288.7 L136 288.7 L136.5 288.7 L137 288.6 L137.5 288.6 L138 288.6 L138.5 288.6 L139 288.6 L139.5 288.6 L140 288.6 L140.5 288.6 L141 288.6 L141.5 288.6 L142 288.6 L142.5 288.6 L143 288.6 L143.5 288.6 L144 288.6 L144.5 288.6 L145 288.6 L145.5 288.6 L146 288.6 L146.5 288.6 L147 288.6 L147.5 288.6 L148 288.6 L148.5 288.6 L149 288.7 L149.5 288.7 L150 288.7 L150.5 288.7 L151 288.7 L151.5 288.7 L152 288.7 L152.5 288.7 L153 288.7 L153.5 288.7 L154 288.7 L154.5 288.7 L155 288.7 L155.5 288.8 L156 288.8 L156.5 288.8 L157 288.8 L157.5 288.8 L158 288.8 L158.5 288.8 L159 288.8 L159.5 288.8 L160 288.8 L160.5 288.8 L161 288.8 L161.5 288.8 L162 288.8 L162.5 288.8 L163 288.8 L163.5 288.8 L164 288.8 L164.5 288.8 L165 288.8 L165.5 288.8 L166 288.8 L166.5 288.8 L167 288.8 L167.5 288.9 L168 288.9 L168.5 288.9 L169 288.9 L169.5 288.9 L170 288.9 L170.5 288.9 L171 288.9 L171.5 288.9 L172 288.9 L172.5 288.9 L173 288.9 L173.5 288.9 L174 288.9 L174.5 288.9 L175 288.9 L175.5 288.9 L176 288.9 L176.5 288.9 L177 288.9 L177.5 288.9 L178 288.9 L178.5 288.9 L179 288.9 L179.5 288.9 L180 289 L180.5 289 L181 289 L181.5 289 L182 289 L182.5 289 L183 289 L183.5 289 L184 289 L184.5 289 L185 289 L185.5 289 L186 289 L186.5 289 L187 289 L187.5 289 L188 289.1 L188.5 289.1 L189 289.1 L189.5 289.1 L190 289.1 L190.5 289.1 L191 289.1 L191.5 289.1 L192 289.1 L192.5 289.1 L193 289.1 L193.5 289.2 L194 289.2 L194.5 289.2 L195 289.2 L195.5 289.2 L196 289.2 L196.5 289.2 L197 289.2 L197.5 289.2 L198 289.2 L198.5 289.3 L199 289.3 L199.5 289.3 L200 289.3 L200.5 289.3 L201 289.3 L201.5 289.3 L202 289.4 L202.5 289.4 L203 289.4 L203.5 289.4 L204 289.4 L204.5 289.4 L205 289.5 L205.5 289.5 L206 289.5 L206.5 289.5 L207 289.5 L207.5 289.6 L208 289.6 L208.5 289.6 L209 289.6 L209.5 289.7 L210 289.7 L210.5 289.7 L211 289.8 L211.5 289.8 L212 289.8 L212.5 289.9 L213 289.9 L213.5 290 L214 290 L214.5 290 L215 290.1 L215.5 290.1 L216 290.2 L216.5 290.2 L217 290.3 L217.5 290.4 L218 290.5 L218.5 290.6 L219 290.7 L219.5 290.8 L220 290.9 L220.5 291.1 L221 291.2 L221.5 291.4 L222 291.5 L222.5 291.7 L223 291.8 L223.5 291.9 L224 292 L224.5 292.1 L225 292.2 L225.5 292.3 L226 292.4 L226.5 292.5 L227 292.6 L227.5 292.7 L228 292.7 L228.5 292.8 L229 292.9 L229.5 293 L230 293.1 L230.5 293.2 L231 293.3 L231.5 293.4 L232 293.5 L232.5 293.6 L233 293.7 L233.5 293.9 L234 294 L234.5 294.2 L235 294.3 L235.5 294.5 L236 294.7 L236.5 294.8 L237 295 L237.5 295.2 L238 295.4 L238.5 295.6 L239 295.8 L239.5 296 L240 296.2 L240.5 296.4 L241 296.6 L241.5 296.9 L242 297.1 L242.5 297.4 L243 297.6 L243.5 297.9 L244 298.1 L244.5 298.4 L245 298.7 L245.5 299 L246 299.3 L246.5 299.6 L247 299.9 L247.5 300.2 L248 300.6 L248.5 300.9 L249 301.3 L249.5 301.6 L250 302 L250.5 302.4 L251 302.8 L251.5 303.2 L252 303.6 L252.5 304 L253 304.5 L253.5 304.9 L254 305.4 L254.5 305.8 L255 306.3 L255.5 306.8 L256 307.4 L256.5 307.9 L257 308.6 L257.5 309.2 L258 310 L258.5 310.8 L259 311.7 L259.5 312.8 L260 314.2 L260.5 315.7 L261 317.3 L261.5 318.8 L262 320.1 L262.5 321.4 L263 322.7 L263.5 323.7 L264 324.3 L264.5 324.2 L265 323.6 L265.5 322.6 L266 321.1 L266.5 319.1 L267 317.2 L267.5 315.6 L268 314.2 L268.5 313.1 L269 312.5 L269.5 312.6 L270 313.3 L270.5 314.5 L271 316.8 L271.5 319.6 L272 321.9 L272.5 323.9 L273 323.3 L273.5 319.7 L274 315 L274.5 310.3 L275 307.2 L275.5 305.2 L276 303.6 L276.5 302.2 L277 301.1 L277.5 300 L278 299 L278.5 297.8 L279 296.6 L279.5 296.2 L280 298.4 L280.5 303.1 L281 305.1 L281.5 302.2 L282 298.4 L282.5 296.7 L283 295.3 L283.5 294.1 L284 293 L284.5 292.2 L285 291.6 L285.5 291.2 L286 290.8 L286.5 290.5 L287 290.3 L287.5 290.1 L288 289.9 L288.5 289.8 L289 289.7 L289.5 289.6 L290 289.5 L290.5 289.5 L291 289.4 L291.5 289.4 L292 289.3 L292.5 289.2 L293 289.2 L293.5 289.1 L294 289.1 L294.5 289 L295 289 L295.5 288.9 L296 288.9 L296.5 288.9 L297 288.9 L297.5 288.8 L298 288.8 L298.5 288.8 L299 288.8 L299.5 288.7 L300 288.7 L300.5 288.7 L301 288.7 L301.5 288.7 L302 288.7 L302.5 288.7 L303 288.7 L303.5 288.7 L304 288.7 L304.5 288.6 L305 288.6 L305.5 288.6 L306 288.6 L306.5 288.6 L307 288.6" fill="none" stroke="#25a6ee" stroke-width="1.8" stroke-linejoin="round" stroke-linecap="round"/>
<rect x="26.5" y="252.4" width="281.1" height="210.1" fill="none" stroke="#000" stroke-width="1.6"/>
<line x1="307.6" y1="288.6" x2="307.6" y2="315.2" stroke="#2196d6" stroke-width="1.7"/>
<line x1="307.6" y1="315.2" x2="307.6" y2="380" stroke="#1d6fae" stroke-width="1.7"/>
<line x1="307.6" y1="380" x2="307.6" y2="442" stroke="#a08a7c" stroke-width="1.7"/>
<line x1="307.6" y1="442" x2="307.6" y2="454" stroke="#c87424" stroke-width="1.7"/>
<line x1="34.3" y1="462.5" x2="34.3" y2="464.8" stroke="#000" stroke-width="1.3"/>
<line x1="73.3" y1="462.5" x2="73.3" y2="466.7" stroke="#000" stroke-width="1.3"/>
<line x1="112.4" y1="462.5" x2="112.4" y2="464.8" stroke="#000" stroke-width="1.3"/>
<line x1="151.4" y1="462.5" x2="151.4" y2="466.7" stroke="#000" stroke-width="1.3"/>
<line x1="190.5" y1="462.5" x2="190.5" y2="464.8" stroke="#000" stroke-width="1.3"/>
<line x1="229.5" y1="462.5" x2="229.5" y2="466.7" stroke="#000" stroke-width="1.3"/>
<line x1="268.6" y1="462.5" x2="268.6" y2="464.8" stroke="#000" stroke-width="1.3"/>
<line x1="307.6" y1="462.5" x2="307.6" y2="466.7" stroke="#000" stroke-width="1.3"/>
<text transform="translate(73.3,479.7) scale(0.86,1.0)" font-size="13.6" text-anchor="middle">1000</text>
<text transform="translate(151.4,479.7) scale(0.86,1.0)" font-size="13.6" text-anchor="middle">2000</text>
<text transform="translate(229.5,479.7) scale(0.86,1.0)" font-size="13.6" text-anchor="middle">3000</text>
<text transform="translate(307.6,479.7) scale(0.86,1.0)" font-size="13.6" text-anchor="middle">4000</text>
<text x="160.3" y="498.1" font-size="15.6" text-anchor="middle" letter-spacing="0.45">Wavenumber (cm<tspan font-size="10" dy="-6">-1</tspan><tspan dy="6">)</tspan></text>
<text transform="translate(12,350.9) rotate(-90)" font-size="16.6" text-anchor="middle">Transmittance (a.u.)</text>
<text x="32.6" y="269.8" font-size="20.0" text-anchor="start">c</text>
<text x="168.8" y="284.7" font-size="12.3" text-anchor="middle">40°C</text>
<text x="168.8" y="312.5" font-size="12.3" text-anchor="middle">50°C</text>
<text x="168.8" y="377.3" font-size="12.3" text-anchor="middle">60°C</text>
<text x="168.8" y="400.2" font-size="12.3" text-anchor="middle">70°C</text>
<text transform="translate(41.7,370) scale(1.07,1) rotate(-90)" font-size="12.3" text-anchor="start" style="stroke-width:0.25px">534</text>
<text transform="translate(60.5,362.9) scale(1.07,1) rotate(-90)" font-size="12.3" text-anchor="start" style="stroke-width:0.25px">775</text>
<text transform="translate(78.2,354.8) scale(1.07,1) rotate(-90)" font-size="12.3" text-anchor="start" style="stroke-width:0.25px">979</text>
<text transform="translate(125.2,347.4) scale(1.07,1) rotate(-90)" font-size="12.3" text-anchor="start" style="stroke-width:0.25px">1635</text>
<text transform="translate(266.4,375.4) scale(1.07,1) rotate(-90)" font-size="12.3" text-anchor="start" style="stroke-width:0.25px">3470</text>
<text transform="translate(277.4,374.9) scale(1.07,1) rotate(-90)" font-size="12.3" text-anchor="start" style="stroke-width:0.25px">3550</text>
<text transform="translate(286.2,358.2) scale(1.07,1) rotate(-90)" font-size="12.3" text-anchor="start" style="stroke-width:0.25px">3656</text>
<text transform="translate(35.3,447.9) scale(1.07,1) rotate(-90)" font-size="12.3" text-anchor="start" style="stroke-width:0.25px">485</text>
<text transform="translate(47.4,447.7) scale(1.07,1) rotate(-90)" font-size="12.3" text-anchor="start" style="stroke-width:0.25px">616</text>
<text transform="translate(82.2,445) scale(1.07,1) rotate(-90)" font-size="12.3" text-anchor="start" style="stroke-width:0.25px">1074</text>
<text transform="translate(125.4,441.6) scale(1.07,1) rotate(-90)" font-size="12.3" text-anchor="start" style="stroke-width:0.25px">1635</text>
<text transform="translate(269.8,458.4) scale(1.07,1) rotate(-90)" font-size="12.3" text-anchor="start" style="stroke-width:0.25px">3425</text>
<path d="M351.2 413.1 L351.7 413.9 L352.2 415.1 L352.7 416.5 L353.2 417.9 L353.7 419.3 L354.2 420.5 L354.7 421.7 L355.2 423 L355.7 424.3 L356.2 425.4 L356.7 426.4 L357.2 427.2 L357.7 427.5 L358.2 427.6 L358.7 427.3 L359.2 426.9 L359.7 426.3 L360.2 425.7 L360.7 425.1 L361.2 424.7 L361.7 424.5 L362.2 424.6 L362.7 424.9 L363.2 425.3 L363.7 425.8 L364.2 426.4 L364.7 427.1 L365.2 427.7 L365.7 428.4 L366.2 429 L366.7 429.5 L367.2 430 L367.7 430.3 L368.2 430.4 L368.7 430.3 L369.2 429.9 L369.7 429.4 L370.2 428.7 L370.7 428 L371.2 427.4 L371.7 426.8 L372.2 426 L372.7 425.2 L373.2 424.3 L373.7 423.6 L374.2 423.1 L374.7 423 L375.2 423.3 L375.7 423.8 L376.2 424.6 L376.7 425.4 L377.2 426.1 L377.7 426.5 L378.2 426.7 L378.7 426.4 L379.2 426 L379.7 425.6 L380.2 425.1 L380.7 424.5 L381.2 423.9 L381.7 423.2 L382.2 422.6 L382.7 421.9 L383.2 421.1 L383.7 420.4 L384.2 419.7 L384.7 419 L385.2 418.3 L385.7 417.6 L386.2 417 L386.7 416.5 L387.2 415.9 L387.7 415.5 L388.2 415.1 L388.7 414.7 L389.2 414.3 L389.7 414 L390.2 413.6 L390.7 413.3 L391.2 413 L391.7 412.7 L392.2 412.4 L392.7 412.1 L393.2 411.8 L393.7 411.6 L394.2 411.3 L394.7 411.1 L395.2 410.9 L395.7 410.7 L396.2 410.5 L396.7 410.4 L397.2 410.2 L397.7 410.1 L398.2 409.9 L398.7 409.8 L399.2 409.7 L399.7 409.6 L400.2 409.6 L400.7 409.9 L401.2 410.5 L401.7 411.5 L402.2 413.5 L402.7 417.5 L403.2 422.2 L403.7 425.8 L404.2 426.1 L404.7 422.6 L405.2 419 L405.7 417 L406.2 415.6 L406.7 414.7 L407.2 414 L407.7 413.3 L408.2 412.6 L408.7 412.1 L409.2 411.6 L409.7 411.2 L410.2 410.9 L410.7 410.6 L411.2 410.4 L411.7 410.1 L412.2 409.9 L412.7 409.7 L413.2 409.5 L413.7 409.3 L414.2 409.1 L414.7 408.9 L415.2 408.7 L415.7 408.5 L416.2 408.3 L416.7 408.1 L417.2 407.9 L417.7 407.7 L418.2 407.5 L418.7 407.3 L419.2 407.2 L419.7 407 L420.2 406.8 L420.7 406.6 L421.2 406.5 L421.7 406.3 L422.2 406.2 L422.7 406 L423.2 405.8 L423.7 405.7 L424.2 405.5 L424.7 405.4 L425.2 405.3 L425.7 405.1 L426.2 405 L426.7 404.8 L427.2 404.7 L427.7 404.6 L428.2 404.4 L428.7 404.3 L429.2 404.2 L429.7 404.1 L430.2 404 L430.7 403.9 L431.2 403.8 L431.7 403.7 L432.2 403.6 L432.7 403.6 L433.2 403.6 L433.7 403.5 L434.2 403.5 L434.7 403.5 L435.2 403.5 L435.7 403.5 L436.2 403.5 L436.7 403.6 L437.2 403.6 L437.7 403.6 L438.2 403.6 L438.7 403.6 L439.2 403.7 L439.7 403.7 L440.2 403.7 L440.7 403.7 L441.2 403.8 L441.7 403.8 L442.2 403.9 L442.7 404 L443.2 404.2 L443.7 404.4 L444.2 404.6 L444.7 405 L445.2 405.5 L445.7 406.1 L446.2 406.7 L446.7 407.2 L447.2 407.9 L447.7 408.6 L448.2 409.2 L448.7 409.5 L449.2 409.3 L449.7 408.8 L450.2 407.9 L450.7 407 L451.2 406.3 L451.7 405.9 L452.2 405.6 L452.7 405.3 L453.2 405.1 L453.7 404.9 L454.2 404.8 L454.7 404.7 L455.2 404.6 L455.7 404.5 L456.2 404.5 L456.7 404.4 L457.2 404.4 L457.7 404.3 L458.2 404.3 L458.7 404.3 L459.2 404.2 L459.7 404.2 L460.2 404.1 L460.7 404.1 L461.2 404.1 L461.7 404 L462.2 404 L462.7 404 L463.2 403.9 L463.7 403.9 L464.2 403.9 L464.7 403.9 L465.2 403.8 L465.7 403.8 L466.2 403.8 L466.7 403.8 L467.2 403.7 L467.7 403.7 L468.2 403.7 L468.7 403.7 L469.2 403.6 L469.7 403.6 L470.2 403.6 L470.7 403.6 L471.2 403.6 L471.7 403.5 L472.2 403.5 L472.7 403.5 L473.2 403.5 L473.7 403.5 L474.2 403.5 L474.7 403.4 L475.2 403.4 L475.7 403.4 L476.2 403.4 L476.7 403.4 L477.2 403.4 L477.7 403.4 L478.2 403.3 L478.7 403.3 L479.2 403.3 L479.7 403.3 L480.2 403.3 L480.7 403.3 L481.2 403.3 L481.7 403.2 L482.2 403.2 L482.7 403.2 L483.2 403.2 L483.7 403.2 L484.2 403.2 L484.7 403.2 L485.2 403.1 L485.7 403.1 L486.2 403.1 L486.7 403.1 L487.2 403.1 L487.7 403.1 L488.2 403 L488.7 403 L489.2 403 L489.7 403 L490.2 403 L490.7 403 L491.2 402.9 L491.7 402.9 L492.2 402.9 L492.7 402.9 L493.2 402.9 L493.7 402.9 L494.2 402.9 L494.7 402.8 L495.2 402.8 L495.7 402.8 L496.2 402.8 L496.7 402.8 L497.2 402.8 L497.7 402.8 L498.2 402.7 L498.7 402.7 L499.2 402.7 L499.7 402.7 L500.2 402.7 L500.7 402.7 L501.2 402.7 L501.7 402.7 L502.2 402.7 L502.7 402.6 L503.2 402.6 L503.7 402.6 L504.2 402.6 L504.7 402.6 L505.2 402.6 L505.7 402.6 L506.2 402.6 L506.7 402.6 L507.2 402.6 L507.7 402.6 L508.2 402.6 L508.7 402.6 L509.2 402.6 L509.7 402.6 L510.2 402.6 L510.7 402.6 L511.2 402.6 L511.7 402.6 L512.2 402.6 L512.7 402.6 L513.2 402.6 L513.7 402.6 L514.2 402.6 L514.7 402.6 L515.2 402.6 L515.7 402.6 L516.2 402.6 L516.7 402.6 L517.2 402.6 L517.7 402.6 L518.2 402.7 L518.7 402.7 L519.2 402.7 L519.7 402.7 L520.2 402.7 L520.7 402.7 L521.2 402.8 L521.7 402.8 L522.2 402.8 L522.7 402.8 L523.2 402.9 L523.7 402.9 L524.2 402.9 L524.7 402.9 L525.2 403 L525.7 403 L526.2 403.1 L526.7 403.1 L527.2 403.1 L527.7 403.2 L528.2 403.2 L528.7 403.3 L529.2 403.4 L529.7 403.4 L530.2 403.5 L530.7 403.5 L531.2 403.6 L531.7 403.7 L532.2 403.8 L532.7 403.8 L533.2 403.9 L533.7 404 L534.2 404.1 L534.7 404.2 L535.2 404.3 L535.7 404.4 L536.2 404.5 L536.7 404.6 L537.2 404.7 L537.7 404.9 L538.2 405 L538.7 405.1 L539.2 405.3 L539.7 405.4 L540.2 405.6 L540.7 405.8 L541.2 406 L541.7 406.2 L542.2 406.4 L542.7 406.6 L543.2 406.9 L543.7 407.1 L544.2 407.4 L544.7 407.7 L545.2 407.9 L545.7 408.2 L546.2 408.5 L546.7 408.8 L547.2 409.1 L547.7 409.4 L548.2 409.7 L548.7 410.1 L549.2 410.4 L549.7 410.7 L550.2 411 L550.7 411.4 L551.2 411.7 L551.7 412.1 L552.2 412.5 L552.7 412.9 L553.2 413.3 L553.7 413.7 L554.2 414.2 L554.7 414.6 L555.2 415.1 L555.7 415.6 L556.2 416.1 L556.7 416.6 L557.2 417.2 L557.7 417.9 L558.2 418.8 L558.7 419.7 L559.2 420.8 L559.7 421.7 L560.2 422.6 L560.7 423.2 L561.2 423.6 L561.7 423.5 L562.2 422.8 L562.7 421.9 L563.2 420.9 L563.7 420.1 L564.2 419.7 L564.7 419.3 L565.2 419.1 L565.7 418.8 L566.2 418.6 L566.7 418.4 L567.2 418.3 L567.7 418.2 L568.2 418.1 L568.7 418.1 L569.2 418.1 L569.7 418.2 L570.2 418.4 L570.7 418.6 L571.2 418.9 L571.7 419.3 L572.2 419.7 L572.7 420.2 L573.2 420.7 L573.7 421.3 L574.2 422 L574.7 422.8 L575.2 423.6 L575.7 424.4 L576.2 425.1 L576.7 425.6 L577.2 426.1 L577.7 426.3 L578.2 426.4 L578.7 426.4 L579.2 426.3 L579.7 426.1 L580.2 425.9 L580.7 425.6 L581.2 425.3 L581.7 425 L582.2 424.7 L582.7 424.4 L583.2 424.2 L583.7 424 L584.2 423.8 L584.7 423.6 L585.2 423.5 L585.7 423.3 L586.2 423.1 L586.7 422.9 L587.2 422.7 L587.7 422.6 L588.2 422.4 L588.7 422.2 L589.2 422 L589.7 421.8 L590.2 421.6 L590.7 421.5 L591.2 421.3 L591.7 421.1 L592.2 420.8 L592.7 420.6 L593.2 420.4 L593.7 420.2 L594.2 419.9 L594.7 419.7 L595.2 419.5 L595.7 419.2 L596.2 419 L596.7 418.7 L597.2 418.4 L597.7 418.1 L598.2 417.8 L598.7 417.5 L599.2 417.2 L599.7 416.8 L600.2 416.5 L600.7 416.1 L601.2 415.7 L601.7 415.3 L602.2 414.8 L602.7 414.3 L603.2 413.7 L603.7 413 L604.2 412.4 L604.7 411.7 L605.2 411 L605.7 410.4 L606.2 409.8 L606.7 409.3 L607.2 408.9 L607.7 408.5 L608.2 408.2 L608.7 407.8 L609.2 407.5 L609.7 407.2 L610.2 406.9 L610.7 406.6 L611.2 406.3 L611.7 406.1 L612.2 405.8 L612.7 405.6 L613.2 405.4 L613.7 405.2 L614.2 405 L614.7 404.8 L615.2 404.6 L615.7 404.5 L616.2 404.3 L616.7 404.2 L617.2 404 L617.7 403.9 L618.2 403.8 L618.7 403.7 L619.2 403.5 L619.7 403.4 L620.2 403.3 L620.7 403.2 L621.2 403.1 L621.7 403 L622.2 402.9 L622.7 402.9 L623.2 402.8 L623.7 402.7 L624.2 402.6 L624.7 402.6 L625.2 402.5 L625.7 402.4 L626.2 402.4 L626.7 402.3 L627.2 402.3 L627.7 402.2 L628.2 402.2 L628.7 402.1 L629.2 402.1 L629.7 402 L630.2 402 L630.7 402 L631.2 401.9" fill="none" stroke="#367f7f" stroke-width="1.75" stroke-linejoin="round" stroke-linecap="round"/>
<path d="M351.2 392.3 L351.7 393 L352.2 394 L352.7 395.1 L353.2 396.3 L353.7 397.4 L354.2 398.4 L354.7 399.3 L355.2 400.4 L355.7 401.4 L356.2 402.3 L356.7 403 L357.2 403.6 L357.7 403.8 L358.2 403.8 L358.7 403.5 L359.2 403.1 L359.7 402.6 L360.2 402 L360.7 401.5 L361.2 401.1 L361.7 401 L362.2 401.1 L362.7 401.4 L363.2 401.8 L363.7 402.3 L364.2 402.9 L364.7 403.5 L365.2 404.1 L365.7 404.8 L366.2 405.4 L366.7 405.9 L367.2 406.4 L367.7 406.7 L368.2 406.8 L368.7 406.8 L369.2 406.5 L369.7 406 L370.2 405.5 L370.7 404.9 L371.2 404.3 L371.7 403.8 L372.2 403.1 L372.7 402.3 L373.2 401.5 L373.7 400.9 L374.2 400.4 L374.7 400.3 L375.2 400.6 L375.7 401.1 L376.2 401.8 L376.7 402.6 L377.2 403.3 L377.7 403.8 L378.2 403.9 L378.7 403.8 L379.2 403.5 L379.7 403.1 L380.2 402.7 L380.7 402.2 L381.2 401.7 L381.7 401.1 L382.2 400.6 L382.7 400 L383.2 399.3 L383.7 398.7 L384.2 398.1 L384.7 397.5 L385.2 397 L385.7 396.4 L386.2 395.9 L386.7 395.4 L387.2 395 L387.7 394.7 L388.2 394.4 L388.7 394.1 L389.2 393.8 L389.7 393.5 L390.2 393.2 L390.7 393 L391.2 392.7 L391.7 392.5 L392.2 392.3 L392.7 392.1 L393.2 391.9 L393.7 391.7 L394.2 391.5 L394.7 391.3 L395.2 391.1 L395.7 391 L396.2 390.8 L396.7 390.7 L397.2 390.6 L397.7 390.5 L398.2 390.3 L398.7 390.2 L399.2 390.2 L399.7 390.1 L400.2 390 L400.7 389.9 L401.2 389.9 L401.7 390.4 L402.2 391.5 L402.7 393.5 L403.2 397.9 L403.7 402.2 L404.2 402.6 L404.7 399.9 L405.2 397 L405.7 395 L406.2 393.5 L406.7 392.9 L407.2 392.6 L407.7 392.3 L408.2 392.1 L408.7 391.9 L409.2 391.7 L409.7 391.6 L410.2 391.5 L410.7 391.4 L411.2 391.3 L411.7 391.2 L412.2 391.1 L412.7 391.1 L413.2 391 L413.7 390.9 L414.2 390.8 L414.7 390.7 L415.2 390.6 L415.7 390.5 L416.2 390.4 L416.7 390.3 L417.2 390.2 L417.7 390.1 L418.2 390 L418.7 389.9 L419.2 389.8 L419.7 389.7 L420.2 389.6 L420.7 389.5 L421.2 389.4 L421.7 389.3 L422.2 389.2 L422.7 389.1 L423.2 389 L423.7 388.9 L424.2 388.8 L424.7 388.7 L425.2 388.6 L425.7 388.6 L426.2 388.5 L426.7 388.4 L427.2 388.3 L427.7 388.3 L428.2 388.2 L428.7 388.1 L429.2 388.1 L429.7 388 L430.2 388 L430.7 387.9 L431.2 387.9 L431.7 387.8 L432.2 387.8 L432.7 387.8 L433.2 387.7 L433.7 387.7 L434.2 387.7 L434.7 387.7 L435.2 387.6 L435.7 387.6 L436.2 387.6 L436.7 387.6 L437.2 387.6 L437.7 387.6 L438.2 387.6 L438.7 387.6 L439.2 387.6 L439.7 387.6 L440.2 387.6 L440.7 387.6 L441.2 387.6 L441.7 387.7 L442.2 387.7 L442.7 387.7 L443.2 387.7 L443.7 387.8 L444.2 387.8 L444.7 388 L445.2 388.4 L445.7 388.7 L446.2 389.1 L446.7 389.4 L447.2 389.8 L447.7 390.2 L448.2 390.6 L448.7 390.7 L449.2 390.6 L449.7 390.2 L450.2 389.7 L450.7 389.2 L451.2 388.7 L451.7 388.4 L452.2 388.1 L452.7 387.8 L453.2 387.5 L453.7 387.3 L454.2 387.1 L454.7 387 L455.2 387 L455.7 387 L456.2 386.9 L456.7 386.9 L457.2 386.9 L457.7 386.9 L458.2 386.8 L458.7 386.8 L459.2 386.8 L459.7 386.8 L460.2 386.8 L460.7 386.8 L461.2 386.7 L461.7 386.7 L462.2 386.7 L462.7 386.7 L463.2 386.7 L463.7 386.7 L464.2 386.7 L464.7 386.7 L465.2 386.7 L465.7 386.7 L466.2 386.7 L466.7 386.7 L467.2 386.7 L467.7 386.7 L468.2 386.7 L468.7 386.7 L469.2 386.7 L469.7 386.7 L470.2 386.7 L470.7 386.7 L471.2 386.7 L471.7 386.7 L472.2 386.7 L472.7 386.7 L473.2 386.7 L473.7 386.7 L474.2 386.7 L474.7 386.7 L475.2 386.7 L475.7 386.7 L476.2 386.7 L476.7 386.7 L477.2 386.7 L477.7 386.7 L478.2 386.6 L478.7 386.6 L479.2 386.6 L479.7 386.6 L480.2 386.6 L480.7 386.6 L481.2 386.6 L481.7 386.5 L482.2 386.5 L482.7 386.5 L483.2 386.5 L483.7 386.5 L484.2 386.4 L484.7 386.4 L485.2 386.4 L485.7 386.3 L486.2 386.3 L486.7 386.3 L487.2 386.3 L487.7 386.2 L488.2 386.2 L488.7 386.2 L489.2 386.1 L489.7 386.1 L490.2 386.1 L490.7 386 L491.2 386 L491.7 386 L492.2 385.9 L492.7 385.9 L493.2 385.9 L493.7 385.8 L494.2 385.8 L494.7 385.8 L495.2 385.7 L495.7 385.7 L496.2 385.7 L496.7 385.6 L497.2 385.6 L497.7 385.6 L498.2 385.5 L498.7 385.5 L499.2 385.5 L499.7 385.4 L500.2 385.4 L500.7 385.4 L501.2 385.3 L501.7 385.3 L502.2 385.3 L502.7 385.2 L503.2 385.2 L503.7 385.2 L504.2 385.2 L504.7 385.1 L505.2 385.1 L505.7 385.1 L506.2 385.1 L506.7 385 L507.2 385 L507.7 385 L508.2 385 L508.7 385 L509.2 385 L509.7 384.9 L510.2 384.9 L510.7 384.9 L511.2 384.9 L511.7 384.9 L512.2 384.9 L512.7 384.9 L513.2 384.9 L513.7 384.9 L514.2 384.9 L514.7 384.9 L515.2 384.9 L515.7 384.9 L516.2 384.9 L516.7 384.9 L517.2 384.9 L517.7 384.9 L518.2 384.9 L518.7 385 L519.2 385 L519.7 385 L520.2 385 L520.7 385.1 L521.2 385.1 L521.7 385.1 L522.2 385.2 L522.7 385.3 L523.2 385.3 L523.7 385.4 L524.2 385.5 L524.7 385.6 L525.2 385.7 L525.7 385.8 L526.2 385.9 L526.7 386 L527.2 386.1 L527.7 386.2 L528.2 386.4 L528.7 386.5 L529.2 386.6 L529.7 386.8 L530.2 386.9 L530.7 387 L531.2 387.2 L531.7 387.3 L532.2 387.5 L532.7 387.6 L533.2 387.8 L533.7 387.9 L534.2 388 L534.7 388.2 L535.2 388.3 L535.7 388.5 L536.2 388.6 L536.7 388.8 L537.2 388.9 L537.7 389.1 L538.2 389.2 L538.7 389.3 L539.2 389.5 L539.7 389.6 L540.2 389.7 L540.7 389.9 L541.2 390 L541.7 390.2 L542.2 390.3 L542.7 390.5 L543.2 390.6 L543.7 390.8 L544.2 390.9 L544.7 391.1 L545.2 391.2 L545.7 391.4 L546.2 391.6 L546.7 391.8 L547.2 392 L547.7 392.2 L548.2 392.4 L548.7 392.6 L549.2 392.8 L549.7 393 L550.2 393.2 L550.7 393.5 L551.2 393.7 L551.7 394 L552.2 394.3 L552.7 394.6 L553.2 394.9 L553.7 395.2 L554.2 395.5 L554.7 395.9 L555.2 396.2 L555.7 396.5 L556.2 396.9 L556.7 397.2 L557.2 397.6 L557.7 398 L558.2 398.6 L558.7 399.2 L559.2 399.8 L559.7 400.3 L560.2 400.8 L560.7 401.1 L561.2 401.3 L561.7 401.1 L562.2 400.6 L562.7 399.8 L563.2 399 L563.7 398.4 L564.2 398.1 L564.7 397.9 L565.2 397.6 L565.7 397.5 L566.2 397.3 L566.7 397.2 L567.2 397.1 L567.7 397.1 L568.2 397 L568.7 397 L569.2 397.1 L569.7 397.2 L570.2 397.4 L570.7 397.7 L571.2 398 L571.7 398.4 L572.2 398.8 L572.7 399.2 L573.2 399.7 L573.7 400.2 L574.2 400.8 L574.7 401.5 L575.2 402.2 L575.7 402.8 L576.2 403.4 L576.7 403.9 L577.2 404.2 L577.7 404.4 L578.2 404.5 L578.7 404.5 L579.2 404.4 L579.7 404.2 L580.2 404 L580.7 403.7 L581.2 403.4 L581.7 403.1 L582.2 402.8 L582.7 402.5 L583.2 402.3 L583.7 402.1 L584.2 401.8 L584.7 401.6 L585.2 401.4 L585.7 401.1 L586.2 400.9 L586.7 400.6 L587.2 400.4 L587.7 400.1 L588.2 399.9 L588.7 399.6 L589.2 399.4 L589.7 399.1 L590.2 398.9 L590.7 398.6 L591.2 398.4 L591.7 398.1 L592.2 397.8 L592.7 397.6 L593.2 397.3 L593.7 397 L594.2 396.8 L594.7 396.5 L595.2 396.2 L595.7 395.9 L596.2 395.6 L596.7 395.3 L597.2 395 L597.7 394.7 L598.2 394.4 L598.7 394.1 L599.2 393.7 L599.7 393.4 L600.2 393.1 L600.7 392.8 L601.2 392.5 L601.7 392.2 L602.2 391.9 L602.7 391.6 L603.2 391.3 L603.7 391.1 L604.2 390.8 L604.7 390.6 L605.2 390.3 L605.7 390.1 L606.2 389.9 L606.7 389.7 L607.2 389.5 L607.7 389.3 L608.2 389.2 L608.7 389 L609.2 388.8 L609.7 388.7 L610.2 388.5 L610.7 388.4 L611.2 388.3 L611.7 388.1 L612.2 388 L612.7 387.9 L613.2 387.8 L613.7 387.7 L614.2 387.6 L614.7 387.5 L615.2 387.4 L615.7 387.3 L616.2 387.2 L616.7 387.1 L617.2 387 L617.7 386.9 L618.2 386.8 L618.7 386.8 L619.2 386.7 L619.7 386.6 L620.2 386.5 L620.7 386.5 L621.2 386.4 L621.7 386.4 L622.2 386.3 L622.7 386.2 L623.2 386.2 L623.7 386.1 L624.2 386.1 L624.7 386.1 L625.2 386 L625.7 386 L626.2 385.9 L626.7 385.9 L627.2 385.9 L627.7 385.8 L628.2 385.8 L628.7 385.8 L629.2 385.7 L629.7 385.7 L630.2 385.7 L630.7 385.6 L631.2 385.6" fill="none" stroke="#419999" stroke-width="1.75" stroke-linejoin="round" stroke-linecap="round"/>
<path d="M351.2 372.8 L351.7 373.3 L352.2 374 L352.7 374.9 L353.2 375.8 L353.7 376.6 L354.2 377.3 L354.7 378 L355.2 378.7 L355.7 379.4 L356.2 380.1 L356.7 380.6 L357.2 381 L357.7 381.1 L358.2 381.1 L358.7 380.8 L359.2 380.5 L359.7 380.1 L360.2 379.7 L360.7 379.2 L361.2 378.9 L361.7 378.6 L362.2 378.5 L362.7 378.6 L363.2 378.8 L363.7 379.1 L364.2 379.6 L364.7 380.1 L365.2 380.6 L365.7 381.2 L366.2 381.7 L366.7 382.2 L367.2 382.7 L367.7 383 L368.2 383.2 L368.7 383.2 L369.2 383 L369.7 382.7 L370.2 382.4 L370.7 382 L371.2 381.7 L371.7 381.4 L372.2 381 L372.7 380.5 L373.2 380 L373.7 379.6 L374.2 379.2 L374.7 379.1 L375.2 379.1 L375.7 379.3 L376.2 379.6 L376.7 379.9 L377.2 380.1 L377.7 380.3 L378.2 380.3 L378.7 380.2 L379.2 380.1 L379.7 379.9 L380.2 379.6 L380.7 379.4 L381.2 379.2 L381.7 378.9 L382.2 378.6 L382.7 378.3 L383.2 378 L383.7 377.7 L384.2 377.4 L384.7 377.2 L385.2 376.9 L385.7 376.6 L386.2 376.4 L386.7 376.1 L387.2 375.9 L387.7 375.7 L388.2 375.6 L388.7 375.4 L389.2 375.2 L389.7 375.1 L390.2 374.9 L390.7 374.8 L391.2 374.7 L391.7 374.5 L392.2 374.4 L392.7 374.2 L393.2 374.1 L393.7 374 L394.2 373.9 L394.7 373.8 L395.2 373.7 L395.7 373.6 L396.2 373.5 L396.7 373.4 L397.2 373.3 L397.7 373.2 L398.2 373.1 L398.7 373.1 L399.2 373 L399.7 372.9 L400.2 372.9 L400.7 372.8 L401.2 372.8 L401.7 373.2 L402.2 373.9 L402.7 375.1 L403.2 377.2 L403.7 379 L404.2 379.2 L404.7 377.9 L405.2 376.5 L405.7 375.5 L406.2 374.7 L406.7 374.4 L407.2 374.2 L407.7 374.1 L408.2 373.9 L408.7 373.8 L409.2 373.7 L409.7 373.5 L410.2 373.4 L410.7 373.3 L411.2 373.3 L411.7 373.2 L412.2 373.1 L412.7 373 L413.2 373 L413.7 372.9 L414.2 372.8 L414.7 372.7 L415.2 372.7 L415.7 372.6 L416.2 372.5 L416.7 372.4 L417.2 372.4 L417.7 372.3 L418.2 372.2 L418.7 372.2 L419.2 372.1 L419.7 372 L420.2 372 L420.7 371.9 L421.2 371.8 L421.7 371.8 L422.2 371.7 L422.7 371.7 L423.2 371.6 L423.7 371.5 L424.2 371.5 L424.7 371.4 L425.2 371.4 L425.7 371.3 L426.2 371.3 L426.7 371.2 L427.2 371.2 L427.7 371.2 L428.2 371.1 L428.7 371.1 L429.2 371.1 L429.7 371 L430.2 371 L430.7 371 L431.2 370.9 L431.7 370.9 L432.2 370.9 L432.7 370.9 L433.2 370.8 L433.7 370.8 L434.2 370.8 L434.7 370.8 L435.2 370.8 L435.7 370.8 L436.2 370.7 L436.7 370.7 L437.2 370.7 L437.7 370.7 L438.2 370.7 L438.7 370.7 L439.2 370.7 L439.7 370.8 L440.2 370.8 L440.7 370.8 L441.2 370.8 L441.7 370.8 L442.2 370.9 L442.7 370.9 L443.2 370.9 L443.7 371 L444.2 371 L444.7 371.2 L445.2 371.6 L445.7 371.9 L446.2 372.3 L446.7 372.6 L447.2 373 L447.7 373.3 L448.2 373.6 L448.7 373.7 L449.2 373.6 L449.7 373.3 L450.2 372.9 L450.7 372.4 L451.2 372 L451.7 371.7 L452.2 371.4 L452.7 371.2 L453.2 371 L453.7 370.8 L454.2 370.6 L454.7 370.5 L455.2 370.5 L455.7 370.5 L456.2 370.4 L456.7 370.4 L457.2 370.4 L457.7 370.3 L458.2 370.3 L458.7 370.3 L459.2 370.2 L459.7 370.2 L460.2 370.2 L460.7 370.2 L461.2 370.2 L461.7 370.1 L462.2 370.1 L462.7 370.1 L463.2 370.1 L463.7 370.1 L464.2 370.1 L464.7 370 L465.2 370 L465.7 370 L466.2 370 L466.7 370 L467.2 370 L467.7 370 L468.2 369.9 L468.7 369.9 L469.2 369.9 L469.7 369.9 L470.2 369.9 L470.7 369.9 L471.2 369.9 L471.7 369.9 L472.2 369.9 L472.7 369.9 L473.2 369.9 L473.7 369.9 L474.2 369.9 L474.7 369.9 L475.2 369.8 L475.7 369.8 L476.2 369.8 L476.7 369.8 L477.2 369.8 L477.7 369.8 L478.2 369.8 L478.7 369.8 L479.2 369.8 L479.7 369.8 L480.2 369.8 L480.7 369.8 L481.2 369.8 L481.7 369.8 L482.2 369.8 L482.7 369.8 L483.2 369.8 L483.7 369.8 L484.2 369.8 L484.7 369.7 L485.2 369.7 L485.7 369.7 L486.2 369.7 L486.7 369.7 L487.2 369.7 L487.7 369.7 L488.2 369.7 L488.7 369.7 L489.2 369.7 L489.7 369.7 L490.2 369.7 L490.7 369.7 L491.2 369.7 L491.7 369.7 L492.2 369.7 L492.7 369.6 L493.2 369.6 L493.7 369.6 L494.2 369.6 L494.7 369.6 L495.2 369.6 L495.7 369.6 L496.2 369.6 L496.7 369.6 L497.2 369.6 L497.7 369.6 L498.2 369.6 L498.7 369.6 L499.2 369.6 L499.7 369.6 L500.2 369.6 L500.7 369.6 L501.2 369.6 L501.7 369.6 L502.2 369.6 L502.7 369.6 L503.2 369.6 L503.7 369.6 L504.2 369.6 L504.7 369.6 L505.2 369.6 L505.7 369.6 L506.2 369.6 L506.7 369.6 L507.2 369.6 L507.7 369.6 L508.2 369.6 L508.7 369.6 L509.2 369.6 L509.7 369.6 L510.2 369.6 L510.7 369.6 L511.2 369.6 L511.7 369.6 L512.2 369.6 L512.7 369.6 L513.2 369.6 L513.7 369.7 L514.2 369.7 L514.7 369.7 L515.2 369.7 L515.7 369.7 L516.2 369.7 L516.7 369.7 L517.2 369.7 L517.7 369.7 L518.2 369.8 L518.7 369.8 L519.2 369.8 L519.7 369.8 L520.2 369.8 L520.7 369.8 L521.2 369.9 L521.7 369.9 L522.2 369.9 L522.7 369.9 L523.2 369.9 L523.7 370 L524.2 370 L524.7 370 L525.2 370 L525.7 370.1 L526.2 370.1 L526.7 370.1 L527.2 370.1 L527.7 370.2 L528.2 370.2 L528.7 370.2 L529.2 370.3 L529.7 370.3 L530.2 370.3 L530.7 370.4 L531.2 370.4 L531.7 370.5 L532.2 370.5 L532.7 370.5 L533.2 370.6 L533.7 370.6 L534.2 370.7 L534.7 370.7 L535.2 370.8 L535.7 370.8 L536.2 370.9 L536.7 370.9 L537.2 371 L537.7 371 L538.2 371.1 L538.7 371.1 L539.2 371.2 L539.7 371.3 L540.2 371.3 L540.7 371.4 L541.2 371.5 L541.7 371.5 L542.2 371.6 L542.7 371.7 L543.2 371.7 L543.7 371.8 L544.2 371.9 L544.7 372 L545.2 372 L545.7 372.1 L546.2 372.2 L546.7 372.4 L547.2 372.5 L547.7 372.6 L548.2 372.7 L548.7 372.8 L549.2 373 L549.7 373.1 L550.2 373.3 L550.7 373.4 L551.2 373.6 L551.7 373.7 L552.2 373.9 L552.7 374.1 L553.2 374.3 L553.7 374.5 L554.2 374.7 L554.7 374.9 L555.2 375.1 L555.7 375.4 L556.2 375.7 L556.7 376.1 L557.2 376.5 L557.7 376.9 L558.2 377.3 L558.7 377.7 L559.2 378.1 L559.7 378.5 L560.2 378.8 L560.7 379 L561.2 379.2 L561.7 379.2 L562.2 379.1 L562.7 379 L563.2 378.8 L563.7 378.5 L564.2 378.1 L564.7 377.8 L565.2 377.5 L565.7 377.2 L566.2 376.9 L566.7 376.7 L567.2 376.6 L567.7 376.6 L568.2 376.7 L568.7 376.8 L569.2 377 L569.7 377.2 L570.2 377.5 L570.7 377.7 L571.2 378 L571.7 378.3 L572.2 378.7 L572.7 379 L573.2 379.3 L573.7 379.6 L574.2 379.9 L574.7 380.2 L575.2 380.5 L575.7 380.7 L576.2 381 L576.7 381.1 L577.2 381.3 L577.7 381.4 L578.2 381.5 L578.7 381.5 L579.2 381.5 L579.7 381.6 L580.2 381.6 L580.7 381.6 L581.2 381.5 L581.7 381.5 L582.2 381.4 L582.7 381.4 L583.2 381.3 L583.7 381.2 L584.2 381.1 L584.7 381 L585.2 380.9 L585.7 380.8 L586.2 380.7 L586.7 380.6 L587.2 380.5 L587.7 380.4 L588.2 380.3 L588.7 380.2 L589.2 380 L589.7 379.9 L590.2 379.7 L590.7 379.5 L591.2 379.4 L591.7 379.2 L592.2 379 L592.7 378.8 L593.2 378.6 L593.7 378.5 L594.2 378.3 L594.7 378.1 L595.2 377.9 L595.7 377.7 L596.2 377.5 L596.7 377.3 L597.2 377.1 L597.7 376.9 L598.2 376.7 L598.7 376.4 L599.2 376.2 L599.7 376 L600.2 375.7 L600.7 375.5 L601.2 375.3 L601.7 375 L602.2 374.8 L602.7 374.6 L603.2 374.3 L603.7 374.1 L604.2 373.9 L604.7 373.7 L605.2 373.5 L605.7 373.3 L606.2 373.1 L606.7 372.9 L607.2 372.7 L607.7 372.6 L608.2 372.4 L608.7 372.3 L609.2 372.2 L609.7 372 L610.2 371.9 L610.7 371.8 L611.2 371.7 L611.7 371.6 L612.2 371.6 L612.7 371.5 L613.2 371.4 L613.7 371.3 L614.2 371.3 L614.7 371.2 L615.2 371.1 L615.7 371.1 L616.2 371 L616.7 370.9 L617.2 370.9 L617.7 370.8 L618.2 370.8 L618.7 370.7 L619.2 370.6 L619.7 370.6 L620.2 370.5 L620.7 370.5 L621.2 370.4 L621.7 370.4 L622.2 370.3 L622.7 370.3 L623.2 370.2 L623.7 370.2 L624.2 370.1 L624.7 370.1 L625.2 370.1 L625.7 370 L626.2 370 L626.7 370 L627.2 369.9 L627.7 369.9 L628.2 369.9 L628.7 369.8 L629.2 369.8 L629.7 369.8 L630.2 369.8 L630.7 369.7 L631.2 369.7" fill="none" stroke="#5bb4b4" stroke-width="1.75" stroke-linejoin="round" stroke-linecap="round"/>
<path d="M351.2 356.6 L351.7 357.1 L352.2 357.9 L352.7 358.8 L353.2 359.7 L353.7 360.6 L354.2 361.3 L354.7 361.9 L355.2 362.6 L355.7 363.2 L356.2 363.8 L356.7 364.3 L357.2 364.7 L357.7 365 L358.2 365.1 L358.7 365 L359.2 364.7 L359.7 364.3 L360.2 363.9 L360.7 363.4 L361.2 363 L361.7 362.6 L362.2 362.5 L362.7 362.5 L363.2 362.7 L363.7 363 L364.2 363.4 L364.7 363.9 L365.2 364.4 L365.7 364.9 L366.2 365.4 L366.7 365.8 L367.2 366.2 L367.7 366.6 L368.2 366.8 L368.7 366.8 L369.2 366.8 L369.7 366.6 L370.2 366.3 L370.7 365.9 L371.2 365.6 L371.7 365.2 L372.2 364.9 L372.7 364.4 L373.2 364 L373.7 363.5 L374.2 363 L374.7 362.6 L375.2 362.3 L375.7 362.2 L376.2 362.3 L376.7 362.6 L377.2 363 L377.7 363.4 L378.2 363.6 L378.7 363.6 L379.2 363.4 L379.7 363.1 L380.2 362.8 L380.7 362.4 L381.2 362 L381.7 361.5 L382.2 361.1 L382.7 360.6 L383.2 360.2 L383.7 359.8 L384.2 359.4 L384.7 359.1 L385.2 358.9 L385.7 358.7 L386.2 358.5 L386.7 358.3 L387.2 358.1 L387.7 357.9 L388.2 357.7 L388.7 357.5 L389.2 357.3 L389.7 357.1 L390.2 357 L390.7 356.8 L391.2 356.6 L391.7 356.5 L392.2 356.3 L392.7 356.2 L393.2 356 L393.7 355.9 L394.2 355.8 L394.7 355.6 L395.2 355.5 L395.7 355.4 L396.2 355.3 L396.7 355.2 L397.2 355.1 L397.7 355 L398.2 354.9 L398.7 354.9 L399.2 354.8 L399.7 354.8 L400.2 354.9 L400.7 355 L401.2 355.3 L401.7 355.7 L402.2 356.3 L402.7 357.7 L403.2 359.5 L403.7 361.1 L404.2 362 L404.7 361.8 L405.2 360.8 L405.7 359.6 L406.2 358.7 L406.7 357.8 L407.2 357.1 L407.7 356.9 L408.2 356.7 L408.7 356.6 L409.2 356.4 L409.7 356.3 L410.2 356.2 L410.7 356.1 L411.2 356 L411.7 355.9 L412.2 355.8 L412.7 355.7 L413.2 355.6 L413.7 355.6 L414.2 355.5 L414.7 355.4 L415.2 355.3 L415.7 355.2 L416.2 355.1 L416.7 355.1 L417.2 355 L417.7 354.9 L418.2 354.8 L418.7 354.6 L419.2 354.5 L419.7 354.4 L420.2 354.3 L420.7 354.2 L421.2 354.1 L421.7 354 L422.2 353.9 L422.7 353.8 L423.2 353.7 L423.7 353.6 L424.2 353.5 L424.7 353.4 L425.2 353.3 L425.7 353.2 L426.2 353.1 L426.7 353 L427.2 352.9 L427.7 352.8 L428.2 352.8 L428.7 352.7 L429.2 352.6 L429.7 352.6 L430.2 352.6 L430.7 352.5 L431.2 352.5 L431.7 352.5 L432.2 352.5 L432.7 352.5 L433.2 352.5 L433.7 352.5 L434.2 352.5 L434.7 352.5 L435.2 352.6 L435.7 352.6 L436.2 352.6 L436.7 352.7 L437.2 352.7 L437.7 352.7 L438.2 352.8 L438.7 352.8 L439.2 352.9 L439.7 352.9 L440.2 352.9 L440.7 352.9 L441.2 353 L441.7 353 L442.2 353.1 L442.7 353.1 L443.2 353.2 L443.7 353.4 L444.2 353.6 L444.7 353.9 L445.2 354.3 L445.7 354.8 L446.2 355.3 L446.7 355.7 L447.2 356.2 L447.7 356.7 L448.2 357.1 L448.7 357.3 L449.2 357.2 L449.7 356.7 L450.2 356 L450.7 355.3 L451.2 354.7 L451.7 354.4 L452.2 354.1 L452.7 353.8 L453.2 353.6 L453.7 353.4 L454.2 353.3 L454.7 353.1 L455.2 353.1 L455.7 353 L456.2 353 L456.7 353 L457.2 353 L457.7 353 L458.2 353 L458.7 353 L459.2 353 L459.7 353 L460.2 353 L460.7 353 L461.2 353 L461.7 353 L462.2 353 L462.7 353 L463.2 353 L463.7 353 L464.2 353 L464.7 353.1 L465.2 353.1 L465.7 353.1 L466.2 353.1 L466.7 353.1 L467.2 353.2 L467.7 353.2 L468.2 353.2 L468.7 353.2 L469.2 353.3 L469.7 353.3 L470.2 353.3 L470.7 353.3 L471.2 353.3 L471.7 353.4 L472.2 353.4 L472.7 353.4 L473.2 353.4 L473.7 353.5 L474.2 353.5 L474.7 353.5 L475.2 353.5 L475.7 353.5 L476.2 353.5 L476.7 353.6 L477.2 353.6 L477.7 353.6 L478.2 353.6 L478.7 353.6 L479.2 353.6 L479.7 353.6 L480.2 353.6 L480.7 353.6 L481.2 353.6 L481.7 353.6 L482.2 353.6 L482.7 353.6 L483.2 353.6 L483.7 353.6 L484.2 353.6 L484.7 353.6 L485.2 353.6 L485.7 353.6 L486.2 353.5 L486.7 353.5 L487.2 353.5 L487.7 353.5 L488.2 353.5 L488.7 353.5 L489.2 353.5 L489.7 353.5 L490.2 353.5 L490.7 353.5 L491.2 353.4 L491.7 353.4 L492.2 353.4 L492.7 353.4 L493.2 353.4 L493.7 353.4 L494.2 353.4 L494.7 353.4 L495.2 353.3 L495.7 353.3 L496.2 353.3 L496.7 353.3 L497.2 353.3 L497.7 353.3 L498.2 353.3 L498.7 353.2 L499.2 353.2 L499.7 353.2 L500.2 353.2 L500.7 353.2 L501.2 353.2 L501.7 353.2 L502.2 353.2 L502.7 353.1 L503.2 353.1 L503.7 353.1 L504.2 353.1 L504.7 353.1 L505.2 353.1 L505.7 353.1 L506.2 353.1 L506.7 353.1 L507.2 353 L507.7 353 L508.2 353 L508.7 353 L509.2 353 L509.7 353 L510.2 353 L510.7 353 L511.2 353 L511.7 353 L512.2 353 L512.7 353 L513.2 353 L513.7 353 L514.2 353 L514.7 353 L515.2 353 L515.7 353 L516.2 353 L516.7 353 L517.2 353 L517.7 353 L518.2 353.1 L518.7 353.1 L519.2 353.1 L519.7 353.1 L520.2 353.1 L520.7 353.1 L521.2 353.1 L521.7 353.2 L522.2 353.2 L522.7 353.2 L523.2 353.2 L523.7 353.3 L524.2 353.3 L524.7 353.3 L525.2 353.4 L525.7 353.4 L526.2 353.4 L526.7 353.5 L527.2 353.5 L527.7 353.6 L528.2 353.6 L528.7 353.7 L529.2 353.7 L529.7 353.7 L530.2 353.8 L530.7 353.8 L531.2 353.9 L531.7 354 L532.2 354 L532.7 354.1 L533.2 354.1 L533.7 354.2 L534.2 354.2 L534.7 354.3 L535.2 354.4 L535.7 354.4 L536.2 354.5 L536.7 354.5 L537.2 354.6 L537.7 354.7 L538.2 354.7 L538.7 354.8 L539.2 354.9 L539.7 354.9 L540.2 355 L540.7 355.1 L541.2 355.1 L541.7 355.2 L542.2 355.3 L542.7 355.4 L543.2 355.4 L543.7 355.5 L544.2 355.6 L544.7 355.6 L545.2 355.7 L545.7 355.8 L546.2 355.9 L546.7 356 L547.2 356 L547.7 356.1 L548.2 356.2 L548.7 356.3 L549.2 356.4 L549.7 356.5 L550.2 356.7 L550.7 356.8 L551.2 356.9 L551.7 357.1 L552.2 357.2 L552.7 357.4 L553.2 357.5 L553.7 357.7 L554.2 357.9 L554.7 358.1 L555.2 358.3 L555.7 358.6 L556.2 358.9 L556.7 359.3 L557.2 359.8 L557.7 360.2 L558.2 360.7 L558.7 361.2 L559.2 361.6 L559.7 362 L560.2 362.4 L560.7 362.6 L561.2 362.8 L561.7 362.9 L562.2 362.9 L562.7 362.8 L563.2 362.7 L563.7 362.5 L564.2 362.2 L564.7 361.9 L565.2 361.7 L565.7 361.4 L566.2 361.2 L566.7 361.1 L567.2 361.1 L567.7 361.1 L568.2 361.2 L568.7 361.4 L569.2 361.6 L569.7 361.8 L570.2 362.1 L570.7 362.4 L571.2 362.7 L571.7 363 L572.2 363.3 L572.7 363.6 L573.2 364 L573.7 364.3 L574.2 364.6 L574.7 364.9 L575.2 365.2 L575.7 365.5 L576.2 365.7 L576.7 365.9 L577.2 366.1 L577.7 366.2 L578.2 366.3 L578.7 366.4 L579.2 366.5 L579.7 366.6 L580.2 366.7 L580.7 366.7 L581.2 366.7 L581.7 366.8 L582.2 366.8 L582.7 366.8 L583.2 366.8 L583.7 366.7 L584.2 366.7 L584.7 366.7 L585.2 366.6 L585.7 366.6 L586.2 366.5 L586.7 366.4 L587.2 366.3 L587.7 366.3 L588.2 366.1 L588.7 366 L589.2 365.9 L589.7 365.8 L590.2 365.6 L590.7 365.4 L591.2 365.3 L591.7 365.1 L592.2 364.9 L592.7 364.7 L593.2 364.5 L593.7 364.3 L594.2 364.1 L594.7 363.8 L595.2 363.6 L595.7 363.3 L596.2 363.1 L596.7 362.8 L597.2 362.6 L597.7 362.3 L598.2 362 L598.7 361.6 L599.2 361.3 L599.7 361 L600.2 360.6 L600.7 360.3 L601.2 359.9 L601.7 359.6 L602.2 359.2 L602.7 358.8 L603.2 358.5 L603.7 358.1 L604.2 357.8 L604.7 357.5 L605.2 357.2 L605.7 356.9 L606.2 356.6 L606.7 356.3 L607.2 356.1 L607.7 355.9 L608.2 355.7 L608.7 355.5 L609.2 355.3 L609.7 355.1 L610.2 355 L610.7 354.9 L611.2 354.7 L611.7 354.6 L612.2 354.5 L612.7 354.4 L613.2 354.3 L613.7 354.2 L614.2 354.2 L614.7 354.1 L615.2 354 L615.7 353.9 L616.2 353.9 L616.7 353.8 L617.2 353.7 L617.7 353.7 L618.2 353.6 L618.7 353.5 L619.2 353.4 L619.7 353.3 L620.2 353.3 L620.7 353.2 L621.2 353.1 L621.7 353 L622.2 352.9 L622.7 352.9 L623.2 352.8 L623.7 352.7 L624.2 352.7 L624.7 352.6 L625.2 352.5 L625.7 352.5 L626.2 352.4 L626.7 352.3 L627.2 352.3 L627.7 352.2 L628.2 352.2 L628.7 352.1 L629.2 352.1 L629.7 352 L630.2 352 L630.7 352 L631.2 351.9" fill="none" stroke="#8fd0d0" stroke-width="1.75" stroke-linejoin="round" stroke-linecap="round"/>
<path d="M351.2 338.2 L351.7 338.8 L352.2 339.6 L352.7 340.6 L353.2 341.6 L353.7 342.5 L354.2 343.3 L354.7 344 L355.2 344.7 L355.7 345.5 L356.2 346.1 L356.7 346.7 L357.2 347.2 L357.7 347.5 L358.2 347.6 L358.7 347.5 L359.2 347.3 L359.7 346.9 L360.2 346.4 L360.7 346 L361.2 345.5 L361.7 345.2 L362.2 345 L362.7 345 L363.2 345.2 L363.7 345.4 L364.2 345.7 L364.7 346.1 L365.2 346.5 L365.7 346.9 L366.2 347.3 L366.7 347.7 L367.2 348 L367.7 348.3 L368.2 348.5 L368.7 348.5 L369.2 348.5 L369.7 348.3 L370.2 348.1 L370.7 347.8 L371.2 347.5 L371.7 347.2 L372.2 346.9 L372.7 346.5 L373.2 346 L373.7 345.5 L374.2 345 L374.7 344.6 L375.2 344.4 L375.7 344.3 L376.2 344.6 L376.7 345 L377.2 345.5 L377.7 346 L378.2 346.4 L378.7 346.4 L379.2 346.2 L379.7 345.9 L380.2 345.5 L380.7 345.1 L381.2 344.6 L381.7 344.1 L382.2 343.6 L382.7 343.1 L383.2 342.7 L383.7 342.2 L384.2 341.9 L384.7 341.5 L385.2 341.3 L385.7 341.1 L386.2 340.9 L386.7 340.7 L387.2 340.5 L387.7 340.4 L388.2 340.2 L388.7 340 L389.2 339.9 L389.7 339.7 L390.2 339.6 L390.7 339.5 L391.2 339.3 L391.7 339.2 L392.2 339.1 L392.7 339 L393.2 338.9 L393.7 338.8 L394.2 338.7 L394.7 338.6 L395.2 338.5 L395.7 338.5 L396.2 338.4 L396.7 338.3 L397.2 338.3 L397.7 338.2 L398.2 338.2 L398.7 338.1 L399.2 338.1 L399.7 338.1 L400.2 338.2 L400.7 338.4 L401.2 338.7 L401.7 339.2 L402.2 339.8 L402.7 341.4 L403.2 343.3 L403.7 345.1 L404.2 346 L404.7 345.6 L405.2 344.3 L405.7 342.7 L406.2 341.6 L406.7 340.7 L407.2 340.1 L407.7 339.9 L408.2 339.7 L408.7 339.6 L409.2 339.5 L409.7 339.3 L410.2 339.2 L410.7 339.1 L411.2 339 L411.7 338.9 L412.2 338.8 L412.7 338.7 L413.2 338.7 L413.7 338.6 L414.2 338.5 L414.7 338.5 L415.2 338.4 L415.7 338.3 L416.2 338.3 L416.7 338.2 L417.2 338.2 L417.7 338.1 L418.2 338.1 L418.7 338 L419.2 338 L419.7 338 L420.2 337.9 L420.7 337.9 L421.2 337.9 L421.7 337.8 L422.2 337.8 L422.7 337.8 L423.2 337.8 L423.7 337.7 L424.2 337.7 L424.7 337.7 L425.2 337.7 L425.7 337.7 L426.2 337.6 L426.7 337.6 L427.2 337.6 L427.7 337.6 L428.2 337.6 L428.7 337.5 L429.2 337.5 L429.7 337.5 L430.2 337.5 L430.7 337.4 L431.2 337.4 L431.7 337.4 L432.2 337.3 L432.7 337.3 L433.2 337.3 L433.7 337.2 L434.2 337.2 L434.7 337.1 L435.2 337.1 L435.7 337.1 L436.2 337.1 L436.7 337 L437.2 337 L437.7 337 L438.2 337 L438.7 337 L439.2 337 L439.7 337 L440.2 337 L440.7 337.1 L441.2 337.1 L441.7 337.2 L442.2 337.3 L442.7 337.5 L443.2 337.7 L443.7 337.9 L444.2 338.1 L444.7 338.4 L445.2 338.9 L445.7 339.3 L446.2 339.8 L446.7 340.2 L447.2 340.7 L447.7 341.2 L448.2 341.6 L448.7 341.8 L449.2 341.6 L449.7 341.1 L450.2 340.3 L450.7 339.5 L451.2 338.8 L451.7 338.3 L452.2 338 L452.7 337.6 L453.2 337.3 L453.7 337 L454.2 336.8 L454.7 336.6 L455.2 336.4 L455.7 336.3 L456.2 336.3 L456.7 336.3 L457.2 336.2 L457.7 336.2 L458.2 336.2 L458.7 336.2 L459.2 336.2 L459.7 336.2 L460.2 336.2 L460.7 336.2 L461.2 336.2 L461.7 336.2 L462.2 336.2 L462.7 336.2 L463.2 336.2 L463.7 336.2 L464.2 336.2 L464.7 336.2 L465.2 336.2 L465.7 336.2 L466.2 336.3 L466.7 336.3 L467.2 336.3 L467.7 336.3 L468.2 336.3 L468.7 336.4 L469.2 336.4 L469.7 336.4 L470.2 336.4 L470.7 336.4 L471.2 336.5 L471.7 336.5 L472.2 336.5 L472.7 336.5 L473.2 336.6 L473.7 336.6 L474.2 336.6 L474.7 336.6 L475.2 336.6 L475.7 336.6 L476.2 336.7 L476.7 336.7 L477.2 336.7 L477.7 336.7 L478.2 336.7 L478.7 336.7 L479.2 336.7 L479.7 336.7 L480.2 336.7 L480.7 336.7 L481.2 336.7 L481.7 336.7 L482.2 336.7 L482.7 336.7 L483.2 336.7 L483.7 336.7 L484.2 336.6 L484.7 336.6 L485.2 336.6 L485.7 336.6 L486.2 336.6 L486.7 336.6 L487.2 336.6 L487.7 336.6 L488.2 336.6 L488.7 336.5 L489.2 336.5 L489.7 336.5 L490.2 336.5 L490.7 336.5 L491.2 336.5 L491.7 336.4 L492.2 336.4 L492.7 336.4 L493.2 336.4 L493.7 336.4 L494.2 336.4 L494.7 336.3 L495.2 336.3 L495.7 336.3 L496.2 336.3 L496.7 336.3 L497.2 336.3 L497.7 336.2 L498.2 336.2 L498.7 336.2 L499.2 336.2 L499.7 336.2 L500.2 336.2 L500.7 336.1 L501.2 336.1 L501.7 336.1 L502.2 336.1 L502.7 336.1 L503.2 336.1 L503.7 336 L504.2 336 L504.7 336 L505.2 336 L505.7 336 L506.2 336 L506.7 336 L507.2 336 L507.7 335.9 L508.2 335.9 L508.7 335.9 L509.2 335.9 L509.7 335.9 L510.2 335.9 L510.7 335.9 L511.2 335.9 L511.7 335.9 L512.2 335.9 L512.7 335.9 L513.2 335.9 L513.7 335.9 L514.2 335.9 L514.7 335.9 L515.2 335.9 L515.7 335.9 L516.2 335.9 L516.7 335.9 L517.2 335.9 L517.7 335.9 L518.2 336 L518.7 336 L519.2 336 L519.7 336 L520.2 336 L520.7 336 L521.2 336.1 L521.7 336.1 L522.2 336.1 L522.7 336.1 L523.2 336.2 L523.7 336.2 L524.2 336.2 L524.7 336.3 L525.2 336.3 L525.7 336.3 L526.2 336.4 L526.7 336.4 L527.2 336.5 L527.7 336.5 L528.2 336.6 L528.7 336.6 L529.2 336.7 L529.7 336.7 L530.2 336.8 L530.7 336.8 L531.2 336.9 L531.7 337 L532.2 337 L532.7 337.1 L533.2 337.1 L533.7 337.2 L534.2 337.3 L534.7 337.4 L535.2 337.4 L535.7 337.5 L536.2 337.6 L536.7 337.6 L537.2 337.7 L537.7 337.8 L538.2 337.9 L538.7 338 L539.2 338 L539.7 338.1 L540.2 338.2 L540.7 338.3 L541.2 338.4 L541.7 338.4 L542.2 338.5 L542.7 338.6 L543.2 338.7 L543.7 338.8 L544.2 338.9 L544.7 339 L545.2 339.1 L545.7 339.2 L546.2 339.4 L546.7 339.5 L547.2 339.6 L547.7 339.8 L548.2 339.9 L548.7 340.1 L549.2 340.3 L549.7 340.4 L550.2 340.6 L550.7 340.8 L551.2 340.9 L551.7 341.1 L552.2 341.3 L552.7 341.5 L553.2 341.7 L553.7 341.8 L554.2 342 L554.7 342.2 L555.2 342.4 L555.7 342.6 L556.2 342.8 L556.7 343.1 L557.2 343.3 L557.7 343.6 L558.2 343.9 L558.7 344.1 L559.2 344.4 L559.7 344.6 L560.2 344.8 L560.7 344.9 L561.2 345.1 L561.7 345.1 L562.2 345.1 L562.7 345.1 L563.2 345 L563.7 344.8 L564.2 344.7 L564.7 344.5 L565.2 344.4 L565.7 344.3 L566.2 344.2 L566.7 344.1 L567.2 344.1 L567.7 344.2 L568.2 344.3 L568.7 344.5 L569.2 344.7 L569.7 344.9 L570.2 345.1 L570.7 345.4 L571.2 345.6 L571.7 345.9 L572.2 346.2 L572.7 346.5 L573.2 346.7 L573.7 347 L574.2 347.3 L574.7 347.5 L575.2 347.8 L575.7 348 L576.2 348.2 L576.7 348.4 L577.2 348.6 L577.7 348.7 L578.2 348.8 L578.7 348.9 L579.2 349 L579.7 349.1 L580.2 349.2 L580.7 349.3 L581.2 349.4 L581.7 349.4 L582.2 349.5 L582.7 349.5 L583.2 349.5 L583.7 349.6 L584.2 349.6 L584.7 349.6 L585.2 349.5 L585.7 349.5 L586.2 349.5 L586.7 349.4 L587.2 349.4 L587.7 349.3 L588.2 349.2 L588.7 349.1 L589.2 349 L589.7 348.9 L590.2 348.7 L590.7 348.6 L591.2 348.4 L591.7 348.3 L592.2 348.1 L592.7 347.9 L593.2 347.7 L593.7 347.5 L594.2 347.3 L594.7 347.1 L595.2 346.9 L595.7 346.6 L596.2 346.4 L596.7 346.1 L597.2 345.9 L597.7 345.6 L598.2 345.3 L598.7 345 L599.2 344.6 L599.7 344.3 L600.2 343.9 L600.7 343.6 L601.2 343.2 L601.7 342.8 L602.2 342.5 L602.7 342.1 L603.2 341.7 L603.7 341.4 L604.2 341 L604.7 340.7 L605.2 340.4 L605.7 340.1 L606.2 339.8 L606.7 339.5 L607.2 339.3 L607.7 339.1 L608.2 338.9 L608.7 338.7 L609.2 338.5 L609.7 338.3 L610.2 338.2 L610.7 338.1 L611.2 337.9 L611.7 337.8 L612.2 337.7 L612.7 337.6 L613.2 337.5 L613.7 337.4 L614.2 337.4 L614.7 337.3 L615.2 337.2 L615.7 337.1 L616.2 337.1 L616.7 337 L617.2 336.9 L617.7 336.9 L618.2 336.8 L618.7 336.7 L619.2 336.6 L619.7 336.5 L620.2 336.5 L620.7 336.4 L621.2 336.3 L621.7 336.2 L622.2 336.1 L622.7 336.1 L623.2 336 L623.7 335.9 L624.2 335.9 L624.7 335.8 L625.2 335.7 L625.7 335.7 L626.2 335.6 L626.7 335.5 L627.2 335.5 L627.7 335.4 L628.2 335.4 L628.7 335.3 L629.2 335.3 L629.7 335.2 L630.2 335.2 L630.7 335.2 L631.2 335.1" fill="none" stroke="#d0691d" stroke-width="1.75" stroke-linejoin="round" stroke-linecap="round"/>
<path d="M351.2 319.9 L351.7 320.5 L352.2 321.4 L352.7 322.4 L353.2 323.5 L353.7 324.5 L354.2 325.3 L354.7 326.2 L355.2 327.1 L355.7 328 L356.2 328.8 L356.7 329.6 L357.2 330.2 L357.7 330.7 L358.2 331 L358.7 331.1 L359.2 331 L359.7 330.8 L360.2 330.5 L360.7 330.2 L361.2 329.9 L361.7 329.6 L362.2 329.5 L362.7 329.5 L363.2 329.6 L363.7 329.7 L364.2 329.9 L364.7 330.1 L365.2 330.4 L365.7 330.6 L366.2 330.8 L366.7 331.1 L367.2 331.2 L367.7 331.4 L368.2 331.5 L368.7 331.5 L369.2 331.5 L369.7 331.4 L370.2 331.3 L370.7 331.1 L371.2 330.9 L371.7 330.6 L372.2 330.4 L372.7 330 L373.2 329.6 L373.7 329.1 L374.2 328.6 L374.7 328.3 L375.2 328 L375.7 327.9 L376.2 328.1 L376.7 328.4 L377.2 328.8 L377.7 329.2 L378.2 329.4 L378.7 329.4 L379.2 329.1 L379.7 328.8 L380.2 328.4 L380.7 327.9 L381.2 327.4 L381.7 326.8 L382.2 326.3 L382.7 325.8 L383.2 325.3 L383.7 324.8 L384.2 324.4 L384.7 324.1 L385.2 323.8 L385.7 323.6 L386.2 323.4 L386.7 323.2 L387.2 323 L387.7 322.8 L388.2 322.7 L388.7 322.5 L389.2 322.3 L389.7 322.2 L390.2 322.1 L390.7 321.9 L391.2 321.8 L391.7 321.7 L392.2 321.6 L392.7 321.5 L393.2 321.4 L393.7 321.3 L394.2 321.2 L394.7 321.1 L395.2 321.1 L395.7 321 L396.2 320.9 L396.7 320.8 L397.2 320.8 L397.7 320.7 L398.2 320.6 L398.7 320.6 L399.2 320.6 L399.7 320.6 L400.2 320.7 L400.7 320.8 L401.2 321.1 L401.7 321.5 L402.2 322.1 L402.7 323.5 L403.2 325.3 L403.7 326.9 L404.2 327.7 L404.7 327.3 L405.2 326.1 L405.7 324.7 L406.2 323.6 L406.7 322.5 L407.2 321.6 L407.7 321.4 L408.2 321.2 L408.7 321.1 L409.2 320.9 L409.7 320.8 L410.2 320.7 L410.7 320.6 L411.2 320.5 L411.7 320.5 L412.2 320.4 L412.7 320.3 L413.2 320.3 L413.7 320.2 L414.2 320.2 L414.7 320.1 L415.2 320.1 L415.7 320 L416.2 320 L416.7 319.9 L417.2 319.9 L417.7 319.8 L418.2 319.8 L418.7 319.7 L419.2 319.7 L419.7 319.6 L420.2 319.5 L420.7 319.5 L421.2 319.4 L421.7 319.4 L422.2 319.4 L422.7 319.3 L423.2 319.3 L423.7 319.2 L424.2 319.2 L424.7 319.1 L425.2 319.1 L425.7 319.1 L426.2 319 L426.7 319 L427.2 319 L427.7 318.9 L428.2 318.9 L428.7 318.9 L429.2 318.8 L429.7 318.8 L430.2 318.8 L430.7 318.7 L431.2 318.7 L431.7 318.7 L432.2 318.7 L432.7 318.7 L433.2 318.7 L433.7 318.7 L434.2 318.7 L434.7 318.7 L435.2 318.7 L435.7 318.7 L436.2 318.7 L436.7 318.7 L437.2 318.8 L437.7 318.8 L438.2 318.8 L438.7 318.8 L439.2 318.9 L439.7 318.9 L440.2 319 L440.7 319 L441.2 319.1 L441.7 319.1 L442.2 319.2 L442.7 319.3 L443.2 319.3 L443.7 319.4 L444.2 319.6 L444.7 319.8 L445.2 320.1 L445.7 320.4 L446.2 320.8 L446.7 321.1 L447.2 321.6 L447.7 322.1 L448.2 322.5 L448.7 322.6 L449.2 322.4 L449.7 321.9 L450.2 321.3 L450.7 320.7 L451.2 320.4 L451.7 320.1 L452.2 319.8 L452.7 319.6 L453.2 319.4 L453.7 319.2 L454.2 319 L454.7 318.9 L455.2 318.8 L455.7 318.7 L456.2 318.6 L456.7 318.5 L457.2 318.5 L457.7 318.4 L458.2 318.4 L458.7 318.4 L459.2 318.4 L459.7 318.4 L460.2 318.4 L460.7 318.4 L461.2 318.4 L461.7 318.5 L462.2 318.5 L462.7 318.5 L463.2 318.5 L463.7 318.6 L464.2 318.6 L464.7 318.6 L465.2 318.7 L465.7 318.7 L466.2 318.7 L466.7 318.8 L467.2 318.8 L467.7 318.9 L468.2 318.9 L468.7 318.9 L469.2 319 L469.7 319 L470.2 319 L470.7 319.1 L471.2 319.1 L471.7 319.2 L472.2 319.2 L472.7 319.2 L473.2 319.3 L473.7 319.3 L474.2 319.3 L474.7 319.3 L475.2 319.4 L475.7 319.4 L476.2 319.4 L476.7 319.4 L477.2 319.5 L477.7 319.5 L478.2 319.5 L478.7 319.5 L479.2 319.5 L479.7 319.5 L480.2 319.5 L480.7 319.5 L481.2 319.5 L481.7 319.5 L482.2 319.5 L482.7 319.5 L483.2 319.5 L483.7 319.5 L484.2 319.4 L484.7 319.4 L485.2 319.4 L485.7 319.4 L486.2 319.4 L486.7 319.4 L487.2 319.4 L487.7 319.3 L488.2 319.3 L488.7 319.3 L489.2 319.3 L489.7 319.3 L490.2 319.2 L490.7 319.2 L491.2 319.2 L491.7 319.2 L492.2 319.1 L492.7 319.1 L493.2 319.1 L493.7 319.1 L494.2 319 L494.7 319 L495.2 319 L495.7 319 L496.2 318.9 L496.7 318.9 L497.2 318.9 L497.7 318.9 L498.2 318.8 L498.7 318.8 L499.2 318.8 L499.7 318.8 L500.2 318.7 L500.7 318.7 L501.2 318.7 L501.7 318.7 L502.2 318.6 L502.7 318.6 L503.2 318.6 L503.7 318.6 L504.2 318.6 L504.7 318.5 L505.2 318.5 L505.7 318.5 L506.2 318.5 L506.7 318.5 L507.2 318.5 L507.7 318.5 L508.2 318.4 L508.7 318.4 L509.2 318.4 L509.7 318.4 L510.2 318.4 L510.7 318.4 L511.2 318.4 L511.7 318.4 L512.2 318.4 L512.7 318.4 L513.2 318.4 L513.7 318.4 L514.2 318.4 L514.7 318.4 L515.2 318.4 L515.7 318.4 L516.2 318.4 L516.7 318.4 L517.2 318.4 L517.7 318.5 L518.2 318.5 L518.7 318.5 L519.2 318.5 L519.7 318.5 L520.2 318.5 L520.7 318.5 L521.2 318.5 L521.7 318.6 L522.2 318.6 L522.7 318.6 L523.2 318.6 L523.7 318.6 L524.2 318.7 L524.7 318.7 L525.2 318.7 L525.7 318.7 L526.2 318.8 L526.7 318.8 L527.2 318.8 L527.7 318.9 L528.2 318.9 L528.7 318.9 L529.2 318.9 L529.7 319 L530.2 319 L530.7 319.1 L531.2 319.1 L531.7 319.1 L532.2 319.2 L532.7 319.2 L533.2 319.3 L533.7 319.3 L534.2 319.3 L534.7 319.4 L535.2 319.4 L535.7 319.5 L536.2 319.5 L536.7 319.6 L537.2 319.7 L537.7 319.7 L538.2 319.8 L538.7 319.9 L539.2 320 L539.7 320.1 L540.2 320.2 L540.7 320.3 L541.2 320.4 L541.7 320.6 L542.2 320.7 L542.7 320.8 L543.2 320.9 L543.7 321.1 L544.2 321.2 L544.7 321.3 L545.2 321.5 L545.7 321.6 L546.2 321.7 L546.7 321.8 L547.2 322 L547.7 322.1 L548.2 322.3 L548.7 322.4 L549.2 322.5 L549.7 322.7 L550.2 322.9 L550.7 323 L551.2 323.2 L551.7 323.3 L552.2 323.5 L552.7 323.7 L553.2 323.9 L553.7 324 L554.2 324.2 L554.7 324.4 L555.2 324.6 L555.7 324.8 L556.2 325 L556.7 325.2 L557.2 325.4 L557.7 325.7 L558.2 325.9 L558.7 326.1 L559.2 326.4 L559.7 326.6 L560.2 326.7 L560.7 326.9 L561.2 327.1 L561.7 327.2 L562.2 327.2 L562.7 327.3 L563.2 327.3 L563.7 327.3 L564.2 327.3 L564.7 327.2 L565.2 327.2 L565.7 327.2 L566.2 327.2 L566.7 327.2 L567.2 327.3 L567.7 327.4 L568.2 327.5 L568.7 327.7 L569.2 327.8 L569.7 328 L570.2 328.2 L570.7 328.4 L571.2 328.6 L571.7 328.8 L572.2 329 L572.7 329.2 L573.2 329.4 L573.7 329.6 L574.2 329.8 L574.7 330 L575.2 330.2 L575.7 330.3 L576.2 330.5 L576.7 330.6 L577.2 330.8 L577.7 330.9 L578.2 331 L578.7 331.1 L579.2 331.2 L579.7 331.3 L580.2 331.4 L580.7 331.5 L581.2 331.6 L581.7 331.7 L582.2 331.8 L582.7 331.8 L583.2 331.9 L583.7 331.9 L584.2 332 L584.7 332 L585.2 332 L585.7 332 L586.2 332 L586.7 331.9 L587.2 331.9 L587.7 331.8 L588.2 331.7 L588.7 331.6 L589.2 331.5 L589.7 331.4 L590.2 331.2 L590.7 331.1 L591.2 330.9 L591.7 330.8 L592.2 330.6 L592.7 330.4 L593.2 330.2 L593.7 330 L594.2 329.8 L594.7 329.6 L595.2 329.3 L595.7 329.1 L596.2 328.9 L596.7 328.7 L597.2 328.4 L597.7 328.1 L598.2 327.9 L598.7 327.6 L599.2 327.3 L599.7 327 L600.2 326.7 L600.7 326.3 L601.2 326 L601.7 325.7 L602.2 325.4 L602.7 325.1 L603.2 324.7 L603.7 324.4 L604.2 324.1 L604.7 323.8 L605.2 323.6 L605.7 323.3 L606.2 323 L606.7 322.8 L607.2 322.6 L607.7 322.4 L608.2 322.2 L608.7 322 L609.2 321.8 L609.7 321.7 L610.2 321.5 L610.7 321.4 L611.2 321.3 L611.7 321.2 L612.2 321.1 L612.7 321 L613.2 320.9 L613.7 320.8 L614.2 320.7 L614.7 320.6 L615.2 320.5 L615.7 320.5 L616.2 320.4 L616.7 320.3 L617.2 320.2 L617.7 320.2 L618.2 320.1 L618.7 320 L619.2 319.9 L619.7 319.8 L620.2 319.8 L620.7 319.7 L621.2 319.6 L621.7 319.5 L622.2 319.5 L622.7 319.4 L623.2 319.3 L623.7 319.3 L624.2 319.2 L624.7 319.2 L625.2 319.1 L625.7 319 L626.2 319 L626.7 318.9 L627.2 318.9 L627.7 318.8 L628.2 318.8 L628.7 318.7 L629.2 318.7 L629.7 318.7 L630.2 318.6 L630.7 318.6 L631.2 318.6 L631.7 318.5" fill="none" stroke="#f08427" stroke-width="1.75" stroke-linejoin="round" stroke-linecap="round"/>
<path d="M351.2 304.3 L351.7 304.8 L352.2 305.4 L352.7 306.2 L353.2 306.9 L353.7 307.6 L354.2 308.2 L354.7 308.8 L355.2 309.4 L355.7 310 L356.2 310.5 L356.7 311 L357.2 311.4 L357.7 311.7 L358.2 311.9 L358.7 311.9 L359.2 311.8 L359.7 311.6 L360.2 311.3 L360.7 311.1 L361.2 310.9 L361.7 310.8 L362.2 310.8 L362.7 310.9 L363.2 311 L363.7 311.2 L364.2 311.3 L364.7 311.5 L365.2 311.7 L365.7 311.9 L366.2 312.1 L366.7 312.3 L367.2 312.4 L367.7 312.5 L368.2 312.6 L368.7 312.6 L369.2 312.5 L369.7 312.4 L370.2 312.2 L370.7 312 L371.2 311.8 L371.7 311.6 L372.2 311.4 L372.7 311.3 L373.2 311 L373.7 310.8 L374.2 310.7 L374.7 310.5 L375.2 310.4 L375.7 310.4 L376.2 310.6 L376.7 310.8 L377.2 311.1 L377.7 311.3 L378.2 311.5 L378.7 311.4 L379.2 311.2 L379.7 310.9 L380.2 310.6 L380.7 310.2 L381.2 309.8 L381.7 309.4 L382.2 309 L382.7 308.6 L383.2 308.2 L383.7 307.8 L384.2 307.5 L384.7 307.3 L385.2 307.1 L385.7 307 L386.2 306.9 L386.7 306.7 L387.2 306.6 L387.7 306.5 L388.2 306.4 L388.7 306.3 L389.2 306.3 L389.7 306.2 L390.2 306.1 L390.7 306 L391.2 306 L391.7 305.9 L392.2 305.9 L392.7 305.9 L393.2 305.8 L393.7 305.8 L394.2 305.8 L394.7 305.7 L395.2 305.7 L395.7 305.7 L396.2 305.7 L396.7 305.6 L397.2 305.6 L397.7 305.6 L398.2 305.6 L398.7 305.6 L399.2 305.6 L399.7 305.7 L400.2 305.8 L400.7 305.9 L401.2 306.1 L401.7 306.4 L402.2 306.8 L402.7 307.6 L403.2 308.7 L403.7 309.7 L404.2 310.2 L404.7 310 L405.2 309.3 L405.7 308.4 L406.2 307.8 L406.7 307.2 L407.2 306.8 L407.7 306.6 L408.2 306.5 L408.7 306.4 L409.2 306.4 L409.7 306.3 L410.2 306.2 L410.7 306.2 L411.2 306.1 L411.7 306 L412.2 306 L412.7 305.9 L413.2 305.9 L413.7 305.9 L414.2 305.8 L414.7 305.8 L415.2 305.7 L415.7 305.7 L416.2 305.7 L416.7 305.6 L417.2 305.6 L417.7 305.5 L418.2 305.5 L418.7 305.5 L419.2 305.4 L419.7 305.4 L420.2 305.3 L420.7 305.3 L421.2 305.3 L421.7 305.2 L422.2 305.2 L422.7 305.2 L423.2 305.1 L423.7 305.1 L424.2 305.1 L424.7 305.1 L425.2 305 L425.7 305 L426.2 305 L426.7 304.9 L427.2 304.9 L427.7 304.9 L428.2 304.9 L428.7 304.8 L429.2 304.8 L429.7 304.8 L430.2 304.8 L430.7 304.8 L431.2 304.7 L431.7 304.7 L432.2 304.7 L432.7 304.6 L433.2 304.6 L433.7 304.6 L434.2 304.5 L434.7 304.5 L435.2 304.5 L435.7 304.5 L436.2 304.4 L436.7 304.4 L437.2 304.4 L437.7 304.4 L438.2 304.3 L438.7 304.3 L439.2 304.3 L439.7 304.3 L440.2 304.3 L440.7 304.3 L441.2 304.3 L441.7 304.3 L442.2 304.3 L442.7 304.3 L443.2 304.4 L443.7 304.4 L444.2 304.4 L444.7 304.6 L445.2 305 L445.7 305.4 L446.2 305.8 L446.7 306.2 L447.2 306.6 L447.7 307.2 L448.2 307.6 L448.7 307.7 L449.2 307.5 L449.7 307 L450.2 306.4 L450.7 305.8 L451.2 305.5 L451.7 305.2 L452.2 305 L452.7 304.7 L453.2 304.5 L453.7 304.4 L454.2 304.2 L454.7 304.1 L455.2 304 L455.7 303.9 L456.2 303.8 L456.7 303.7 L457.2 303.7 L457.7 303.6 L458.2 303.6 L458.7 303.6 L459.2 303.6 L459.7 303.6 L460.2 303.6 L460.7 303.6 L461.2 303.7 L461.7 303.7 L462.2 303.7 L462.7 303.8 L463.2 303.8 L463.7 303.9 L464.2 303.9 L464.7 304 L465.2 304 L465.7 304.1 L466.2 304.1 L466.7 304.2 L467.2 304.2 L467.7 304.3 L468.2 304.3 L468.7 304.4 L469.2 304.4 L469.7 304.5 L470.2 304.5 L470.7 304.6 L471.2 304.6 L471.7 304.7 L472.2 304.7 L472.7 304.8 L473.2 304.8 L473.7 304.8 L474.2 304.9 L474.7 304.9 L475.2 305 L475.7 305 L476.2 305 L476.7 305.1 L477.2 305.1 L477.7 305.1 L478.2 305.1 L478.7 305.2 L479.2 305.2 L479.7 305.2 L480.2 305.2 L480.7 305.2 L481.2 305.2 L481.7 305.2 L482.2 305.2 L482.7 305.2 L483.2 305.2 L483.7 305.2 L484.2 305.2 L484.7 305.2 L485.2 305.2 L485.7 305.2 L486.2 305.2 L486.7 305.2 L487.2 305.2 L487.7 305.1 L488.2 305.1 L488.7 305.1 L489.2 305.1 L489.7 305.1 L490.2 305.1 L490.7 305.1 L491.2 305 L491.7 305 L492.2 305 L492.7 305 L493.2 305 L493.7 304.9 L494.2 304.9 L494.7 304.9 L495.2 304.9 L495.7 304.9 L496.2 304.8 L496.7 304.8 L497.2 304.8 L497.7 304.8 L498.2 304.7 L498.7 304.7 L499.2 304.7 L499.7 304.7 L500.2 304.7 L500.7 304.6 L501.2 304.6 L501.7 304.6 L502.2 304.6 L502.7 304.6 L503.2 304.5 L503.7 304.5 L504.2 304.5 L504.7 304.5 L505.2 304.5 L505.7 304.5 L506.2 304.5 L506.7 304.4 L507.2 304.4 L507.7 304.4 L508.2 304.4 L508.7 304.4 L509.2 304.4 L509.7 304.4 L510.2 304.4 L510.7 304.4 L511.2 304.4 L511.7 304.4 L512.2 304.4 L512.7 304.4 L513.2 304.4 L513.7 304.4 L514.2 304.4 L514.7 304.4 L515.2 304.4 L515.7 304.4 L516.2 304.5 L516.7 304.5 L517.2 304.5 L517.7 304.5 L518.2 304.5 L518.7 304.5 L519.2 304.5 L519.7 304.5 L520.2 304.6 L520.7 304.6 L521.2 304.6 L521.7 304.6 L522.2 304.6 L522.7 304.6 L523.2 304.7 L523.7 304.7 L524.2 304.7 L524.7 304.7 L525.2 304.8 L525.7 304.8 L526.2 304.8 L526.7 304.8 L527.2 304.9 L527.7 304.9 L528.2 304.9 L528.7 305 L529.2 305 L529.7 305 L530.2 305.1 L530.7 305.1 L531.2 305.1 L531.7 305.2 L532.2 305.2 L532.7 305.2 L533.2 305.3 L533.7 305.3 L534.2 305.4 L534.7 305.4 L535.2 305.4 L535.7 305.5 L536.2 305.5 L536.7 305.6 L537.2 305.7 L537.7 305.7 L538.2 305.8 L538.7 305.9 L539.2 306 L539.7 306.1 L540.2 306.2 L540.7 306.3 L541.2 306.4 L541.7 306.5 L542.2 306.6 L542.7 306.7 L543.2 306.8 L543.7 306.9 L544.2 307 L544.7 307.2 L545.2 307.3 L545.7 307.4 L546.2 307.5 L546.7 307.6 L547.2 307.7 L547.7 307.8 L548.2 307.8 L548.7 307.9 L549.2 308 L549.7 308.1 L550.2 308.2 L550.7 308.3 L551.2 308.4 L551.7 308.5 L552.2 308.6 L552.7 308.7 L553.2 308.8 L553.7 308.9 L554.2 309 L554.7 309.1 L555.2 309.2 L555.7 309.3 L556.2 309.4 L556.7 309.5 L557.2 309.6 L557.7 309.7 L558.2 309.7 L558.7 309.8 L559.2 309.9 L559.7 310 L560.2 310 L560.7 310.1 L561.2 310.1 L561.7 310.1 L562.2 310.1 L562.7 310.1 L563.2 310.1 L563.7 310 L564.2 310 L564.7 310.1 L565.2 310.1 L565.7 310.2 L566.2 310.2 L566.7 310.3 L567.2 310.4 L567.7 310.5 L568.2 310.7 L568.7 310.8 L569.2 310.9 L569.7 311 L570.2 311.2 L570.7 311.3 L571.2 311.4 L571.7 311.6 L572.2 311.7 L572.7 311.8 L573.2 312 L573.7 312.1 L574.2 312.2 L574.7 312.4 L575.2 312.5 L575.7 312.7 L576.2 312.8 L576.7 312.9 L577.2 313 L577.7 313.2 L578.2 313.3 L578.7 313.4 L579.2 313.5 L579.7 313.6 L580.2 313.8 L580.7 313.9 L581.2 314 L581.7 314.2 L582.2 314.3 L582.7 314.4 L583.2 314.5 L583.7 314.6 L584.2 314.8 L584.7 314.9 L585.2 314.9 L585.7 315 L586.2 315.1 L586.7 315.1 L587.2 315.2 L587.7 315.2 L588.2 315.2 L588.7 315.2 L589.2 315.2 L589.7 315.1 L590.2 315.1 L590.7 315 L591.2 314.9 L591.7 314.8 L592.2 314.7 L592.7 314.6 L593.2 314.5 L593.7 314.4 L594.2 314.2 L594.7 314.1 L595.2 313.9 L595.7 313.7 L596.2 313.6 L596.7 313.4 L597.2 313.2 L597.7 313 L598.2 312.8 L598.7 312.5 L599.2 312.3 L599.7 312 L600.2 311.7 L600.7 311.4 L601.2 311.1 L601.7 310.7 L602.2 310.4 L602.7 310.1 L603.2 309.7 L603.7 309.4 L604.2 309.1 L604.7 308.8 L605.2 308.5 L605.7 308.2 L606.2 307.9 L606.7 307.7 L607.2 307.5 L607.7 307.3 L608.2 307.1 L608.7 307 L609.2 306.8 L609.7 306.7 L610.2 306.6 L610.7 306.5 L611.2 306.4 L611.7 306.3 L612.2 306.2 L612.7 306.2 L613.2 306.1 L613.7 306 L614.2 306 L614.7 305.9 L615.2 305.9 L615.7 305.8 L616.2 305.8 L616.7 305.7 L617.2 305.7 L617.7 305.6 L618.2 305.6 L618.7 305.5 L619.2 305.4 L619.7 305.4 L620.2 305.3 L620.7 305.2 L621.2 305.2 L621.7 305.1 L622.2 305.1 L622.7 305 L623.2 304.9 L623.7 304.9 L624.2 304.8 L624.7 304.8 L625.2 304.7 L625.7 304.7 L626.2 304.6 L626.7 304.6 L627.2 304.5 L627.7 304.5 L628.2 304.5 L628.7 304.4 L629.2 304.4 L629.7 304.3 L630.2 304.3 L630.7 304.3 L631.2 304.2 L631.7 304.2" fill="none" stroke="#f7953a" stroke-width="1.75" stroke-linejoin="round" stroke-linecap="round"/>
<path d="M351.2 289.4 L351.7 290 L352.2 290.8 L352.7 291.7 L353.2 292.7 L353.7 293.6 L354.2 294.3 L354.7 295 L355.2 295.7 L355.7 296.3 L356.2 296.8 L356.7 297.3 L357.2 297.5 L357.7 297.6 L358.2 297.6 L358.7 297.5 L359.2 297.3 L359.7 297.1 L360.2 296.9 L360.7 296.7 L361.2 296.5 L361.7 296.4 L362.2 296.4 L362.7 296.5 L363.2 296.6 L363.7 296.7 L364.2 296.9 L364.7 297.1 L365.2 297.3 L365.7 297.5 L366.2 297.7 L366.7 297.9 L367.2 298 L367.7 298.2 L368.2 298.3 L368.7 298.3 L369.2 298.3 L369.7 298.2 L370.2 298.1 L370.7 298 L371.2 297.8 L371.7 297.7 L372.2 297.6 L372.7 297.5 L373.2 297.4 L373.7 297.3 L374.2 297.3 L374.7 297.2 L375.2 297.1 L375.7 297 L376.2 296.9 L376.7 296.8 L377.2 296.6 L377.7 296.3 L378.2 296 L378.7 295.6 L379.2 295.3 L379.7 294.9 L380.2 294.5 L380.7 294.1 L381.2 293.8 L381.7 293.5 L382.2 293.2 L382.7 292.9 L383.2 292.7 L383.7 292.5 L384.2 292.4 L384.7 292.2 L385.2 292.1 L385.7 291.9 L386.2 291.8 L386.7 291.7 L387.2 291.6 L387.7 291.4 L388.2 291.3 L388.7 291.2 L389.2 291.1 L389.7 291 L390.2 290.9 L390.7 290.8 L391.2 290.7 L391.7 290.6 L392.2 290.5 L392.7 290.4 L393.2 290.4 L393.7 290.3 L394.2 290.2 L394.7 290.1 L395.2 290 L395.7 290 L396.2 289.9 L396.7 289.8 L397.2 289.7 L397.7 289.7 L398.2 289.6 L398.7 289.5 L399.2 289.5 L399.7 289.5 L400.2 289.5 L400.7 289.7 L401.2 289.8 L401.7 290.1 L402.2 290.7 L402.7 291.5 L403.2 292.3 L403.7 293.4 L404.2 294.6 L404.7 295.1 L405.2 294.5 L405.7 293.5 L406.2 292.8 L406.7 292.1 L407.2 291.5 L407.7 291 L408.2 290.6 L408.7 290.4 L409.2 290.2 L409.7 290 L410.2 289.9 L410.7 289.7 L411.2 289.6 L411.7 289.5 L412.2 289.3 L412.7 289.2 L413.2 289.1 L413.7 289 L414.2 288.9 L414.7 288.8 L415.2 288.7 L415.7 288.6 L416.2 288.5 L416.7 288.4 L417.2 288.3 L417.7 288.3 L418.2 288.2 L418.7 288.1 L419.2 288.1 L419.7 288 L420.2 288 L420.7 287.9 L421.2 287.9 L421.7 287.8 L422.2 287.8 L422.7 287.8 L423.2 287.8 L423.7 287.8 L424.2 287.8 L424.7 287.8 L425.2 287.8 L425.7 287.8 L426.2 287.8 L426.7 287.9 L427.2 287.9 L427.7 287.9 L428.2 287.9 L428.7 288 L429.2 288 L429.7 288 L430.2 288.1 L430.7 288.1 L431.2 288.1 L431.7 288.1 L432.2 288.2 L432.7 288.2 L433.2 288.2 L433.7 288.2 L434.2 288.2 L434.7 288.2 L435.2 288.2 L435.7 288.2 L436.2 288.2 L436.7 288.2 L437.2 288.2 L437.7 288.2 L438.2 288.2 L438.7 288.2 L439.2 288.2 L439.7 288.2 L440.2 288.2 L440.7 288.3 L441.2 288.3 L441.7 288.3 L442.2 288.3 L442.7 288.4 L443.2 288.4 L443.7 288.5 L444.2 288.5 L444.7 288.7 L445.2 289 L445.7 289.3 L446.2 289.6 L446.7 289.9 L447.2 290.4 L447.7 290.8 L448.2 291.2 L448.7 291.4 L449.2 291.2 L449.7 290.8 L450.2 290.2 L450.7 289.7 L451.2 289.4 L451.7 289.2 L452.2 289 L452.7 288.8 L453.2 288.7 L453.7 288.5 L454.2 288.4 L454.7 288.3 L455.2 288.2 L455.7 288.1 L456.2 288 L456.7 287.9 L457.2 287.9 L457.7 287.8 L458.2 287.8 L458.7 287.8 L459.2 287.7 L459.7 287.7 L460.2 287.7 L460.7 287.7 L461.2 287.6 L461.7 287.6 L462.2 287.6 L462.7 287.6 L463.2 287.6 L463.7 287.6 L464.2 287.6 L464.7 287.6 L465.2 287.6 L465.7 287.6 L466.2 287.6 L466.7 287.6 L467.2 287.6 L467.7 287.6 L468.2 287.7 L468.7 287.7 L469.2 287.7 L469.7 287.7 L470.2 287.7 L470.7 287.7 L471.2 287.8 L471.7 287.8 L472.2 287.8 L472.7 287.9 L473.2 287.9 L473.7 288 L474.2 288 L474.7 288.1 L475.2 288.2 L475.7 288.2 L476.2 288.3 L476.7 288.3 L477.2 288.4 L477.7 288.4 L478.2 288.4 L478.7 288.5 L479.2 288.5 L479.7 288.5 L480.2 288.5 L480.7 288.5 L481.2 288.5 L481.7 288.5 L482.2 288.5 L482.7 288.5 L483.2 288.5 L483.7 288.5 L484.2 288.5 L484.7 288.4 L485.2 288.4 L485.7 288.4 L486.2 288.4 L486.7 288.4 L487.2 288.4 L487.7 288.4 L488.2 288.3 L488.7 288.3 L489.2 288.3 L489.7 288.3 L490.2 288.3 L490.7 288.3 L491.2 288.2 L491.7 288.2 L492.2 288.2 L492.7 288.2 L493.2 288.2 L493.7 288.1 L494.2 288.1 L494.7 288.1 L495.2 288.1 L495.7 288.1 L496.2 288 L496.7 288 L497.2 288 L497.7 288 L498.2 288 L498.7 287.9 L499.2 287.9 L499.7 287.9 L500.2 287.9 L500.7 287.9 L501.2 287.8 L501.7 287.8 L502.2 287.8 L502.7 287.8 L503.2 287.8 L503.7 287.8 L504.2 287.8 L504.7 287.7 L505.2 287.7 L505.7 287.7 L506.2 287.7 L506.7 287.7 L507.2 287.7 L507.7 287.7 L508.2 287.7 L508.7 287.7 L509.2 287.7 L509.7 287.7 L510.2 287.7 L510.7 287.7 L511.2 287.7 L511.7 287.7 L512.2 287.7 L512.7 287.7 L513.2 287.7 L513.7 287.7 L514.2 287.8 L514.7 287.8 L515.2 287.8 L515.7 287.8 L516.2 287.8 L516.7 287.8 L517.2 287.9 L517.7 287.9 L518.2 287.9 L518.7 287.9 L519.2 288 L519.7 288 L520.2 288 L520.7 288.1 L521.2 288.1 L521.7 288.1 L522.2 288.2 L522.7 288.2 L523.2 288.2 L523.7 288.3 L524.2 288.3 L524.7 288.3 L525.2 288.4 L525.7 288.4 L526.2 288.5 L526.7 288.5 L527.2 288.5 L527.7 288.6 L528.2 288.6 L528.7 288.7 L529.2 288.7 L529.7 288.7 L530.2 288.8 L530.7 288.8 L531.2 288.9 L531.7 288.9 L532.2 289 L532.7 289 L533.2 289.1 L533.7 289.1 L534.2 289.2 L534.7 289.2 L535.2 289.2 L535.7 289.3 L536.2 289.3 L536.7 289.4 L537.2 289.4 L537.7 289.5 L538.2 289.6 L538.7 289.6 L539.2 289.7 L539.7 289.8 L540.2 289.8 L540.7 289.9 L541.2 290 L541.7 290.1 L542.2 290.1 L542.7 290.2 L543.2 290.3 L543.7 290.4 L544.2 290.5 L544.7 290.5 L545.2 290.6 L545.7 290.7 L546.2 290.8 L546.7 290.9 L547.2 290.9 L547.7 291 L548.2 291.1 L548.7 291.2 L549.2 291.3 L549.7 291.4 L550.2 291.4 L550.7 291.5 L551.2 291.6 L551.7 291.7 L552.2 291.8 L552.7 291.9 L553.2 292 L553.7 292 L554.2 292.1 L554.7 292.2 L555.2 292.3 L555.7 292.4 L556.2 292.5 L556.7 292.6 L557.2 292.7 L557.7 292.8 L558.2 292.9 L558.7 293 L559.2 293 L559.7 293.1 L560.2 293.2 L560.7 293.3 L561.2 293.4 L561.7 293.5 L562.2 293.7 L562.7 293.8 L563.2 293.9 L563.7 294 L564.2 294.1 L564.7 294.2 L565.2 294.4 L565.7 294.5 L566.2 294.7 L566.7 294.8 L567.2 295 L567.7 295.1 L568.2 295.3 L568.7 295.4 L569.2 295.6 L569.7 295.8 L570.2 295.9 L570.7 296.1 L571.2 296.3 L571.7 296.4 L572.2 296.6 L572.7 296.8 L573.2 297 L573.7 297.1 L574.2 297.3 L574.7 297.4 L575.2 297.6 L575.7 297.8 L576.2 297.9 L576.7 298.1 L577.2 298.2 L577.7 298.3 L578.2 298.5 L578.7 298.6 L579.2 298.7 L579.7 298.9 L580.2 299 L580.7 299.1 L581.2 299.2 L581.7 299.4 L582.2 299.5 L582.7 299.6 L583.2 299.7 L583.7 299.8 L584.2 299.9 L584.7 300 L585.2 300.1 L585.7 300.1 L586.2 300.2 L586.7 300.2 L587.2 300.2 L587.7 300.2 L588.2 300.1 L588.7 300 L589.2 299.9 L589.7 299.8 L590.2 299.7 L590.7 299.5 L591.2 299.4 L591.7 299.2 L592.2 299 L592.7 298.8 L593.2 298.6 L593.7 298.3 L594.2 298.1 L594.7 297.8 L595.2 297.6 L595.7 297.3 L596.2 297.1 L596.7 296.8 L597.2 296.6 L597.7 296.3 L598.2 296 L598.7 295.8 L599.2 295.5 L599.7 295.2 L600.2 294.9 L600.7 294.5 L601.2 294.2 L601.7 293.9 L602.2 293.5 L602.7 293.2 L603.2 292.9 L603.7 292.5 L604.2 292.2 L604.7 291.9 L605.2 291.6 L605.7 291.4 L606.2 291.1 L606.7 290.9 L607.2 290.7 L607.7 290.5 L608.2 290.3 L608.7 290.2 L609.2 290 L609.7 289.9 L610.2 289.8 L610.7 289.7 L611.2 289.6 L611.7 289.5 L612.2 289.4 L612.7 289.4 L613.2 289.3 L613.7 289.2 L614.2 289.2 L614.7 289.1 L615.2 289.1 L615.7 289 L616.2 289 L616.7 288.9 L617.2 288.9 L617.7 288.8 L618.2 288.7 L618.7 288.7 L619.2 288.6 L619.7 288.6 L620.2 288.5 L620.7 288.4 L621.2 288.4 L621.7 288.3 L622.2 288.3 L622.7 288.2 L623.2 288.2 L623.7 288.1 L624.2 288.1 L624.7 288 L625.2 288 L625.7 287.9 L626.2 287.9 L626.7 287.8 L627.2 287.8 L627.7 287.8 L628.2 287.7 L628.7 287.7 L629.2 287.7 L629.7 287.6 L630.2 287.6 L630.7 287.6 L631.2 287.5 L631.7 287.5" fill="none" stroke="#fbb77f" stroke-width="1.75" stroke-linejoin="round" stroke-linecap="round"/>
<path d="M351.2 270.4 L351.7 271.1 L352.2 272.2 L352.7 273.4 L353.2 274.5 L353.7 275.3 L354.2 276 L354.7 276.6 L355.2 277.1 L355.7 277.7 L356.2 278.1 L356.7 278.6 L357.2 278.8 L357.7 278.9 L358.2 279 L358.7 279.2 L359.2 279.3 L359.7 279.4 L360.2 279.5 L360.7 279.6 L361.2 279.7 L361.7 279.7 L362.2 279.7 L362.7 279.7 L363.2 279.6 L363.7 279.5 L364.2 279.4 L364.7 279.3 L365.2 279.1 L365.7 279 L366.2 278.9 L366.7 278.8 L367.2 278.7 L367.7 278.6 L368.2 278.5 L368.7 278.5 L369.2 278.5 L369.7 278.6 L370.2 278.7 L370.7 278.8 L371.2 278.9 L371.7 279 L372.2 279 L372.7 279.1 L373.2 279.1 L373.7 279.2 L374.2 279.3 L374.7 279.3 L375.2 279.3 L375.7 279.3 L376.2 279.3 L376.7 279.2 L377.2 279.1 L377.7 278.9 L378.2 278.6 L378.7 278.3 L379.2 277.9 L379.7 277.6 L380.2 277.2 L380.7 276.8 L381.2 276.5 L381.7 276.1 L382.2 275.8 L382.7 275.6 L383.2 275.4 L383.7 275.2 L384.2 275.1 L384.7 275 L385.2 274.8 L385.7 274.7 L386.2 274.6 L386.7 274.5 L387.2 274.4 L387.7 274.3 L388.2 274.2 L388.7 274.1 L389.2 274 L389.7 274 L390.2 273.9 L390.7 273.8 L391.2 273.8 L391.7 273.7 L392.2 273.7 L392.7 273.6 L393.2 273.6 L393.7 273.6 L394.2 273.5 L394.7 273.5 L395.2 273.5 L395.7 273.4 L396.2 273.4 L396.7 273.4 L397.2 273.4 L397.7 273.5 L398.2 273.5 L398.7 273.5 L399.2 273.6 L399.7 273.7 L400.2 273.7 L400.7 273.8 L401.2 273.9 L401.7 274.1 L402.2 274.4 L402.7 275.1 L403.2 275.8 L403.7 276.8 L404.2 277.8 L404.7 278.1 L405.2 277.4 L405.7 276.6 L406.2 276.1 L406.7 275.8 L407.2 275.5 L407.7 275.4 L408.2 275.2 L408.7 275.1 L409.2 274.9 L409.7 274.8 L410.2 274.7 L410.7 274.6 L411.2 274.4 L411.7 274.3 L412.2 274.2 L412.7 274.1 L413.2 274 L413.7 273.9 L414.2 273.8 L414.7 273.7 L415.2 273.6 L415.7 273.5 L416.2 273.4 L416.7 273.4 L417.2 273.3 L417.7 273.2 L418.2 273.1 L418.7 273 L419.2 272.9 L419.7 272.8 L420.2 272.8 L420.7 272.7 L421.2 272.6 L421.7 272.6 L422.2 272.5 L422.7 272.5 L423.2 272.4 L423.7 272.4 L424.2 272.4 L424.7 272.4 L425.2 272.4 L425.7 272.4 L426.2 272.5 L426.7 272.5 L427.2 272.6 L427.7 272.7 L428.2 272.8 L428.7 272.9 L429.2 273 L429.7 273.1 L430.2 273.2 L430.7 273.3 L431.2 273.4 L431.7 273.5 L432.2 273.6 L432.7 273.6 L433.2 273.7 L433.7 273.7 L434.2 273.8 L434.7 273.8 L435.2 273.8 L435.7 273.8 L436.2 273.8 L436.7 273.8 L437.2 273.8 L437.7 273.8 L438.2 273.8 L438.7 273.8 L439.2 273.8 L439.7 273.8 L440.2 273.8 L440.7 273.8 L441.2 273.8 L441.7 273.8 L442.2 273.8 L442.7 273.9 L443.2 273.9 L443.7 274 L444.2 274 L444.7 274.2 L445.2 274.5 L445.7 274.9 L446.2 275.3 L446.7 275.7 L447.2 276.2 L447.7 276.8 L448.2 277.3 L448.7 277.6 L449.2 277.5 L449.7 277 L450.2 276.4 L450.7 275.8 L451.2 275.4 L451.7 275 L452.2 274.7 L452.7 274.4 L453.2 274.1 L453.7 273.9 L454.2 273.7 L454.7 273.7 L455.2 273.6 L455.7 273.5 L456.2 273.5 L456.7 273.4 L457.2 273.4 L457.7 273.4 L458.2 273.3 L458.7 273.3 L459.2 273.3 L459.7 273.2 L460.2 273.2 L460.7 273.2 L461.2 273.2 L461.7 273.2 L462.2 273.2 L462.7 273.1 L463.2 273.1 L463.7 273.1 L464.2 273.1 L464.7 273.1 L465.2 273.1 L465.7 273.1 L466.2 273.1 L466.7 273.1 L467.2 273.1 L467.7 273.1 L468.2 273 L468.7 273 L469.2 273 L469.7 273 L470.2 273 L470.7 273 L471.2 273 L471.7 272.9 L472.2 272.9 L472.7 272.9 L473.2 272.9 L473.7 272.9 L474.2 272.9 L474.7 272.9 L475.2 272.9 L475.7 272.8 L476.2 272.8 L476.7 272.8 L477.2 272.8 L477.7 272.8 L478.2 272.8 L478.7 272.8 L479.2 272.8 L479.7 272.8 L480.2 272.8 L480.7 272.8 L481.2 272.8 L481.7 272.8 L482.2 272.8 L482.7 272.8 L483.2 272.8 L483.7 272.8 L484.2 272.8 L484.7 272.8 L485.2 272.8 L485.7 272.8 L486.2 272.9 L486.7 272.9 L487.2 272.9 L487.7 272.9 L488.2 272.9 L488.7 272.9 L489.2 272.9 L489.7 272.9 L490.2 273 L490.7 273 L491.2 273 L491.7 273 L492.2 273 L492.7 273 L493.2 273.1 L493.7 273.1 L494.2 273.1 L494.7 273.1 L495.2 273.1 L495.7 273.1 L496.2 273.2 L496.7 273.2 L497.2 273.2 L497.7 273.2 L498.2 273.2 L498.7 273.3 L499.2 273.3 L499.7 273.3 L500.2 273.3 L500.7 273.3 L501.2 273.4 L501.7 273.4 L502.2 273.4 L502.7 273.4 L503.2 273.4 L503.7 273.5 L504.2 273.5 L504.7 273.5 L505.2 273.5 L505.7 273.5 L506.2 273.6 L506.7 273.6 L507.2 273.6 L507.7 273.6 L508.2 273.6 L508.7 273.7 L509.2 273.7 L509.7 273.7 L510.2 273.7 L510.7 273.8 L511.2 273.8 L511.7 273.8 L512.2 273.8 L512.7 273.8 L513.2 273.8 L513.7 273.9 L514.2 273.9 L514.7 273.9 L515.2 273.9 L515.7 273.9 L516.2 273.9 L516.7 274 L517.2 274 L517.7 274 L518.2 274 L518.7 274 L519.2 274 L519.7 274 L520.2 274.1 L520.7 274.1 L521.2 274.1 L521.7 274.1 L522.2 274.1 L522.7 274.1 L523.2 274.2 L523.7 274.2 L524.2 274.2 L524.7 274.2 L525.2 274.2 L525.7 274.2 L526.2 274.3 L526.7 274.3 L527.2 274.3 L527.7 274.3 L528.2 274.3 L528.7 274.4 L529.2 274.4 L529.7 274.4 L530.2 274.5 L530.7 274.5 L531.2 274.5 L531.7 274.6 L532.2 274.6 L532.7 274.6 L533.2 274.7 L533.7 274.7 L534.2 274.8 L534.7 274.8 L535.2 274.8 L535.7 274.9 L536.2 274.9 L536.7 275 L537.2 275.1 L537.7 275.2 L538.2 275.3 L538.7 275.4 L539.2 275.5 L539.7 275.6 L540.2 275.7 L540.7 275.8 L541.2 275.9 L541.7 276.1 L542.2 276.2 L542.7 276.3 L543.2 276.4 L543.7 276.6 L544.2 276.7 L544.7 276.8 L545.2 276.9 L545.7 277 L546.2 277.2 L546.7 277.3 L547.2 277.4 L547.7 277.5 L548.2 277.6 L548.7 277.6 L549.2 277.7 L549.7 277.8 L550.2 277.9 L550.7 278 L551.2 278.1 L551.7 278.2 L552.2 278.3 L552.7 278.4 L553.2 278.5 L553.7 278.5 L554.2 278.6 L554.7 278.7 L555.2 278.8 L555.7 278.9 L556.2 279 L556.7 279.1 L557.2 279.2 L557.7 279.3 L558.2 279.4 L558.7 279.4 L559.2 279.5 L559.7 279.6 L560.2 279.7 L560.7 279.8 L561.2 280 L561.7 280.1 L562.2 280.2 L562.7 280.3 L563.2 280.4 L563.7 280.5 L564.2 280.7 L564.7 280.8 L565.2 280.9 L565.7 281 L566.2 281.1 L566.7 281.3 L567.2 281.4 L567.7 281.5 L568.2 281.7 L568.7 281.8 L569.2 281.9 L569.7 282 L570.2 282.2 L570.7 282.3 L571.2 282.4 L571.7 282.6 L572.2 282.7 L572.7 282.8 L573.2 283 L573.7 283.1 L574.2 283.2 L574.7 283.3 L575.2 283.5 L575.7 283.6 L576.2 283.7 L576.7 283.8 L577.2 284 L577.7 284.1 L578.2 284.2 L578.7 284.3 L579.2 284.4 L579.7 284.5 L580.2 284.7 L580.7 284.8 L581.2 285 L581.7 285.1 L582.2 285.3 L582.7 285.4 L583.2 285.5 L583.7 285.7 L584.2 285.8 L584.7 285.9 L585.2 286 L585.7 286.1 L586.2 286.1 L586.7 286.2 L587.2 286.2 L587.7 286.2 L588.2 286.1 L588.7 286 L589.2 285.9 L589.7 285.8 L590.2 285.7 L590.7 285.5 L591.2 285.3 L591.7 285.1 L592.2 284.9 L592.7 284.7 L593.2 284.4 L593.7 284.2 L594.2 283.9 L594.7 283.6 L595.2 283.4 L595.7 283.1 L596.2 282.8 L596.7 282.5 L597.2 282.3 L597.7 282 L598.2 281.7 L598.7 281.5 L599.2 281.2 L599.7 280.9 L600.2 280.6 L600.7 280.2 L601.2 279.9 L601.7 279.6 L602.2 279.2 L602.7 278.9 L603.2 278.6 L603.7 278.3 L604.2 278 L604.7 277.7 L605.2 277.4 L605.7 277.1 L606.2 276.8 L606.7 276.6 L607.2 276.4 L607.7 276.2 L608.2 276 L608.7 275.8 L609.2 275.7 L609.7 275.5 L610.2 275.4 L610.7 275.3 L611.2 275.2 L611.7 275 L612.2 274.9 L612.7 274.8 L613.2 274.7 L613.7 274.7 L614.2 274.6 L614.7 274.5 L615.2 274.4 L615.7 274.3 L616.2 274.3 L616.7 274.2 L617.2 274.1 L617.7 274 L618.2 274 L618.7 273.9 L619.2 273.8 L619.7 273.7 L620.2 273.6 L620.7 273.6 L621.2 273.5 L621.7 273.4 L622.2 273.3 L622.7 273.3 L623.2 273.2 L623.7 273.1 L624.2 273.1 L624.7 273 L625.2 272.9 L625.7 272.9 L626.2 272.8 L626.7 272.8 L627.2 272.7 L627.7 272.7 L628.2 272.6 L628.7 272.6 L629.2 272.5 L629.7 272.5 L630.2 272.4 L630.7 272.4 L631.2 272.4 L631.7 272.3" fill="none" stroke="#fcd3b1" stroke-width="1.75" stroke-linejoin="round" stroke-linecap="round"/>
<line x1="358.1" y1="273.5" x2="358.1" y2="443" stroke="#1a1a1a" stroke-width="1.0" stroke-dasharray="4.8 2.3 1 3.6 1 3.5"/>
<line x1="368.4" y1="273.5" x2="368.4" y2="442" stroke="#1a1a1a" stroke-width="1.0" stroke-dasharray="4.8 2.3 1 3.6 1 3.5"/>
<line x1="378.5" y1="273.5" x2="378.5" y2="441" stroke="#1a1a1a" stroke-width="1.0" stroke-dasharray="4.8 2.3 1 3.6 1 3.5"/>
<line x1="404.4" y1="270" x2="404.4" y2="437" stroke="#1a1a1a" stroke-width="1.0" stroke-dasharray="4.8 2.3 1 3.6 1 3.5"/>
<line x1="410.6" y1="270.5" x2="410.6" y2="421" stroke="#1a1a1a" stroke-width="1.0" stroke-dasharray="4.8 2.3 1 3.6 1 3.5"/>
<line x1="448.8" y1="269.3" x2="448.8" y2="418" stroke="#1a1a1a" stroke-width="1.0" stroke-dasharray="4.8 2.3 1 3.6 1 3.5"/>
<line x1="561.4" y1="324" x2="561.4" y2="435" stroke="#1a1a1a" stroke-width="1.0" stroke-dasharray="4.8 2.3 1 3.6 1 3.5"/>
<line x1="577.7" y1="325.6" x2="577.7" y2="438" stroke="#1a1a1a" stroke-width="1.0" stroke-dasharray="4.8 2.3 1 3.6 1 3.5"/>
<line x1="587.9" y1="281.9" x2="587.9" y2="338.3" stroke="#1a1a1a" stroke-width="1.0" stroke-dasharray="4.8 2.3 1 3.6 1 3.5"/>
<rect x="351.2" y="252.8" width="281.4" height="211.2" fill="none" stroke="#000" stroke-width="1.6"/>
<line x1="632.6" y1="272.3" x2="632.6" y2="375" stroke="#a87a4e" stroke-width="1.7"/>
<line x1="632.6" y1="375" x2="632.6" y2="443" stroke="#5e8a8a" stroke-width="1.7"/>
<line x1="359.2" y1="464" x2="359.2" y2="466.3" stroke="#000" stroke-width="1.3"/>
<line x1="398.2" y1="464" x2="398.2" y2="468.2" stroke="#000" stroke-width="1.3"/>
<line x1="437.2" y1="464" x2="437.2" y2="466.3" stroke="#000" stroke-width="1.3"/>
<line x1="476.2" y1="464" x2="476.2" y2="468.2" stroke="#000" stroke-width="1.3"/>
<line x1="515.2" y1="464" x2="515.2" y2="466.3" stroke="#000" stroke-width="1.3"/>
<line x1="554.2" y1="464" x2="554.2" y2="468.2" stroke="#000" stroke-width="1.3"/>
<line x1="593.2" y1="464" x2="593.2" y2="466.3" stroke="#000" stroke-width="1.3"/>
<line x1="632.2" y1="464" x2="632.2" y2="468.2" stroke="#000" stroke-width="1.3"/>
<text transform="translate(398.2,480.8) scale(0.91,1.0)" font-size="13.6" text-anchor="middle">1000</text>
<text transform="translate(476.2,480.8) scale(0.91,1.0)" font-size="13.6" text-anchor="middle">2000</text>
<text transform="translate(554.2,480.8) scale(0.91,1.0)" font-size="13.6" text-anchor="middle">3000</text>
<text transform="translate(632.2,480.8) scale(0.91,1.0)" font-size="13.6" text-anchor="middle">4000</text>
<text x="486" y="499.6" font-size="15.6" text-anchor="middle" letter-spacing="0.45">Wavenumber (cm<tspan font-size="10" dy="-6">-1</tspan><tspan dy="6">)</tspan></text>
<text transform="translate(337.2,350.9) rotate(-90)" font-size="16.6" text-anchor="middle">Transmittance (a.u.)</text>
<text x="359.9" y="269" font-size="19.5" text-anchor="start">d</text>
<text x="509.7" y="271.7" font-size="12.3" text-anchor="middle">80°C</text>
<text x="509.7" y="286.4" font-size="12.3" text-anchor="middle">90°C</text>
<text x="509.7" y="302.5" font-size="12.3" text-anchor="middle">100°C</text>
<text x="509.7" y="318" font-size="12.3" text-anchor="middle">110°C</text>
<text x="509.7" y="334.4" font-size="12.3" text-anchor="middle">120°C</text>
<text x="509.7" y="351.5" font-size="12.3" text-anchor="middle">130°C</text>
<text x="509.7" y="369.5" font-size="12.3" text-anchor="middle">140°C</text>
<text x="509.7" y="383.9" font-size="12.3" text-anchor="middle">150°C</text>
<text x="509.7" y="400.9" font-size="12.3" text-anchor="middle">160°C</text>
<text transform="translate(360.1,462.7) scale(1.07,1) rotate(-90)" font-size="12.3" text-anchor="start" style="stroke-width:0.25px">485</text>
<text transform="translate(371.2,462.7) scale(1.07,1) rotate(-90)" font-size="12.3" text-anchor="start" style="stroke-width:0.25px">616</text>
<text transform="translate(383.3,459.5) scale(1.07,1) rotate(-90)" font-size="12.3" text-anchor="start" style="stroke-width:0.25px">740</text>
<text transform="translate(406.5,460.9) scale(1.07,1) rotate(-90)" font-size="12.3" text-anchor="start" style="stroke-width:0.25px">1074</text>
<text transform="translate(416.2,444.8) scale(1.07,1) rotate(-90)" font-size="12.3" text-anchor="start" style="stroke-width:0.25px">1150</text>
<text transform="translate(452.5,443.6) scale(1.07,1) rotate(-90)" font-size="12.3" text-anchor="start" style="stroke-width:0.25px">1635</text>
<text transform="translate(564.2,460.8) scale(1.07,1) rotate(-90)" font-size="12.3" text-anchor="start" style="stroke-width:0.25px">3089</text>
<text transform="translate(582.8,462.7) scale(1.07,1) rotate(-90)" font-size="12.3" text-anchor="start" style="stroke-width:0.25px">3293</text>
<text transform="translate(591.9,279.5) scale(1.07,1) rotate(-90)" font-size="12.3" text-anchor="start" style="stroke-width:0.25px">3425</text>
</svg></body></html>
